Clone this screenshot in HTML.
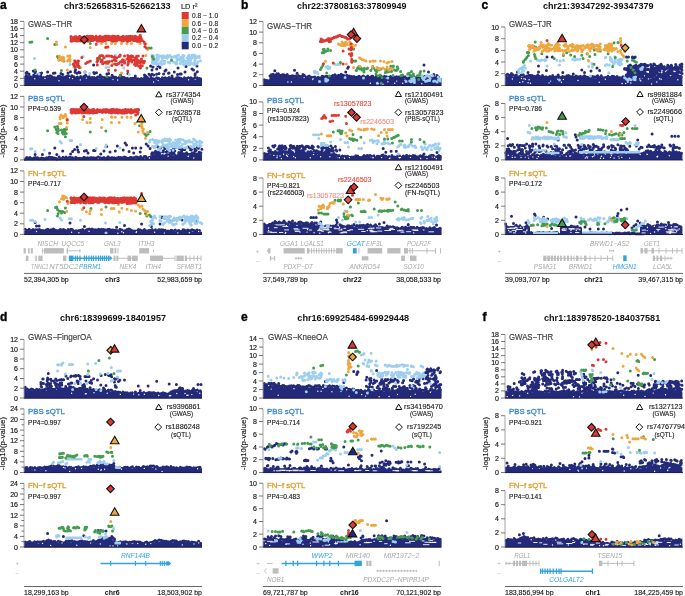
<!DOCTYPE html>
<html><head><meta charset="utf-8"><style>html,body{margin:0;padding:0;background:#fff;width:685px;height:596px;overflow:hidden}svg{display:block;will-change:transform}text{font-family:"Liberation Sans",sans-serif}</style></head><body><svg width="685" height="596" viewBox="0 0 685 596" font-family="Liberation Sans, sans-serif"><rect width="685" height="596" fill="#fff"/><path d="M24.0 85.9L24.0 76.5L25.2 76.2L26.4 77.2L27.6 76.1L28.8 77.0L30.0 76.7L31.2 76.1L32.4 77.0L33.6 76.1L34.8 76.9L36.0 76.1L37.2 76.2L38.4 76.9L39.6 77.7L40.8 76.3L42.0 76.5L43.2 77.3L44.4 78.0L45.6 77.2L46.8 76.9L48.0 78.1L49.2 76.2L50.4 77.8L51.6 76.7L52.8 76.4L54.0 76.4L55.2 76.8L56.4 77.8L57.6 76.5L58.8 77.4L60.0 77.5L61.2 77.0L62.4 77.3L63.6 76.4L64.8 76.4L66.0 76.7L67.2 77.7L68.4 77.2L69.6 77.0L70.8 77.6L72.0 77.3L73.2 77.1L74.4 78.1L75.6 77.9L76.8 77.0L78.0 77.7L79.2 77.6L80.4 78.4L81.6 78.1L82.8 77.2L84.0 78.6L85.2 76.9L86.4 77.6L87.6 78.3L88.8 77.1L90.0 77.8L91.2 76.9L92.4 78.2L93.6 78.4L94.8 78.0L96.0 78.7L97.2 77.6L98.4 78.4L99.6 78.2L100.8 78.2L102.0 77.9L103.2 78.7L104.4 79.0L105.6 78.0L106.8 78.4L108.0 77.3L109.2 78.6L110.4 78.5L111.6 79.2L112.8 78.9L114.0 77.8L115.2 78.0L116.4 78.6L117.6 77.4L118.8 78.3L120.0 77.7L121.2 77.6L122.4 77.5L123.6 78.9L124.8 77.7L126.0 78.0L127.2 78.3L128.4 79.2L129.6 77.7L130.8 78.4L132.0 78.7L133.2 79.3L134.4 79.2L135.6 79.4L136.8 78.2L138.0 78.5L139.2 78.4L140.4 79.5L141.6 79.6L142.8 78.0L144.0 78.1L145.2 78.2L146.4 78.2L147.6 78.7L148.8 78.9L150.0 78.3L151.2 77.7L152.4 78.6L153.6 78.5L154.8 78.9L156.0 79.7L157.2 79.1L158.4 78.8L159.6 79.0L160.8 79.1L162.0 77.9L163.2 79.6L164.4 79.3L165.6 79.5L166.8 79.4L168.0 78.6L169.2 78.6L170.4 78.0L171.6 79.1L172.8 77.9L174.0 77.9L175.2 78.2L176.4 78.1L177.6 78.5L178.8 77.9L180.0 77.8L181.2 78.1L182.4 78.0L183.6 78.6L184.8 77.9L186.0 79.6L187.2 79.1L188.4 78.2L189.6 78.4L190.8 78.6L192.0 78.6L193.2 78.1L194.4 79.6L195.6 79.9L196.8 78.8L198.0 78.9L199.2 78.1L200.4 78.1L201.6 78.6L202.0 78.4L202.0 85.9Z" fill="#232a79"/><path d="M24.0 160.4L24.0 158.1L25.2 157.9L26.4 158.9L27.6 158.5L28.8 157.7L30.0 158.7L31.2 157.6L32.4 159.0L33.6 158.9L34.8 159.0L36.0 158.7L37.2 158.2L38.4 158.2L39.6 158.2L40.8 159.2L42.0 157.6L43.2 159.2L44.4 157.5L45.6 157.8L46.8 157.9L48.0 159.2L49.2 158.4L50.4 158.2L51.6 159.2L52.8 157.9L54.0 158.3L55.2 158.4L56.4 158.9L57.6 158.9L58.8 158.7L60.0 158.1L61.2 158.0L62.4 157.7L63.6 159.0L64.8 158.7L66.0 158.8L67.2 157.7L68.4 158.2L69.6 158.9L70.8 158.5L72.0 157.6L73.2 158.2L74.4 159.1L75.6 157.8L76.8 157.7L78.0 157.9L79.2 158.7L80.4 159.0L81.6 157.6L82.8 157.6L84.0 157.8L85.2 157.9L86.4 158.3L87.6 157.6L88.8 157.9L90.0 157.6L91.2 159.2L92.4 158.7L93.6 157.4L94.8 159.1L96.0 157.4L97.2 158.0L98.4 159.2L99.6 158.8L100.8 158.7L102.0 158.0L103.2 157.6L104.4 158.4L105.6 157.4L106.8 157.5L108.0 157.9L109.2 157.2L110.4 157.9L111.6 158.7L112.8 158.5L114.0 158.1L115.2 158.3L116.4 158.0L117.6 157.3L118.8 158.2L120.0 157.8L121.2 158.5L122.4 158.8L123.6 157.8L124.8 158.1L126.0 158.4L127.2 157.8L128.4 157.4L129.6 158.3L130.8 158.6L132.0 158.4L133.2 158.3L134.4 158.5L135.6 158.2L136.8 158.1L138.0 157.7L139.2 157.4L140.4 158.0L141.6 157.0L142.8 157.6L144.0 158.3L145.2 158.2L146.4 158.0L147.6 157.2L148.8 157.1L150.0 156.6L151.2 156.3L152.4 155.5L153.6 156.0L154.8 156.5L156.0 155.0L157.2 156.0L158.4 156.2L159.6 155.4L160.8 155.6L162.0 156.5L163.2 154.7L164.4 155.7L165.6 154.9L166.8 156.1L168.0 156.4L169.2 155.6L170.4 154.7L171.6 155.7L172.8 155.6L174.0 155.9L175.2 155.5L176.4 155.7L177.6 156.1L178.8 155.5L180.0 155.2L181.2 156.3L182.4 154.8L183.6 155.8L184.8 155.2L186.0 155.9L187.2 154.6L188.4 156.3L189.6 155.0L190.8 154.4L192.0 154.8L193.2 155.1L194.4 154.3L195.6 155.1L196.8 155.1L198.0 155.6L199.2 154.9L200.4 154.7L201.6 154.7L202.0 155.7L202.0 160.4Z" fill="#232a79"/><path d="M24.0 234.9L24.0 231.1L25.2 231.0L26.4 229.6L27.6 229.9L28.8 229.4L30.0 230.7L31.2 230.6L32.4 230.0L33.6 230.1L34.8 230.6L36.0 230.7L37.2 229.8L38.4 231.0L39.6 230.0L40.8 230.6L42.0 229.7L43.2 229.5L44.4 231.1L45.6 230.8L46.8 230.7L48.0 229.4L49.2 229.4L50.4 229.6L51.6 229.7L52.8 229.9L54.0 230.1L55.2 229.4L56.4 229.9L57.6 230.6L58.8 229.7L60.0 231.0L61.2 230.4L62.4 230.7L63.6 229.8L64.8 230.2L66.0 230.7L67.2 230.0L68.4 229.3L69.6 231.0L70.8 230.9L72.0 229.9L73.2 229.4L74.4 231.0L75.6 230.5L76.8 229.4L78.0 229.8L79.2 229.5L80.4 230.9L81.6 229.7L82.8 231.1L84.0 230.8L85.2 229.5L86.4 230.7L87.6 230.1L88.8 230.8L90.0 231.0L91.2 229.9L92.4 229.5L93.6 231.2L94.8 230.1L96.0 231.2L97.2 230.7L98.4 230.8L99.6 231.0L100.8 230.6L102.0 230.2L103.2 229.4L104.4 230.7L105.6 230.2L106.8 230.4L108.0 231.2L109.2 229.6L110.4 230.9L111.6 229.5L112.8 230.8L114.0 231.0L115.2 229.9L116.4 230.5L117.6 231.4L118.8 230.7L120.0 230.5L121.2 230.0L122.4 229.6L123.6 230.2L124.8 230.3L126.0 229.9L127.2 230.1L128.4 229.8L129.6 231.0L130.8 230.9L132.0 230.0L133.2 230.0L134.4 230.6L135.6 230.5L136.8 231.5L138.0 230.3L139.2 230.2L140.4 231.4L141.6 229.9L142.8 230.8L144.0 230.3L145.2 231.3L146.4 230.8L147.6 231.2L148.8 230.0L150.0 231.0L151.2 230.9L152.4 230.6L153.6 231.3L154.8 231.4L156.0 230.0L157.2 230.3L158.4 230.5L159.6 230.2L160.8 229.9L162.0 230.4L163.2 230.2L164.4 231.2L165.6 230.7L166.8 230.1L168.0 230.5L169.2 230.8L170.4 230.6L171.6 230.2L172.8 230.1L174.0 230.0L175.2 231.9L176.4 231.5L177.6 230.1L178.8 231.4L180.0 231.9L181.2 231.1L182.4 230.2L183.6 231.0L184.8 230.9L186.0 230.4L187.2 231.1L188.4 230.1L189.6 231.9L190.8 231.4L192.0 231.4L193.2 232.0L194.4 231.4L195.6 230.6L196.8 230.6L198.0 230.4L199.2 230.2L200.4 231.7L201.6 231.9L202.0 230.8L202.0 234.9Z" fill="#232a79"/><path d="M263.0 85.9L263.0 80.0L264.2 81.1L265.4 80.5L266.6 79.3L267.8 79.8L269.0 80.0L270.2 75.3L271.4 75.2L272.6 74.2L273.8 75.5L275.0 74.6L276.2 74.2L277.4 75.2L278.6 74.4L279.8 75.4L281.0 75.9L282.2 75.6L283.4 75.4L284.6 74.6L285.8 75.6L287.0 74.9L288.2 76.2L289.4 75.4L290.6 76.6L291.8 76.4L293.0 76.8L294.2 77.5L295.4 76.4L296.6 76.3L297.8 77.7L299.0 76.4L300.2 77.4L301.4 77.4L302.6 76.6L303.8 75.9L305.0 75.7L306.2 77.3L307.4 75.8L308.6 76.9L309.8 77.3L311.0 76.8L312.2 77.8L313.4 77.5L314.6 78.2L315.8 78.0L317.0 77.7L318.2 77.2L319.4 77.6L320.6 77.0L321.8 76.7L323.0 76.7L324.2 77.8L325.4 76.9L326.6 77.5L327.8 75.6L329.0 77.4L330.2 76.4L331.4 76.9L332.6 76.3L333.8 76.4L335.0 75.4L336.2 76.4L337.4 75.1L338.6 75.3L339.8 74.8L341.0 75.6L342.2 76.0L343.4 75.6L344.6 76.9L345.8 75.4L347.0 76.5L348.2 75.9L349.4 76.7L350.6 77.2L351.8 77.1L353.0 75.9L354.2 76.2L355.4 77.0L356.6 77.8L357.8 75.9L359.0 77.1L360.2 77.2L361.4 77.5L362.6 76.6L363.8 77.5L365.0 76.9L366.2 77.8L367.4 76.0L368.6 77.9L369.8 76.8L371.0 76.9L372.2 76.2L373.4 76.6L374.6 77.6L375.8 77.5L377.0 76.5L378.2 76.9L379.4 76.5L380.6 76.6L381.8 76.7L383.0 76.9L384.2 78.2L385.4 78.3L386.6 77.9L387.8 77.3L389.0 77.3L390.2 77.9L391.4 78.2L392.6 77.9L393.8 77.6L395.0 76.8L396.2 77.6L397.4 78.1L398.6 78.0L399.8 76.6L401.0 77.9L402.2 77.2L403.4 76.8L404.6 78.4L405.8 77.8L407.0 78.0L408.2 76.8L409.4 78.2L410.6 78.4L411.8 78.3L413.0 78.0L414.2 78.2L415.4 78.2L416.6 77.7L417.8 77.4L419.0 78.2L420.2 78.2L421.4 78.3L422.6 77.2L423.8 78.5L425.0 77.7L426.2 78.5L427.4 76.9L428.6 78.6L429.8 78.2L431.0 77.1L432.2 78.3L433.4 77.1L434.6 77.1L435.8 77.6L437.0 77.1L438.2 77.7L439.4 78.5L440.6 78.1L441.6 78.1L441.6 85.9Z" fill="#232a79"/><path d="M263.0 160.4L263.0 155.6L264.2 154.6L265.4 153.8L266.6 154.2L267.8 155.8L269.0 153.9L270.2 154.5L271.4 153.9L272.6 154.1L273.8 152.9L275.0 152.8L276.2 152.7L277.4 154.9L278.6 153.4L279.8 154.1L281.0 153.9L282.2 153.0L283.4 152.7L284.6 152.5L285.8 154.5L287.0 152.8L288.2 154.8L289.4 153.4L290.6 154.2L291.8 152.8L293.0 154.4L294.2 153.1L295.4 153.4L296.6 153.8L297.8 152.8L299.0 153.1L300.2 154.4L301.4 153.2L302.6 153.5L303.8 154.4L305.0 153.2L306.2 153.1L307.4 153.2L308.6 153.7L309.8 153.7L311.0 154.4L312.2 154.0L313.4 155.0L314.6 153.1L315.8 154.6L317.0 155.0L318.2 153.6L319.4 153.1L320.6 154.2L321.8 153.4L323.0 154.3L324.2 154.9L325.4 153.5L326.6 153.6L327.8 154.5L329.0 153.8L330.2 153.9L331.4 154.5L332.6 153.7L333.8 153.7L335.0 155.4L336.2 156.6L337.4 157.8L338.6 156.9L339.8 155.7L341.0 156.1L342.2 157.4L343.4 156.9L344.6 157.7L345.8 157.9L347.0 157.7L348.2 155.9L349.4 157.9L350.6 157.0L351.8 156.3L353.0 156.1L354.2 157.8L355.4 156.2L356.6 155.9L357.8 156.4L359.0 157.9L360.2 156.8L361.4 157.5L362.6 155.9L363.8 156.8L365.0 156.5L366.2 156.2L367.4 157.3L368.6 156.6L369.8 156.1L371.0 158.1L372.2 156.9L373.4 156.2L374.6 155.8L375.8 157.4L377.0 157.0L378.2 155.9L379.4 156.9L380.6 157.6L381.8 157.1L383.0 156.3L384.2 157.0L385.4 157.2L386.6 157.3L387.8 156.1L389.0 157.7L390.2 158.0L391.4 157.5L392.6 157.8L393.8 156.6L395.0 157.9L396.2 156.2L397.4 156.3L398.6 157.1L399.8 157.9L401.0 155.9L402.2 156.2L403.4 155.8L404.6 156.7L405.8 156.0L407.0 156.1L408.2 157.5L409.4 157.1L410.6 157.9L411.8 156.6L413.0 157.3L414.2 155.7L415.4 157.9L416.6 156.2L417.8 156.8L419.0 156.8L420.2 157.9L421.4 156.8L422.6 158.0L423.8 157.1L425.0 156.1L426.2 157.6L427.4 156.1L428.6 158.0L429.8 156.7L431.0 156.1L432.2 157.9L433.4 156.3L434.6 156.5L435.8 156.4L437.0 157.1L438.2 155.6L439.4 156.4L440.6 155.9L441.6 157.5L441.6 160.4Z" fill="#232a79"/><path d="M263.0 234.9L263.0 224.6L264.2 225.6L265.4 224.2L266.6 225.6L267.8 224.2L269.0 223.1L270.2 224.8L271.4 223.0L272.6 224.4L273.8 222.5L275.0 225.0L276.2 223.6L277.4 224.1L278.6 222.3L279.8 223.6L281.0 222.9L282.2 222.6L283.4 224.2L284.6 222.0L285.8 223.3L287.0 222.2L288.2 224.4L289.4 224.5L290.6 222.2L291.8 223.4L293.0 223.4L294.2 224.2L295.4 224.2L296.6 223.2L297.8 224.9L299.0 222.8L300.2 222.7L301.4 224.6L302.6 222.7L303.8 222.9L305.0 223.9L306.2 223.4L307.4 223.0L308.6 225.2L309.8 224.0L311.0 224.9L312.2 223.4L313.4 225.3L314.6 223.4L315.8 225.6L317.0 225.1L318.2 226.5L319.4 226.3L320.6 226.2L321.8 226.3L323.0 227.6L324.2 226.8L325.4 226.0L326.6 228.3L327.8 227.9L329.0 227.4L330.2 227.5L331.4 226.0L332.6 226.6L333.8 227.5L335.0 227.8L336.2 227.6L337.4 225.4L338.6 226.8L339.8 226.4L341.0 225.9L342.2 225.3L343.4 225.2L344.6 226.1L345.8 226.2L347.0 225.5L348.2 225.8L349.4 226.4L350.6 226.9L351.8 226.5L353.0 225.3L354.2 227.3L355.4 225.8L356.6 227.5L357.8 227.5L359.0 225.2L360.2 226.4L361.4 227.5L362.6 225.9L363.8 226.4L365.0 225.8L366.2 225.0L367.4 225.6L368.6 225.4L369.8 225.8L371.0 226.8L372.2 226.7L373.4 227.8L374.6 227.1L375.8 226.2L377.0 227.9L378.2 227.0L379.4 226.8L380.6 227.8L381.8 227.3L383.0 226.5L384.2 227.3L385.4 226.5L386.6 228.5L387.8 226.6L389.0 228.7L390.2 226.2L391.4 226.2L392.6 227.8L393.8 226.9L395.0 227.8L396.2 226.8L397.4 228.9L398.6 228.6L399.8 228.7L401.0 229.4L402.2 229.6L403.4 228.7L404.6 228.9L405.8 226.9L407.0 227.0L408.2 228.1L409.4 229.6L410.6 227.8L411.8 228.5L413.0 227.0L414.2 228.1L415.4 229.5L416.6 228.7L417.8 229.3L419.0 227.1L420.2 227.6L421.4 227.6L422.6 229.4L423.8 227.4L425.0 229.7L426.2 227.9L427.4 229.6L428.6 228.6L429.8 228.1L431.0 229.9L432.2 228.3L433.4 229.2L434.6 227.4L435.8 229.6L437.0 230.0L438.2 227.6L439.4 229.4L440.6 228.0L441.6 227.7L441.6 234.9Z" fill="#232a79"/><path d="M505.0 85.9L505.0 75.0L506.2 75.6L507.4 76.4L508.6 75.3L509.8 75.0L511.0 75.9L512.2 75.8L513.4 77.0L514.6 77.0L515.8 75.4L517.0 76.2L518.2 75.9L519.4 75.1L520.6 76.1L521.8 77.2L523.0 75.8L524.2 76.5L525.4 76.8L526.6 75.3L527.8 77.4L529.0 75.5L530.2 76.0L531.4 77.0L532.6 75.3L533.8 76.2L535.0 75.6L536.2 76.5L537.4 75.4L538.6 75.8L539.8 76.0L541.0 75.7L542.2 75.7L543.4 76.0L544.6 76.8L545.8 75.9L547.0 77.6L548.2 76.6L549.4 76.3L550.6 76.3L551.8 77.7L553.0 75.9L554.2 77.6L555.4 76.0L556.6 78.1L557.8 76.8L559.0 77.3L560.2 78.0L561.4 76.1L562.6 76.1L563.8 77.6L565.0 77.3L566.2 77.6L567.4 76.6L568.6 77.1L569.8 76.3L571.0 76.9L572.2 76.6L573.4 77.3L574.6 76.6L575.8 76.6L577.0 77.4L578.2 76.1L579.4 77.8L580.6 77.1L581.8 76.4L583.0 76.2L584.2 77.1L585.4 77.1L586.6 77.6L587.8 76.8L589.0 76.9L590.2 78.0L591.4 76.6L592.6 78.3L593.8 78.0L595.0 78.3L596.2 78.2L597.4 76.5L598.6 77.9L599.8 77.4L601.0 76.4L602.2 78.3L603.4 77.5L604.6 77.9L605.8 77.3L607.0 76.1L608.2 78.0L609.4 76.4L610.6 76.6L611.8 77.4L613.0 76.4L614.2 77.1L615.4 77.7L616.6 76.2L617.8 77.6L619.0 76.2L620.2 77.1L621.4 77.6L622.6 77.7L623.8 76.3L625.0 76.7L626.2 78.7L627.4 77.4L628.6 77.5L629.8 77.4L631.0 78.1L632.2 78.2L633.4 78.0L634.6 77.4L635.8 77.8L637.0 77.7L638.2 76.9L639.4 78.7L640.6 78.7L641.8 78.2L643.0 78.7L644.2 77.5L645.4 78.4L646.6 76.9L647.8 78.1L649.0 78.0L650.2 78.5L651.4 78.3L652.6 78.4L653.8 76.9L655.0 78.1L656.2 77.4L657.4 77.0L658.6 77.1L659.8 78.1L661.0 78.2L662.2 78.2L663.4 77.8L664.6 76.6L665.8 76.5L667.0 77.5L668.2 76.6L669.4 76.9L670.6 76.4L671.8 76.5L673.0 77.8L674.2 76.6L675.4 78.1L676.6 76.8L677.8 78.1L679.0 76.8L680.2 76.7L681.4 77.0L682.4 76.0L682.4 85.9Z" fill="#232a79"/><path d="M505.0 159.9L505.0 153.2L506.2 153.9L507.4 155.9L508.6 154.6L509.8 153.9L511.0 155.8L512.2 156.0L513.4 153.7L514.6 154.9L515.8 155.1L517.0 153.8L518.2 154.4L519.4 155.3L520.6 155.5L521.8 155.4L523.0 155.4L524.2 154.7L525.4 153.8L526.6 153.7L527.8 156.2L529.0 156.3L530.2 156.4L531.4 154.0L532.6 156.1L533.8 154.3L535.0 154.8L536.2 154.4L537.4 156.4L538.6 156.3L539.8 156.4L541.0 155.0L542.2 156.7L543.4 154.7L544.6 155.7L545.8 156.0L547.0 154.7L548.2 155.1L549.4 154.3L550.6 156.4L551.8 154.6L553.0 154.5L554.2 154.9L555.4 156.0L556.6 156.1L557.8 155.7L559.0 156.7L560.2 156.5L561.4 154.8L562.6 155.8L563.8 154.7L565.0 154.9L566.2 154.6L567.4 154.4L568.6 155.3L569.8 156.9L571.0 156.2L572.2 154.5L573.4 154.9L574.6 156.0L575.8 155.8L577.0 154.3L578.2 154.5L579.4 155.9L580.6 156.0L581.8 154.4L583.0 156.5L584.2 154.9L585.4 156.0L586.6 155.8L587.8 155.2L589.0 157.0L590.2 155.4L591.4 155.5L592.6 155.8L593.8 156.7L595.0 157.2L596.2 156.5L597.4 155.8L598.6 156.4L599.8 156.1L601.0 157.0L602.2 157.0L603.4 156.3L604.6 154.6L605.8 155.6L607.0 155.2L608.2 154.5L609.4 156.1L610.6 154.4L611.8 155.8L613.0 155.1L614.2 154.8L615.4 155.6L616.6 155.6L617.8 156.4L619.0 156.4L620.2 155.7L621.4 154.0L622.6 155.2L623.8 154.6L625.0 155.9L626.2 154.4L627.4 154.1L628.6 153.0L629.8 154.3L631.0 154.4L632.2 153.7L633.4 153.0L634.6 154.1L635.8 152.8L637.0 153.1L638.2 153.8L639.4 153.5L640.6 153.9L641.8 153.9L643.0 153.5L644.2 152.6L645.4 152.2L646.6 153.8L647.8 155.0L649.0 152.9L650.2 153.1L651.4 153.0L652.6 154.2L653.8 153.4L655.0 154.3L656.2 151.9L657.4 152.3L658.6 152.5L659.8 152.9L661.0 153.0L662.2 152.9L663.4 154.6L664.6 153.0L665.8 153.4L667.0 154.5L668.2 153.5L669.4 153.3L670.6 154.0L671.8 152.5L673.0 151.6L674.2 154.3L675.4 153.0L676.6 153.1L677.8 151.5L679.0 153.5L680.2 152.4L681.4 153.2L682.4 152.1L682.4 159.9Z" fill="#232a79"/><path d="M505.0 234.9L505.0 228.0L506.2 227.1L507.4 225.7L508.6 227.2L509.8 226.7L511.0 226.4L512.2 226.5L513.4 225.9L514.6 226.2L515.8 227.5L517.0 227.9L518.2 226.7L519.4 227.9L520.6 225.8L521.8 227.0L523.0 227.7L524.2 227.8L525.4 226.7L526.6 226.1L527.8 228.5L529.0 227.5L530.0 227.7L530.0 234.9Z" fill="#232a79"/><path d="M530.0 234.9L530.0 233.4L531.2 233.3L532.4 233.0L533.6 233.1L534.8 233.2L536.0 233.1L537.2 233.3L538.4 232.8L539.6 233.1L540.8 233.7L542.0 233.1L543.2 233.2L544.4 233.5L545.6 233.5L546.8 233.4L548.0 233.1L549.2 233.4L550.4 232.9L551.6 233.3L552.8 232.7L554.0 232.9L555.2 232.9L556.4 233.1L557.6 233.4L558.8 232.7L560.0 233.6L560.0 234.9Z" fill="#232a79"/><path d="M560.0 234.9L560.0 226.8L561.2 228.4L562.4 227.4L563.6 228.5L564.8 228.5L566.0 228.0L567.2 227.2L568.4 226.6L569.6 227.6L570.8 226.9L572.0 228.5L573.2 226.1L574.4 227.9L575.6 227.1L576.8 227.3L578.0 227.7L579.2 229.1L580.4 229.1L581.6 227.3L582.0 229.1L582.0 234.9Z" fill="#232a79"/><path d="M582.0 234.9L582.0 233.8L583.2 233.3L584.4 233.9L585.6 233.0L586.8 233.3L588.0 233.3L589.2 233.9L590.4 233.1L591.6 233.7L592.8 233.9L594.0 234.0L595.2 233.8L596.4 233.1L597.6 233.5L598.8 233.3L600.0 233.2L601.2 233.3L602.4 233.8L603.6 233.6L604.8 233.2L606.0 233.4L607.2 233.1L608.4 234.0L609.6 233.8L610.8 233.6L612.0 234.1L613.2 234.1L614.4 233.3L615.6 233.4L616.8 233.3L618.0 233.7L619.2 233.7L620.4 233.6L621.6 233.9L622.8 233.7L624.0 233.4L625.2 233.8L626.4 234.1L627.6 233.2L628.8 233.6L630.0 233.3L631.2 233.9L632.4 233.6L633.6 234.0L634.8 233.8L636.0 234.1L637.2 233.8L638.4 233.8L639.6 234.2L640.8 234.0L642.0 233.5L643.2 233.3L644.4 234.1L645.0 233.3L645.0 234.9Z" fill="#232a79"/><path d="M640.0 234.9L640.0 225.9L641.2 226.2L642.4 227.0L643.6 224.8L644.8 226.2L646.0 226.3L647.2 226.7L648.4 225.5L649.6 226.3L650.8 226.6L652.0 225.5L653.2 226.4L654.4 227.1L655.6 225.4L656.8 225.9L658.0 225.7L659.2 226.7L660.4 225.0L661.6 225.1L662.8 225.4L664.0 226.2L665.2 224.8L666.4 227.3L667.6 225.9L668.8 226.6L670.0 225.7L671.2 224.5L672.4 225.6L673.6 226.2L674.8 224.8L676.0 227.5L677.2 226.3L678.4 226.0L679.6 224.7L680.8 225.4L682.0 225.7L682.4 226.6L682.4 234.9Z" fill="#232a79"/><path d="M24.0 398.5L24.0 386.7L25.2 387.5L26.4 390.4L27.6 389.4L28.8 390.8L30.0 390.4L31.2 389.8L32.4 390.9L33.6 390.1L34.8 391.2L36.0 390.3L37.2 391.1L38.4 391.1L39.6 390.0L40.8 390.5L42.0 390.6L43.2 390.4L44.4 389.0L45.6 390.3L46.8 390.4L48.0 389.2L49.2 388.9L50.4 388.8L51.6 389.5L52.8 388.5L54.0 389.8L55.2 388.8L56.4 389.7L57.6 389.0L58.8 388.2L60.0 387.6L61.2 388.1L62.4 388.5L63.6 389.1L64.8 389.2L66.0 388.1L67.2 387.6L68.4 388.9L69.6 389.1L70.8 389.0L72.0 389.4L73.2 389.5L74.4 389.2L75.6 389.6L76.8 388.3L78.0 390.0L79.2 389.5L80.4 388.4L81.6 388.6L82.8 389.7L84.0 389.1L85.2 390.4L86.4 389.2L87.6 389.6L88.8 389.8L90.0 390.7L91.2 389.5L92.4 390.8L93.6 390.5L94.8 390.3L96.0 391.1L97.2 391.0L98.4 390.8L99.6 390.5L100.8 389.6L102.0 390.0L103.2 391.0L104.4 390.0L105.6 391.1L106.8 390.6L108.0 390.7L109.2 391.7L110.4 391.8L111.6 391.7L112.8 391.3L114.0 391.8L115.2 393.0L116.4 393.2L117.6 392.8L118.8 392.1L120.0 394.0L121.2 392.3L122.4 392.5L123.6 393.6L124.8 392.6L126.0 393.8L127.2 393.6L128.4 392.6L129.6 394.1L130.8 394.3L132.0 393.6L133.2 394.3L134.4 393.9L135.6 393.3L136.8 394.0L138.0 394.3L139.2 393.8L140.4 392.6L141.6 393.2L142.8 393.8L144.0 393.2L145.2 392.8L146.4 393.4L147.6 392.8L148.8 393.4L150.0 392.7L151.2 394.0L152.4 393.0L153.6 394.4L154.8 392.8L156.0 393.8L157.2 393.9L158.4 393.0L159.6 393.9L160.8 393.7L162.0 393.9L163.2 393.0L164.4 393.6L165.6 394.3L166.8 393.9L168.0 393.2L169.2 393.4L170.4 394.3L171.6 392.0L172.8 392.3L174.0 391.7L175.2 391.1L176.4 390.2L177.6 390.4L178.8 391.9L180.0 391.1L181.2 390.8L182.4 391.1L183.6 390.3L184.8 390.4L186.0 391.9L187.2 391.7L188.4 390.6L189.6 390.8L190.8 390.4L192.0 390.8L193.2 391.2L194.4 391.7L195.6 391.2L196.8 391.9L198.0 392.2L199.2 391.3L200.4 390.3L201.6 390.5L202.0 391.5L202.0 398.5Z" fill="#232a79"/><path d="M24.0 473.1L24.0 469.4L25.2 468.5L26.4 468.3L27.6 468.5L28.8 469.1L30.0 468.5L31.2 469.0L32.4 469.5L33.6 469.0L34.8 468.5L36.0 468.9L37.2 468.4L38.4 468.5L39.6 468.2L40.8 469.2L42.0 469.2L43.2 468.4L44.4 468.3L45.6 467.2L46.8 467.7L48.0 468.1L49.2 466.3L50.4 467.0L51.6 465.5L52.8 466.4L54.0 465.5L55.2 466.2L56.4 466.6L57.6 465.2L58.8 466.8L60.0 466.2L61.2 466.0L62.4 466.4L63.6 467.2L64.8 467.9L66.0 467.1L67.2 467.1L68.4 467.8L69.6 468.9L70.8 468.4L72.0 469.1L73.2 468.9L74.4 468.1L75.6 468.4L76.8 467.4L78.0 468.3L79.2 468.3L80.4 467.3L81.6 468.1L82.8 467.0L84.0 468.5L85.2 467.6L86.4 468.2L87.6 467.6L88.8 466.6L90.0 467.6L91.2 467.2L92.4 466.7L93.6 467.2L94.8 467.2L96.0 466.8L97.2 465.5L98.4 466.6L99.6 466.1L100.8 465.1L102.0 466.1L103.2 466.2L104.4 464.9L105.6 464.6L106.8 464.7L108.0 465.2L109.2 464.5L110.4 464.7L111.6 465.7L112.8 464.8L114.0 466.9L115.2 467.4L116.4 468.6L117.6 467.7L118.8 468.1L120.0 467.6L121.2 467.1L122.4 468.8L123.6 467.8L124.8 467.6L126.0 468.9L127.2 467.7L128.4 468.1L129.6 467.2L130.8 467.8L132.0 468.7L133.2 468.6L134.4 468.5L135.6 468.7L136.8 467.3L138.0 466.9L139.2 467.1L140.4 468.1L141.6 467.8L142.8 467.5L144.0 468.1L145.2 467.1L146.4 467.8L147.6 467.4L148.8 466.8L150.0 468.0L151.2 466.8L152.4 467.9L153.6 467.8L154.8 467.1L156.0 467.2L157.2 466.7L158.4 466.6L159.6 467.8L160.8 467.2L162.0 467.7L163.2 467.3L164.4 467.2L165.6 467.0L166.8 468.2L168.0 467.6L169.2 467.1L170.4 468.5L171.6 467.1L172.8 467.3L174.0 467.1L175.2 468.0L176.4 468.4L177.6 466.9L178.8 468.7L180.0 468.3L181.2 468.6L182.4 467.8L183.6 467.8L184.8 467.2L186.0 467.5L187.2 468.7L188.4 467.6L189.6 468.8L190.8 468.7L192.0 468.9L193.2 467.4L194.4 467.9L195.6 468.8L196.8 467.8L198.0 467.6L199.2 467.2L200.4 468.2L201.6 468.3L202.0 467.6L202.0 473.1Z" fill="#232a79"/><path d="M24.0 547.5L24.0 543.5L25.2 542.5L26.4 543.5L27.6 543.2L28.8 542.2L30.0 542.3L31.2 542.9L32.4 541.8L33.6 542.0L34.8 541.8L36.0 541.6L37.2 543.2L38.4 543.4L39.6 543.0L40.8 542.3L42.0 542.8L43.2 542.6L44.4 542.1L45.6 541.8L46.8 540.3L48.0 539.7L49.2 540.5L50.4 541.1L51.6 542.3L52.8 541.7L54.0 541.7L55.2 542.9L56.4 542.7L57.6 543.0L58.8 542.7L60.0 541.5L61.2 542.1L62.4 542.7L63.6 542.7L64.8 541.5L66.0 542.0L67.2 542.2L68.4 541.0L69.6 541.5L70.8 542.5L72.0 542.3L73.2 541.8L74.4 542.1L75.6 542.0L76.8 541.6L78.0 541.1L79.2 542.4L80.4 542.4L81.6 541.7L82.8 542.4L84.0 542.5L85.2 542.2L86.4 542.4L87.6 542.7L88.8 540.9L90.0 542.6L91.2 541.6L92.4 542.3L93.6 542.2L94.8 540.9L96.0 541.4L97.2 539.8L98.4 540.5L99.6 539.1L100.8 539.0L102.0 538.7L103.2 539.8L104.4 539.5L105.6 538.8L106.8 539.7L108.0 538.6L109.2 539.8L110.4 539.4L111.6 539.7L112.8 540.2L114.0 542.2L115.2 542.8L116.4 543.1L117.6 543.4L118.8 543.3L120.0 542.7L121.2 542.7L122.4 543.7L123.6 543.7L124.8 544.0L126.0 543.4L127.2 543.0L128.4 542.8L129.6 543.4L130.8 543.3L132.0 543.9L133.2 543.4L134.4 542.7L135.6 542.5L136.8 542.0L138.0 543.4L139.2 542.7L140.4 542.6L141.6 541.9L142.8 542.8L144.0 543.6L145.2 542.3L146.4 543.2L147.6 543.3L148.8 543.0L150.0 542.9L151.2 542.0L152.4 542.7L153.6 542.3L154.8 542.9L156.0 541.8L157.2 541.3L158.4 542.3L159.6 541.5L160.8 540.9L162.0 541.6L163.2 540.7L164.4 540.8L165.6 542.2L166.8 541.5L168.0 542.2L169.2 541.1L170.4 541.7L171.6 541.2L172.8 542.4L174.0 542.0L175.2 541.6L176.4 541.7L177.6 541.4L178.8 541.4L180.0 542.4L181.2 541.7L182.4 541.3L183.6 541.9L184.8 542.1L186.0 543.2L187.2 542.0L188.4 542.1L189.6 543.3L190.8 542.8L192.0 542.3L193.2 542.2L194.4 541.9L195.6 541.8L196.8 542.5L198.0 542.9L199.2 541.8L200.4 542.6L201.6 542.0L202.0 542.9L202.0 547.5Z" fill="#232a79"/><path d="M263.0 398.5L263.0 384.7L264.2 383.6L265.4 385.3L266.6 385.0L267.8 385.4L269.0 384.8L270.2 384.9L271.4 385.4L272.6 385.2L273.8 384.9L275.0 383.8L276.2 384.8L277.4 386.9L278.6 387.2L279.8 386.3L281.0 386.0L282.2 386.4L283.4 387.2L284.6 387.1L285.8 385.8L287.0 386.0L288.2 386.0L289.4 387.1L290.6 386.1L291.8 387.4L293.0 386.4L294.2 386.0L295.4 386.5L296.6 385.9L297.8 387.4L299.0 385.7L300.2 386.5L301.4 386.4L302.6 385.8L303.8 386.1L305.0 387.7L306.2 387.4L307.4 386.6L308.6 387.5L309.8 387.6L311.0 387.5L312.2 387.2L313.4 386.9L314.6 386.8L315.8 387.2L317.0 387.0L318.2 387.8L319.4 386.2L320.6 387.6L321.8 387.3L323.0 386.7L324.2 387.6L325.4 386.4L326.6 386.7L327.8 387.0L329.0 387.8L330.2 386.4L331.4 387.7L332.6 387.4L333.8 387.9L335.0 386.8L336.2 387.6L337.4 388.1L338.6 388.1L339.8 387.8L341.0 388.2L342.2 387.8L343.4 387.7L344.6 387.1L345.8 388.1L347.0 389.5L348.2 389.9L349.4 388.5L350.6 389.4L351.8 389.4L353.0 390.7L354.2 389.5L355.4 390.8L356.6 389.8L357.8 390.2L359.0 391.5L360.2 390.0L361.4 391.0L362.6 390.5L363.8 391.6L365.0 390.3L366.2 391.6L367.4 390.7L368.6 392.1L369.8 390.9L371.0 391.5L372.2 390.3L373.4 392.1L374.6 391.5L375.8 392.0L377.0 391.7L378.2 390.3L379.4 391.7L380.6 391.0L381.8 390.6L383.0 392.0L384.2 391.5L385.4 390.9L386.6 390.3L387.8 391.5L389.0 390.3L390.2 390.7L391.4 390.3L392.6 390.5L393.8 391.7L395.0 390.7L396.2 392.2L397.4 390.8L398.6 391.8L399.8 391.7L401.0 391.5L402.2 391.4L403.4 390.5L404.6 391.9L405.8 392.0L407.0 391.3L408.2 390.6L409.4 390.4L410.6 390.7L411.8 392.1L413.0 390.8L414.2 390.8L415.4 391.3L416.6 390.3L417.8 391.8L419.0 391.8L420.2 390.8L421.4 390.2L422.6 391.9L423.8 391.6L425.0 391.5L426.2 390.3L427.4 391.8L428.6 391.1L429.8 389.8L431.0 391.7L432.2 391.0L433.4 389.9L434.6 391.3L435.8 390.7L437.0 390.7L438.2 389.4L439.4 389.7L440.6 390.8L441.6 389.2L441.6 398.5Z" fill="#232a79"/><path d="M263.0 472.9L263.0 469.2L264.2 469.2L265.4 469.0L266.6 468.9L267.8 469.5L269.0 470.0L270.2 468.7L271.4 469.6L272.6 469.3L273.8 469.5L275.0 469.6L276.2 469.0L277.4 468.2L278.6 468.9L279.8 469.3L281.0 469.5L282.2 470.0L283.4 469.5L284.6 469.5L285.8 468.9L287.0 469.8L288.2 468.4L289.4 469.9L290.6 469.1L291.8 469.1L293.0 469.5L294.2 469.2L295.4 470.1L296.6 468.4L297.8 468.2L299.0 469.3L300.2 468.6L301.4 468.6L302.6 470.1L303.8 469.2L305.0 468.7L306.2 468.9L307.4 468.6L308.6 468.7L309.8 468.4L311.0 470.1L312.2 469.7L313.4 468.9L314.6 468.4L315.8 470.2L317.0 470.0L318.2 468.4L319.4 470.0L320.6 469.4L321.8 470.2L323.0 469.2L324.2 469.2L325.4 468.3L326.6 469.5L327.8 468.8L329.0 470.1L330.2 468.8L331.4 470.1L332.6 469.0L333.8 470.0L335.0 469.8L336.2 470.3L337.4 469.5L338.6 469.1L339.8 468.9L341.0 468.9L342.2 468.6L343.4 469.0L344.6 469.1L345.8 470.1L347.0 468.5L348.2 469.5L349.4 469.5L350.6 468.8L351.8 469.9L353.0 468.9L354.2 470.0L355.4 468.9L356.6 470.3L357.8 469.1L359.0 468.7L360.2 468.8L361.4 468.9L362.6 468.8L363.8 469.2L365.0 470.5L366.2 469.3L367.4 469.3L368.6 470.0L369.8 468.7L371.0 468.7L372.2 470.3L373.4 469.2L374.6 468.9L375.8 468.9L377.0 470.0L378.2 470.5L379.4 469.4L380.6 470.0L381.8 469.5L383.0 469.0L384.2 469.2L385.4 469.3L386.6 469.1L387.8 470.2L389.0 468.8L390.2 469.4L391.4 470.1L392.6 468.7L393.8 470.5L395.0 469.8L396.2 469.9L397.4 469.0L398.6 469.0L399.8 470.3L401.0 470.6L402.2 468.6L403.4 470.3L404.6 469.0L405.8 468.8L407.0 469.8L408.2 468.8L409.4 470.3L410.6 470.3L411.8 469.2L413.0 468.9L414.2 469.7L415.4 470.1L416.6 468.7L417.8 470.1L419.0 468.9L420.2 469.4L421.4 469.0L422.6 468.8L423.8 469.7L425.0 469.3L426.2 470.5L427.4 470.5L428.6 470.1L429.8 469.7L431.0 470.0L432.2 469.3L433.4 469.6L434.6 469.8L435.8 469.5L437.0 469.6L438.2 470.4L439.4 470.7L440.6 470.2L441.6 470.4L441.6 472.9Z" fill="#232a79"/><path d="M263.0 547.5L263.0 541.0L264.2 541.4L265.4 540.7L266.6 540.7L267.8 539.8L269.0 539.7L270.2 540.0L271.4 541.0L272.6 540.5L273.8 539.7L275.0 541.2L276.2 540.3L277.4 541.4L278.6 540.6L279.8 540.8L281.0 539.8L282.2 541.4L283.4 540.1L284.6 540.6L285.8 539.9L287.0 540.2L288.2 539.4L289.4 539.8L290.6 539.9L291.8 540.7L293.0 539.3L294.2 539.4L295.4 540.5L296.6 540.1L297.8 541.0L299.0 539.0L300.2 540.0L301.4 540.9L302.6 540.8L303.8 539.8L305.0 540.2L306.2 539.9L307.4 539.0L308.6 539.2L309.8 539.6L311.0 541.2L312.2 539.5L313.4 539.8L314.6 540.5L315.8 540.8L317.0 540.7L318.2 539.9L319.4 540.0L320.6 539.2L321.8 541.1L323.0 540.2L324.2 540.0L325.4 539.8L326.6 540.5L327.8 539.7L329.0 540.1L330.2 539.6L331.4 539.8L332.6 540.7L333.8 540.2L335.0 539.7L336.2 541.5L337.4 539.6L338.6 540.5L339.8 540.2L341.0 539.8L342.2 540.6L343.4 541.2L344.6 542.1L345.8 541.1L347.0 541.5L348.2 542.8L349.4 542.2L350.6 541.8L351.8 541.2L353.0 542.7L354.2 543.0L355.4 541.4L356.6 542.9L357.8 541.8L359.0 542.1L360.2 541.0L361.4 541.3L362.6 541.0L363.8 540.7L365.0 541.9L366.2 541.9L367.4 540.1L368.6 541.0L369.8 539.6L371.0 540.0L372.2 538.8L373.4 540.2L374.6 539.0L375.8 539.1L377.0 539.6L378.2 538.9L379.4 538.9L380.6 539.4L381.8 538.8L383.0 539.1L384.2 538.4L385.4 538.0L386.6 538.2L387.8 540.0L389.0 539.1L390.2 537.7L391.4 538.1L392.6 539.0L393.8 538.9L395.0 540.0L396.2 539.8L397.4 537.8L398.6 539.5L399.8 540.0L401.0 539.4L402.2 539.9L403.4 538.5L404.6 539.1L405.8 539.2L407.0 539.5L408.2 539.3L409.4 539.5L410.6 538.4L411.8 539.5L413.0 539.0L414.2 539.9L415.4 538.3L416.6 539.0L417.8 539.6L419.0 539.3L420.2 539.2L421.4 537.9L422.6 537.9L423.8 538.3L425.0 539.1L426.2 537.6L427.4 539.2L428.6 538.0L429.8 538.2L431.0 538.5L432.2 539.2L433.4 539.6L434.6 540.2L435.8 538.6L437.0 538.3L438.2 540.2L439.4 539.6L440.6 540.5L441.6 540.0L441.6 547.5Z" fill="#232a79"/><path d="M505.0 398.5L505.0 393.0L506.2 392.0L507.4 392.5L508.6 391.7L509.8 391.6L511.0 391.4L512.2 391.9L513.4 392.7L514.6 392.2L515.8 391.8L517.0 392.2L518.2 392.3L519.4 391.7L520.6 392.1L521.8 392.9L523.0 392.1L524.2 393.0L525.4 392.6L526.6 391.6L527.8 392.9L529.0 392.5L530.2 392.1L531.4 391.7L532.6 392.5L533.8 391.7L535.0 392.1L536.2 391.6L537.4 392.1L538.6 392.9L539.8 392.4L541.0 392.2L542.2 392.4L543.4 392.4L544.6 392.4L545.8 391.9L547.0 391.7L548.2 392.4L549.4 392.9L550.6 392.8L551.8 392.2L553.0 391.9L554.2 392.3L555.4 391.5L556.6 392.2L557.8 392.7L559.0 392.9L560.2 391.5L561.4 391.7L562.6 392.2L563.8 392.4L565.0 392.9L566.2 391.6L567.4 391.6L568.6 392.2L569.8 392.7L571.0 391.4L572.2 392.0L573.4 392.5L574.6 392.1L575.8 391.7L577.0 391.5L578.2 392.6L579.4 392.2L580.6 392.3L581.8 392.5L583.0 392.6L584.2 392.0L585.4 392.0L586.6 392.9L587.8 391.5L589.0 392.6L590.2 392.1L591.4 392.3L592.6 391.8L593.8 392.9L595.0 391.9L596.2 391.9L597.4 391.5L598.6 392.8L599.8 392.7L601.0 391.5L602.2 391.6L603.4 391.8L604.6 391.4L605.8 392.1L607.0 392.7L608.2 392.4L609.4 392.1L610.6 392.8L611.8 391.7L613.0 391.7L614.2 391.6L615.4 392.2L616.6 391.9L617.8 391.4L619.0 392.0L620.2 392.7L621.4 392.5L622.6 392.1L623.8 392.5L625.0 391.9L626.2 391.9L627.4 392.2L628.6 391.4L629.8 392.0L631.0 391.8L632.2 391.5L633.4 391.8L634.6 391.3L635.8 392.0L637.0 391.1L638.2 391.6L639.4 391.0L640.6 391.8L641.8 391.0L643.0 392.2L644.2 390.9L645.4 392.1L646.6 391.3L647.8 392.3L649.0 391.3L650.2 391.0L651.4 391.8L652.6 391.1L653.8 392.0L655.0 391.5L656.2 391.1L657.4 391.6L658.6 391.0L659.8 391.1L661.0 390.8L662.2 391.0L663.4 391.0L664.6 390.9L665.8 391.3L667.0 391.3L668.2 391.5L669.4 391.4L670.6 391.6L671.8 391.5L673.0 391.3L674.2 391.9L675.4 390.7L676.6 390.9L677.8 390.5L679.0 391.9L680.2 391.8L681.4 391.1L682.4 391.7L682.4 398.5Z" fill="#232a79"/><path d="M505.0 472.9L505.0 468.0L506.2 467.9L507.4 466.9L508.6 467.1L509.8 467.4L511.0 466.6L512.2 467.5L513.4 466.7L514.6 468.2L515.8 467.3L517.0 467.3L518.2 467.0L519.4 467.1L520.6 467.1L521.8 468.8L523.0 467.7L524.2 468.0L525.4 467.4L526.6 469.0L527.8 468.1L529.0 467.0L530.2 468.4L531.4 466.6L532.6 469.2L533.8 468.6L535.0 467.2L536.2 467.8L537.4 469.0L538.6 468.7L539.8 468.7L541.0 468.2L542.2 467.2L543.4 468.4L544.6 468.2L545.8 467.1L547.0 466.8L548.2 468.0L549.4 469.0L550.6 467.5L551.8 468.3L553.0 466.9L554.2 468.9L555.4 468.9L556.6 467.4L557.8 468.4L559.0 468.5L560.2 467.7L561.4 468.8L562.6 466.7L563.8 467.3L565.0 466.8L566.2 468.7L567.4 468.4L568.6 467.1L569.8 468.2L571.0 467.8L572.2 468.0L573.4 467.5L574.6 467.9L575.8 467.9L577.0 467.3L578.2 467.4L579.4 466.8L580.6 468.1L581.8 468.5L583.0 467.0L584.2 467.9L585.4 467.4L586.6 466.9L587.8 466.6L589.0 466.5L590.2 468.4L591.4 466.8L592.6 467.2L593.8 467.8L595.0 467.0L596.2 468.0L597.4 467.8L598.6 467.1L599.8 468.3L601.0 468.2L602.2 469.0L603.4 467.5L604.6 468.6L605.8 468.2L607.0 468.1L608.2 466.7L609.4 467.4L610.6 467.8L611.8 466.8L613.0 466.9L614.2 468.8L615.4 467.0L616.6 468.2L617.8 467.3L619.0 468.1L620.2 467.7L621.4 467.4L622.6 467.9L623.8 467.5L625.0 469.2L626.2 468.0L627.4 467.1L628.6 468.7L629.8 467.2L631.0 468.8L632.2 468.8L633.4 469.2L634.6 468.2L635.8 468.8L637.0 468.9L638.2 469.0L639.4 468.5L640.6 469.0L641.8 468.3L643.0 467.0L644.2 466.6L645.4 467.6L646.6 467.8L647.8 466.3L649.0 467.7L650.2 467.4L651.4 467.1L652.6 466.2L653.8 466.0L655.0 466.0L656.2 467.0L657.4 466.4L658.6 465.8L659.8 465.6L661.0 467.3L662.2 465.7L663.4 465.6L664.6 466.5L665.8 465.3L667.0 466.2L668.2 465.6L669.4 467.3L670.6 466.5L671.8 466.3L673.0 466.2L674.2 465.1L675.4 467.2L676.6 467.4L677.8 465.0L679.0 466.4L680.2 467.0L681.4 467.1L682.4 467.4L682.4 472.9Z" fill="#232a79"/><path d="M505.0 547.5L505.0 539.2L506.2 539.0L507.4 539.5L508.6 539.8L509.8 541.2L511.0 541.0L512.2 540.1L513.4 540.3L514.6 540.1L515.8 540.6L517.0 539.4L518.2 539.9L519.4 537.9L520.6 537.4L521.8 537.4L523.0 537.6L524.2 537.2L525.4 538.3L526.6 537.2L527.8 538.2L529.0 539.2L530.2 540.0L531.4 540.0L532.6 539.1L533.8 539.6L535.0 538.1L536.2 540.4L537.4 539.8L538.6 540.1L539.8 538.4L541.0 539.2L542.2 538.9L543.4 540.3L544.6 540.2L545.8 538.6L547.0 540.7L548.2 538.8L549.4 538.6L550.6 539.7L551.8 539.5L553.0 540.8L554.2 538.5L555.4 540.7L556.6 540.3L557.8 539.2L559.0 538.8L560.2 540.3L561.4 538.6L562.6 539.3L563.8 538.8L565.0 539.5L566.2 541.2L567.4 540.8L568.6 540.1L569.8 540.3L571.0 540.3L572.2 540.7L573.4 540.9L574.6 541.2L575.8 541.2L577.0 539.7L578.2 541.3L579.4 539.5L580.6 539.1L581.8 540.6L583.0 539.0L584.2 541.3L585.4 541.7L586.6 541.4L587.8 540.2L589.0 541.0L590.2 539.9L591.4 541.1L592.6 542.2L593.8 540.8L595.0 540.8L596.2 541.7L597.4 542.0L598.6 542.3L599.8 542.7L601.0 542.1L602.2 543.6L603.4 543.2L604.6 543.5L605.8 542.7L607.0 544.2L608.2 543.9L609.4 543.3L610.6 542.9L611.8 544.1L613.0 543.0L614.2 543.0L615.4 543.4L616.6 542.0L617.8 543.2L619.0 542.1L620.2 544.3L621.4 544.0L622.6 542.2L623.8 542.4L625.0 543.6L626.2 543.3L627.4 543.0L628.6 543.0L629.8 542.5L631.0 543.0L632.2 542.0L633.4 542.1L634.6 542.5L635.8 542.0L637.0 542.5L638.2 542.4L639.4 542.8L640.6 543.1L641.8 543.4L643.0 541.9L644.2 541.5L645.4 540.3L646.6 540.9L647.8 540.5L649.0 538.9L650.2 539.8L651.4 539.2L652.6 540.6L653.8 539.7L655.0 539.9L656.2 539.2L657.4 541.3L658.6 539.4L659.8 539.1L661.0 539.7L662.2 539.5L663.4 539.1L664.6 540.4L665.8 539.7L667.0 538.6L668.2 541.1L669.4 538.9L670.6 540.8L671.8 541.1L673.0 539.9L674.2 540.5L675.4 538.5L676.6 539.0L677.8 540.5L679.0 540.3L680.2 538.7L681.4 539.1L682.4 538.6L682.4 547.5Z" fill="#232a79"/><path fill="none" stroke="#232a79" stroke-width="3.0" stroke-linecap="round" d="M25.2 77.2h0M26.4 75.6h0M28.5 76.6h0M29.7 76.7h0M30.7 76.7h0M32.9 77.4h0M34.7 76.2h0M36.2 76.0h0M38.1 76.7h0M40.1 76.3h0M41.3 77.3h0M43.6 77.4h0M45.5 77.4h0M47.4 76.2h0M49.1 76.5h0M50.1 75.8h0M51.4 76.3h0M53.2 77.7h0M54.8 77.7h0M57.0 77.7h0M58.4 76.3h0M59.7 76.2h0M60.9 77.1h0M63.0 77.6h0M64.6 77.2h0M66.6 76.2h0M68.4 77.8h0M70.3 77.6h0M71.9 76.4h0M73.9 76.8h0M75.9 78.1h0M77.3 77.0h0M79.5 77.7h0M80.7 76.5h0M81.8 78.1h0M83.8 76.6h0M85.8 78.3h0M87.6 77.1h0M89.3 76.7h0M90.3 78.4h0M92.1 77.5h0M94.2 77.4h0M96.3 78.2h0M97.5 77.1h0M98.9 77.1h0M100.6 77.2h0M102.1 76.9h0M104.2 77.4h0M105.7 77.9h0M107.9 77.6h0M110.0 77.8h0M111.6 77.9h0M112.6 77.8h0M113.8 76.9h0M115.8 77.3h0M117.4 78.4h0M119.0 77.6h0M120.7 78.1h0M122.6 77.3h0M124.3 77.6h0M125.6 78.6h0M127.2 78.2h0M129.2 79.0h0M130.7 78.4h0M132.3 78.2h0M134.1 78.2h0M135.8 78.2h0M137.9 78.7h0M140.0 79.2h0M141.3 78.5h0M143.5 79.0h0M144.6 77.6h0M146.1 77.5h0M147.4 77.5h0M149.2 78.9h0M151.3 77.7h0M153.2 78.7h0M154.4 79.2h0M156.6 77.8h0M158.7 78.2h0M160.3 79.4h0M162.3 77.7h0M163.9 78.5h0M165.3 77.8h0M166.6 78.9h0M167.6 78.5h0M169.1 77.5h0M170.5 78.7h0M172.1 77.6h0M174.3 79.0h0M176.6 77.7h0M177.9 77.6h0M179.8 78.0h0M180.9 78.3h0M183.1 79.1h0M184.4 77.8h0M186.5 78.6h0M188.3 77.7h0M189.4 78.9h0M190.9 77.7h0M193.0 78.8h0M195.0 77.7h0M197.1 77.7h0M199.2 78.4h0M200.5 78.7h0M168.5 73.2h0M112.1 75.2h0M94.4 73.5h0M145.7 75.9h0M85.6 75.2h0M149.0 74.2h0M96.4 72.7h0M35.5 71.6h0M38.3 74.7h0M70.5 71.8h0M40.7 75.2h0M177.5 74.4h0M75.1 72.2h0M77.0 73.3h0M53.4 73.2h0M71.8 75.8h0M195.2 73.7h0M68.5 75.8h0M79.9 72.8h0M26.2 72.9h0M108.6 73.5h0M61.0 73.5h0M26.9 72.3h0M41.6 73.0h0M33.3 71.1h0M78.9 72.2h0M127.9 73.6h0M156.6 74.3h0M150.6 75.4h0M93.8 72.6h0M197.3 71.7h0M152.0 74.2h0M33.6 75.2h0M181.2 74.1h0M153.7 75.1h0M35.1 72.8h0M47.6 72.0h0M62.7 74.5h0M75.2 70.8h0M85.0 72.0h0M93.6 65.0h0M100.2 75.0h0M75.5 70.0h0M55.0 73.0h0M40.0 73.5h0M29.0 74.0h0M68.0 73.0h0M106.9 74.0h0M120.7 75.0h0M135.3 76.0h0M144.5 75.0h0M150.6 66.0h0M152.0 70.0h0M156.7 69.0h0M159.0 73.5h0M163.6 74.0h0M169.0 73.0h0M174.3 72.0h0M172.0 76.0h0M189.0 64.0h0M192.0 69.0h0M193.5 70.0h0M195.0 75.0h0M180.0 74.0h0M185.0 72.0h0M165.0 71.0h0M160.0 67.5h0M153.0 67.0h0M158.0 66.0h0M166.0 70.0h0M178.0 68.0h0M186.0 66.5h0M197.0 66.0h0M25.2 159.0h0M26.8 157.6h0M28.8 157.9h0M30.1 157.4h0M32.0 158.7h0M33.8 158.0h0M35.5 157.6h0M37.7 157.8h0M39.4 158.7h0M41.4 158.0h0M42.8 158.2h0M43.9 158.7h0M45.3 158.8h0M46.6 157.8h0M47.9 157.9h0M49.1 157.1h0M51.0 157.6h0M52.2 157.6h0M53.8 157.9h0M55.6 158.3h0M57.0 158.9h0M59.1 157.1h0M61.1 158.8h0M63.1 157.3h0M65.1 158.3h0M66.1 157.0h0M68.2 158.3h0M69.5 157.2h0M70.7 157.4h0M72.6 157.7h0M73.8 158.8h0M75.7 157.3h0M77.8 158.2h0M79.8 158.3h0M81.9 158.5h0M83.9 157.3h0M85.8 158.0h0M87.7 157.8h0M89.8 158.0h0M91.1 157.4h0M92.2 157.9h0M93.3 157.8h0M94.4 157.9h0M96.0 157.9h0M98.1 156.9h0M100.1 157.8h0M101.8 158.2h0M103.8 157.6h0M105.3 158.7h0M106.4 158.1h0M108.1 156.8h0M109.9 158.1h0M112.0 157.4h0M114.3 157.7h0M115.8 158.5h0M116.8 158.1h0M118.6 157.3h0M120.7 157.4h0M122.2 157.7h0M124.2 157.0h0M125.7 157.4h0M127.4 158.2h0M128.7 158.2h0M130.2 157.5h0M131.5 157.5h0M133.7 157.8h0M135.7 157.1h0M137.0 157.1h0M138.7 157.7h0M140.7 156.5h0M142.6 158.2h0M144.2 156.5h0M145.6 156.4h0M146.8 158.2h0M148.5 157.4h0M150.5 156.9h0M152.2 155.6h0M154.0 155.7h0M155.7 155.7h0M157.0 155.6h0M158.5 155.8h0M159.6 154.6h0M160.6 155.8h0M162.7 155.6h0M164.2 155.9h0M166.1 155.3h0M167.4 154.8h0M168.9 154.8h0M170.4 155.4h0M172.6 154.3h0M174.3 154.2h0M175.4 155.7h0M177.1 155.9h0M178.6 154.1h0M180.1 155.3h0M182.2 156.0h0M183.8 154.9h0M184.9 155.3h0M186.1 154.3h0M187.1 154.0h0M188.9 154.2h0M191.1 154.1h0M193.2 154.2h0M194.2 155.4h0M195.5 155.4h0M196.7 154.0h0M198.6 155.3h0M200.7 155.3h0M166.2 152.0h0M158.6 153.0h0M175.3 146.9h0M169.1 150.8h0M172.8 151.6h0M157.5 152.5h0M168.9 151.3h0M182.7 149.6h0M170.1 152.4h0M199.1 152.4h0M179.5 148.7h0M153.2 153.8h0M186.6 152.7h0M167.3 151.0h0M200.8 152.7h0M181.3 148.8h0M172.3 153.2h0M169.6 151.6h0M181.3 153.2h0M192.0 148.6h0M150.1 148.5h0M172.0 150.9h0M192.4 153.2h0M152.2 152.7h0M192.2 153.0h0M179.7 148.6h0M194.3 152.6h0M185.6 153.4h0M168.0 147.1h0M178.8 152.5h0M160.4 152.1h0M198.4 148.3h0M181.6 151.6h0M174.2 148.0h0M163.2 152.1h0M191.2 149.9h0M154.6 152.5h0M190.2 148.2h0M180.1 153.2h0M196.0 150.4h0M174.8 150.9h0M159.8 147.9h0M159.4 151.8h0M168.9 150.7h0M170.9 150.4h0M157.7 146.8h0M201.9 149.3h0M155.5 151.2h0M190.9 147.7h0M181.1 149.1h0M177.0 146.7h0M151.7 153.9h0M195.0 150.1h0M179.5 148.5h0M190.5 149.7h0M199.2 152.3h0M192.6 153.7h0M163.2 146.8h0M160.5 147.9h0M154.4 146.9h0M179.0 153.0h0M173.8 153.6h0M197.3 147.0h0M181.1 149.5h0M156.2 153.7h0M163.4 150.7h0M183.3 153.7h0M184.8 149.4h0M173.3 147.7h0M200.2 153.9h0M35.1 154.4h0M42.4 154.4h0M49.6 153.2h0M54.8 148.0h0M56.8 154.4h0M62.7 151.0h0M70.6 154.0h0M72.6 151.5h0M74.6 149.5h0M77.2 147.0h0M77.8 150.0h0M78.5 152.0h0M84.4 151.0h0M86.4 150.5h0M93.6 150.5h0M95.0 150.5h0M100.8 154.0h0M104.0 151.0h0M106.7 146.5h0M117.3 146.0h0M125.1 143.0h0M126.5 145.0h0M123.2 150.0h0M115.3 151.0h0M129.1 151.5h0M132.4 148.0h0M135.7 148.0h0M140.9 148.0h0M146.2 144.0h0M148.1 146.0h0M140.2 152.0h0M133.7 153.0h0M110.0 152.0h0M88.0 153.0h0M158.0 147.0h0M165.0 148.5h0M172.0 146.5h0M180.0 148.0h0M188.0 147.0h0M195.0 149.0h0M200.0 146.0h0M25.2 229.3h0M27.0 230.6h0M29.1 229.3h0M31.1 230.6h0M33.0 229.6h0M34.2 230.6h0M35.6 229.7h0M37.2 229.7h0M39.3 229.4h0M40.3 230.1h0M42.0 230.6h0M43.9 230.8h0M46.1 229.9h0M47.7 229.3h0M49.0 230.1h0M50.1 230.3h0M51.2 229.8h0M53.4 229.1h0M54.5 229.8h0M55.7 230.4h0M56.6 230.6h0M58.7 230.5h0M60.2 229.5h0M62.0 230.0h0M63.5 229.6h0M65.0 230.3h0M67.0 230.8h0M68.2 229.5h0M69.7 230.1h0M71.1 229.3h0M72.2 229.6h0M73.7 230.9h0M75.9 230.7h0M78.1 230.9h0M79.8 230.6h0M80.9 230.3h0M82.6 229.5h0M84.3 230.9h0M85.9 230.2h0M87.2 229.6h0M89.3 229.0h0M90.5 230.3h0M92.0 229.1h0M93.8 229.7h0M95.5 229.8h0M97.2 230.1h0M98.7 229.2h0M99.8 230.7h0M101.5 229.2h0M103.6 229.5h0M104.7 230.0h0M105.9 230.0h0M107.6 229.5h0M109.3 229.3h0M110.9 230.2h0M112.0 229.9h0M113.0 229.9h0M115.1 230.2h0M117.0 230.6h0M118.1 231.1h0M120.0 229.3h0M122.0 229.9h0M123.2 231.1h0M124.8 230.7h0M126.0 230.7h0M127.0 229.6h0M128.4 229.2h0M130.2 229.6h0M131.5 230.6h0M133.0 231.0h0M134.8 231.0h0M136.5 231.1h0M138.5 229.6h0M140.4 230.0h0M142.4 230.7h0M144.4 229.6h0M145.8 230.8h0M148.0 230.8h0M149.0 230.5h0M150.1 230.4h0M152.1 229.6h0M154.2 230.7h0M155.5 229.8h0M157.1 231.1h0M158.8 229.7h0M159.8 229.7h0M161.7 229.8h0M163.4 230.1h0M165.2 230.3h0M166.4 231.3h0M168.0 230.9h0M170.0 231.4h0M171.0 230.2h0M172.2 230.6h0M174.2 231.2h0M175.2 230.0h0M177.3 231.0h0M178.7 230.6h0M179.9 231.3h0M181.3 231.4h0M183.1 229.8h0M184.5 230.1h0M186.6 230.9h0M187.6 230.1h0M189.0 230.7h0M190.7 230.5h0M192.1 229.8h0M193.8 230.4h0M194.8 230.7h0M197.0 229.9h0M198.2 231.2h0M199.5 230.4h0M35.1 222.5h0M36.5 226.0h0M39.1 226.0h0M70.0 223.0h0M84.4 226.5h0M124.5 225.5h0M141.6 224.0h0M116.6 227.3h0M129.1 229.0h0M151.4 226.5h0M162.0 217.0h0M162.0 217.5h0M170.0 221.0h0M182.0 220.0h0M190.0 219.5h0M197.0 221.5h0M160.0 224.0h0M264.2 79.7h0M266.2 80.4h0M268.0 80.7h0M270.0 75.9h0M271.1 74.7h0M273.1 74.2h0M274.8 75.3h0M276.8 73.7h0M278.4 73.8h0M279.5 75.5h0M281.0 75.2h0M282.5 74.7h0M283.8 74.8h0M285.8 75.5h0M287.2 74.5h0M288.5 76.0h0M290.0 76.3h0M292.0 75.7h0M293.8 75.9h0M295.8 76.0h0M297.1 77.5h0M298.6 75.8h0M300.7 76.5h0M302.8 76.0h0M304.4 77.1h0M306.0 77.2h0M307.2 76.9h0M308.3 76.5h0M309.3 76.1h0M311.5 77.2h0M313.5 77.3h0M314.9 77.0h0M316.5 78.3h0M318.2 77.2h0M320.3 78.1h0M322.1 76.2h0M323.9 76.7h0M326.1 76.2h0M327.9 76.5h0M329.3 76.2h0M331.1 76.8h0M332.7 75.5h0M334.9 74.7h0M337.0 75.9h0M338.6 75.3h0M340.6 76.2h0M342.5 76.1h0M343.5 75.3h0M344.6 76.7h0M346.7 75.3h0M348.4 76.3h0M349.4 76.0h0M351.4 76.6h0M352.7 76.9h0M354.0 76.5h0M355.5 77.4h0M357.3 77.1h0M359.1 76.3h0M361.3 76.9h0M363.2 76.1h0M364.3 76.7h0M366.3 77.2h0M367.7 75.9h0M369.4 77.4h0M370.5 77.2h0M371.7 76.3h0M372.7 76.3h0M374.2 77.7h0M376.4 76.2h0M377.7 77.7h0M378.9 76.5h0M380.5 76.1h0M381.8 76.7h0M383.2 77.8h0M384.5 76.3h0M386.6 76.8h0M388.7 77.2h0M390.6 76.6h0M391.8 77.5h0M393.3 77.1h0M395.2 77.5h0M396.5 76.8h0M398.6 77.1h0M399.9 77.3h0M401.2 77.6h0M402.2 77.8h0M403.9 76.8h0M406.1 76.7h0M407.4 76.3h0M409.0 77.7h0M410.9 77.0h0M412.9 76.4h0M414.2 77.5h0M416.4 77.5h0M418.2 77.8h0M419.7 78.1h0M421.6 76.9h0M423.1 77.9h0M424.5 76.6h0M426.6 77.3h0M428.2 77.6h0M430.3 76.6h0M431.7 76.4h0M433.2 77.3h0M435.2 77.7h0M436.9 77.1h0M438.6 76.9h0M274.8 70.8h0M294.5 70.3h0M297.1 73.2h0M303.0 74.5h0M304.4 75.5h0M341.2 74.2h0M347.7 68.3h0M345.7 72.0h0M348.4 67.0h0M428.5 72.0h0M433.8 74.5h0M437.0 75.5h0M424.0 65.0h0M264.2 153.6h0M265.9 154.0h0M267.5 154.6h0M269.3 153.3h0M270.6 152.6h0M272.8 152.5h0M273.9 153.4h0M275.6 154.3h0M276.7 152.7h0M277.9 153.6h0M279.4 153.1h0M281.5 153.7h0M283.6 154.4h0M284.9 154.4h0M286.3 152.3h0M288.5 152.4h0M289.5 152.8h0M290.8 154.5h0M292.9 153.2h0M294.5 154.2h0M296.5 153.7h0M298.1 152.4h0M299.4 153.7h0M301.1 154.1h0M303.2 154.6h0M304.4 152.5h0M306.5 153.7h0M307.7 154.0h0M309.0 153.0h0M310.4 153.7h0M312.2 152.7h0M314.2 154.1h0M315.7 154.2h0M317.7 152.7h0M319.3 154.3h0M321.1 154.3h0M322.3 155.1h0M324.3 153.4h0M325.8 155.2h0M327.0 153.9h0M329.2 155.2h0M330.5 154.8h0M331.9 154.7h0M333.8 153.5h0M335.1 154.8h0M336.4 155.2h0M337.5 156.1h0M339.0 155.4h0M340.7 157.5h0M342.4 156.1h0M344.3 156.3h0M345.5 156.4h0M346.5 156.9h0M347.6 156.2h0M349.8 157.2h0M351.8 156.9h0M353.6 157.1h0M355.8 155.8h0M357.7 156.1h0M359.0 157.3h0M360.8 157.4h0M362.8 156.8h0M364.1 155.4h0M365.7 157.1h0M367.0 155.6h0M368.0 155.8h0M369.8 155.4h0M371.1 156.1h0M373.0 157.8h0M373.9 155.7h0M376.1 157.8h0M377.2 156.2h0M378.9 156.2h0M380.4 156.6h0M381.7 155.6h0M382.7 155.8h0M383.8 156.9h0M385.7 156.1h0M387.6 157.2h0M389.0 156.6h0M390.2 157.6h0M391.9 155.5h0M393.1 157.0h0M394.5 157.1h0M395.8 157.3h0M397.8 155.6h0M399.5 155.8h0M401.3 157.3h0M403.3 155.9h0M404.4 156.9h0M406.1 155.7h0M407.3 156.7h0M408.4 156.8h0M409.6 155.9h0M411.1 156.6h0M413.0 155.4h0M414.9 155.8h0M416.2 156.8h0M418.1 156.7h0M420.2 155.7h0M421.6 156.8h0M422.9 155.6h0M424.1 157.1h0M426.1 156.9h0M428.3 157.1h0M429.7 156.0h0M431.6 155.3h0M433.3 155.4h0M434.3 156.4h0M435.5 157.4h0M437.6 156.3h0M438.8 155.5h0M440.4 156.4h0M300.1 152.7h0M309.1 147.7h0M299.6 150.9h0M317.9 146.5h0M281.2 152.7h0M275.3 151.6h0M291.0 147.4h0M285.4 149.0h0M335.4 146.6h0M326.1 147.9h0M279.8 151.1h0M291.2 146.9h0M296.5 151.7h0M326.7 149.8h0M268.7 151.2h0M309.2 152.2h0M332.7 148.0h0M325.7 151.6h0M286.1 148.2h0M293.5 148.1h0M293.7 146.3h0M283.4 152.3h0M295.9 150.3h0M328.3 151.2h0M284.6 152.4h0M322.7 152.9h0M317.5 151.2h0M323.3 147.4h0M312.6 148.4h0M325.1 146.5h0M304.7 148.0h0M323.8 148.1h0M325.4 151.9h0M327.8 146.5h0M331.8 151.1h0M314.0 150.4h0M271.3 152.0h0M305.2 148.9h0M291.1 151.4h0M321.2 152.0h0M282.6 148.1h0M285.0 146.3h0M290.2 145.7h0M322.2 147.2h0M272.8 146.0h0M318.4 147.0h0M299.4 148.5h0M322.6 152.7h0M289.1 150.2h0M328.8 149.0h0M329.2 151.0h0M289.2 152.1h0M307.0 146.3h0M307.9 151.7h0M303.3 149.1h0M296.3 152.1h0M313.3 147.1h0M292.6 148.2h0M333.2 150.7h0M276.5 152.4h0M270.4 149.9h0M297.4 150.9h0M297.2 146.2h0M303.6 151.7h0M321.6 148.2h0M283.1 151.1h0M322.5 147.1h0M328.1 152.9h0M297.5 148.4h0M316.3 152.5h0M281.7 147.8h0M290.4 151.0h0M280.7 149.6h0M302.0 150.5h0M277.7 152.7h0M336.0 149.7h0M322.1 146.9h0M329.9 149.6h0M319.6 152.0h0M292.6 152.4h0M282.1 145.7h0M302.2 152.2h0M329.2 152.7h0M302.7 152.5h0M306.1 146.6h0M310.9 151.5h0M296.8 150.0h0M285.6 147.6h0M296.6 149.3h0M299.8 146.2h0M268.4 148.1h0M316.7 151.1h0M284.1 147.4h0M303.1 146.8h0M309.0 152.3h0M281.7 149.9h0M317.0 151.1h0M316.4 150.8h0M286.5 151.8h0M330.9 145.9h0M332.2 148.8h0M273.9 146.0h0M322.2 150.6h0M277.7 148.9h0M311.4 153.0h0M290.9 151.2h0M284.7 147.0h0M279.0 148.6h0M310.0 147.8h0M279.0 147.1h0M273.8 146.9h0M289.5 149.3h0M280.5 149.1h0M297.9 152.8h0M301.1 152.6h0M300.1 147.0h0M308.3 146.6h0M279.5 146.0h0M315.7 152.8h0M295.4 148.2h0M312.2 146.0h0M339.8 150.0h0M336.6 151.0h0M383.2 148.4h0M385.8 152.2h0M391.1 151.2h0M396.3 151.2h0M406.8 155.6h0M424.0 154.0h0M437.0 152.5h0M383.2 155.0h0M275.0 145.5h0M280.0 146.0h0M291.0 145.5h0M302.0 145.8h0M264.2 223.9h0M266.0 225.4h0M268.2 225.3h0M270.0 224.2h0M271.2 224.3h0M272.8 223.1h0M274.9 222.6h0M276.1 222.2h0M277.2 223.3h0M279.2 222.0h0M280.8 223.1h0M282.5 222.7h0M284.2 221.6h0M285.2 222.8h0M286.5 223.7h0M287.7 224.0h0M289.0 221.9h0M290.6 222.8h0M292.0 223.9h0M293.2 223.7h0M295.2 223.1h0M296.8 224.5h0M298.6 222.4h0M299.6 222.2h0M301.0 222.2h0M302.8 223.2h0M304.1 223.5h0M306.3 222.8h0M307.5 223.1h0M308.8 224.8h0M310.7 223.5h0M311.9 222.5h0M313.0 224.8h0M314.8 222.9h0M316.5 223.1h0M318.1 224.3h0M319.2 225.8h0M321.1 225.7h0M322.3 226.5h0M323.8 226.9h0M324.9 227.9h0M325.8 226.0h0M327.3 225.9h0M328.4 227.1h0M330.6 226.0h0M331.9 226.9h0M333.2 226.0h0M335.0 226.0h0M336.2 224.9h0M337.8 227.4h0M340.0 224.7h0M341.6 225.8h0M342.8 226.3h0M344.4 226.7h0M345.7 227.1h0M347.7 225.8h0M348.8 225.8h0M350.0 226.4h0M351.8 226.1h0M354.0 224.6h0M355.9 226.7h0M357.0 225.4h0M358.0 226.1h0M359.9 225.4h0M361.8 225.5h0M363.6 225.3h0M365.9 225.8h0M366.8 224.9h0M368.7 227.1h0M370.5 225.1h0M372.6 226.8h0M373.7 225.9h0M375.5 224.8h0M376.5 225.9h0M378.6 227.7h0M379.9 227.5h0M381.9 227.5h0M383.6 227.9h0M385.4 228.0h0M387.1 226.0h0M388.7 227.0h0M390.1 226.8h0M391.7 227.5h0M393.0 226.7h0M394.6 227.5h0M396.1 228.0h0M397.3 227.7h0M398.6 228.5h0M400.4 228.6h0M402.1 227.2h0M404.2 227.9h0M405.6 227.3h0M407.1 228.5h0M409.1 227.9h0M411.0 227.2h0M412.6 227.6h0M413.9 227.6h0M415.8 228.7h0M417.1 227.3h0M419.0 228.5h0M420.9 228.5h0M422.7 227.5h0M423.7 227.7h0M424.7 229.4h0M426.4 228.6h0M428.6 229.0h0M429.8 227.8h0M430.9 229.0h0M432.8 228.2h0M434.3 227.6h0M435.8 228.9h0M438.0 229.3h0M440.0 228.2h0M311.0 217.6h0M313.5 217.6h0M316.2 217.6h0M320.8 222.0h0M284.0 221.0h0M292.5 221.0h0M336.5 220.0h0M337.2 222.5h0M384.0 222.5h0M367.6 224.5h0M408.3 224.5h0M379.4 224.0h0M402.5 227.5h0M408.2 225.0h0M420.8 228.0h0M436.5 225.0h0M275.0 221.5h0M300.0 222.0h0M506.2 75.2h0M507.6 74.3h0M509.7 75.2h0M510.7 76.6h0M511.9 75.0h0M512.9 74.7h0M514.8 75.9h0M516.4 75.1h0M517.7 76.9h0M519.2 77.0h0M521.2 75.0h0M523.3 74.8h0M525.2 76.7h0M527.0 76.1h0M529.0 75.2h0M530.7 75.5h0M532.1 75.4h0M534.0 76.3h0M536.0 76.5h0M537.7 77.3h0M539.7 76.5h0M541.1 77.4h0M542.5 75.4h0M543.9 76.9h0M546.0 76.8h0M547.8 77.5h0M549.8 76.4h0M551.4 77.2h0M552.7 75.6h0M554.5 77.4h0M555.7 77.1h0M557.9 75.8h0M559.0 76.7h0M560.4 77.8h0M562.6 76.6h0M564.6 77.1h0M565.8 77.9h0M566.9 75.7h0M568.5 75.6h0M570.1 76.5h0M572.2 76.5h0M574.3 77.4h0M576.0 76.1h0M577.4 76.7h0M578.8 77.1h0M580.4 76.3h0M582.2 77.9h0M583.4 76.4h0M584.4 75.8h0M585.4 76.6h0M587.4 77.2h0M589.6 77.6h0M591.3 76.9h0M592.3 76.5h0M593.6 77.0h0M594.6 76.9h0M596.1 76.7h0M597.6 75.8h0M599.5 77.5h0M601.2 75.8h0M602.9 77.7h0M605.1 77.4h0M606.1 77.7h0M608.0 76.2h0M610.1 77.6h0M612.2 76.2h0M613.9 76.5h0M615.2 77.4h0M617.0 76.4h0M618.6 77.9h0M620.3 77.8h0M622.0 78.0h0M623.0 76.8h0M624.7 77.6h0M626.9 77.6h0M628.5 77.7h0M630.1 77.8h0M632.3 76.1h0M633.6 78.2h0M634.7 78.0h0M635.7 77.6h0M637.7 76.6h0M639.1 76.6h0M641.0 77.3h0M642.7 76.8h0M644.4 78.3h0M646.4 78.3h0M647.6 77.2h0M649.1 76.8h0M651.1 76.4h0M652.8 77.8h0M654.9 75.9h0M656.2 77.1h0M658.4 76.3h0M660.4 76.8h0M662.1 78.1h0M663.1 76.6h0M664.3 76.1h0M665.6 77.5h0M667.3 76.1h0M669.3 77.0h0M670.5 77.7h0M672.5 76.3h0M674.6 77.7h0M675.9 75.7h0M678.0 77.7h0M679.0 77.5h0M681.0 77.2h0M654.1 68.9h0M678.1 76.2h0M652.5 71.4h0M674.9 67.3h0M642.1 65.3h0M655.3 74.0h0M636.5 69.6h0M681.9 70.3h0M648.8 74.9h0M676.5 68.9h0M634.7 72.3h0M668.3 76.0h0M663.9 68.0h0M656.0 67.7h0M652.3 70.1h0M677.6 75.8h0M678.4 70.2h0M680.5 65.8h0M678.1 72.3h0M675.5 69.4h0M681.9 64.3h0M674.1 74.7h0M648.4 74.8h0M639.6 73.8h0M653.5 69.3h0M638.7 74.4h0M667.8 65.2h0M681.2 66.9h0M648.4 69.4h0M659.4 75.6h0M679.4 72.2h0M647.9 65.4h0M631.7 70.7h0M659.7 69.8h0M681.4 69.4h0M647.1 69.4h0M637.3 76.2h0M660.1 71.1h0M651.2 67.3h0M645.2 70.4h0M652.3 76.7h0M658.6 66.7h0M630.9 66.1h0M646.8 74.2h0M676.4 67.1h0M670.4 69.7h0M657.2 70.9h0M630.3 64.9h0M664.3 73.0h0M648.7 75.9h0M672.6 67.9h0M631.6 71.2h0M663.6 66.9h0M630.4 70.3h0M629.9 73.6h0M662.0 67.6h0M652.2 67.0h0M638.1 66.4h0M672.4 69.9h0M666.9 68.5h0M671.9 71.7h0M663.6 69.1h0M658.6 66.5h0M681.0 72.7h0M657.0 72.3h0M633.4 68.3h0M640.5 75.0h0M628.7 69.8h0M675.3 74.2h0M667.1 67.9h0M640.6 73.2h0M644.2 73.4h0M647.0 73.9h0M659.2 74.6h0M681.6 68.9h0M681.7 64.1h0M675.7 64.4h0M657.7 69.0h0M669.9 68.1h0M639.3 74.2h0M657.9 73.8h0M654.6 64.5h0M670.0 66.8h0M653.7 64.0h0M642.1 72.7h0M669.6 72.3h0M652.1 73.5h0M664.4 66.7h0M657.1 71.8h0M667.6 66.6h0M644.9 68.5h0M633.2 68.5h0M667.7 71.5h0M637.4 73.5h0M634.4 73.8h0M636.0 65.3h0M641.7 70.7h0M642.7 75.5h0M679.0 67.7h0M668.8 73.0h0M658.5 67.3h0M679.7 76.4h0M628.7 68.3h0M645.5 66.6h0M651.4 75.7h0M629.3 74.9h0M644.8 64.2h0M676.9 67.5h0M639.5 65.5h0M648.0 65.6h0M637.8 67.3h0M659.5 69.8h0M644.6 70.8h0M670.1 73.4h0M646.7 75.9h0M671.0 71.3h0M653.9 68.3h0M635.3 75.5h0M661.1 65.3h0M678.3 75.5h0M629.8 73.1h0M641.0 71.0h0M673.4 68.6h0M655.1 72.6h0M638.5 72.1h0M651.1 76.8h0M638.2 73.2h0M630.2 67.6h0M634.4 65.9h0M656.7 66.3h0M671.2 65.3h0M661.9 75.2h0M634.9 66.8h0M669.6 70.1h0M678.7 68.4h0M649.7 76.4h0M646.7 76.6h0M676.5 66.6h0M657.7 76.2h0M634.4 75.0h0M670.1 73.7h0M660.7 65.3h0M680.1 65.3h0M670.6 73.4h0M645.3 72.9h0M650.3 73.8h0M630.4 76.1h0M648.9 74.4h0M653.7 74.6h0M644.4 71.1h0M629.4 70.4h0M632.3 75.2h0M664.8 69.5h0M681.0 76.3h0M680.0 65.1h0M666.3 73.5h0M661.0 64.2h0M678.3 69.7h0M660.4 74.6h0M643.0 64.4h0M678.2 67.5h0M630.2 65.8h0M682.1 73.6h0M639.4 65.9h0M676.8 72.6h0M659.7 65.7h0M650.5 76.3h0M628.2 69.4h0M631.1 77.0h0M633.7 76.4h0M673.8 73.5h0M630.3 73.0h0M654.8 70.4h0M635.9 70.7h0M671.6 65.7h0M675.7 69.5h0M642.5 67.1h0M653.0 72.4h0M659.0 75.6h0M655.8 70.7h0M681.8 66.8h0M628.9 68.3h0M645.0 65.6h0M650.7 64.5h0M678.1 70.3h0M675.8 73.1h0M667.7 73.9h0M644.4 73.5h0M639.2 71.2h0M660.4 74.1h0M637.1 68.5h0M672.8 74.5h0M681.2 65.5h0M639.4 65.4h0M667.4 73.7h0M663.3 74.1h0M656.1 71.3h0M678.1 72.4h0M663.7 71.7h0M654.9 73.8h0M659.1 65.7h0M651.2 69.5h0M651.5 71.3h0M647.7 69.1h0M651.2 68.8h0M680.9 65.2h0M628.9 73.4h0M649.5 69.8h0M660.2 68.8h0M641.0 64.2h0M675.5 76.2h0M643.6 70.0h0M645.6 64.8h0M676.6 74.9h0M641.1 67.3h0M666.0 74.4h0M653.5 69.0h0M640.7 74.4h0M675.0 75.2h0M634.2 71.7h0M681.6 73.3h0M653.0 65.9h0M631.3 73.5h0M631.7 74.5h0M664.2 70.2h0M676.5 76.1h0M661.5 65.3h0M660.0 69.5h0M641.6 76.1h0M667.7 65.6h0M640.5 68.5h0M659.2 68.2h0M651.9 74.6h0M637.9 73.4h0M646.0 76.3h0M679.8 68.3h0M661.0 65.4h0M650.3 72.1h0M662.7 68.5h0M629.8 65.6h0M633.0 68.5h0M628.9 72.6h0M638.4 71.6h0M628.1 72.3h0M628.4 74.0h0M626.5 69.4h0M631.0 75.2h0M626.6 68.7h0M626.1 68.9h0M629.3 70.6h0M636.2 70.6h0M631.6 70.6h0M636.4 75.1h0M630.8 75.3h0M628.0 75.8h0M632.4 73.1h0M630.1 69.4h0M626.2 75.0h0M629.8 73.3h0M631.4 71.7h0M627.3 68.6h0M629.4 73.1h0M632.7 67.0h0M635.4 70.9h0M625.1 69.3h0M627.4 74.4h0M632.8 69.9h0M628.0 69.6h0M628.5 70.1h0M636.7 74.1h0M635.2 75.0h0M634.5 68.0h0M624.7 68.5h0M628.1 71.8h0M637.2 72.3h0M630.9 69.2h0M639.7 73.8h0M629.5 67.4h0M639.7 69.3h0M637.6 68.1h0M511.5 73.5h0M517.5 72.0h0M528.0 72.5h0M538.5 66.0h0M538.5 72.0h0M537.8 75.0h0M546.4 70.5h0M547.0 57.0h0M552.3 57.0h0M558.2 75.0h0M562.8 72.6h0M573.3 74.0h0M581.8 70.0h0M584.5 72.5h0M591.0 71.0h0M597.0 68.0h0M599.6 70.5h0M624.5 69.0h0M627.2 69.0h0M628.5 66.0h0M632.4 67.6h0M632.5 57.1h0M635.2 57.1h0M626.3 56.9h0M634.2 57.9h0M632.4 57.5h0M628.4 57.0h0M506.2 155.6h0M507.6 153.7h0M509.7 153.6h0M511.0 154.4h0M513.3 153.4h0M514.5 155.4h0M515.5 154.3h0M517.5 155.2h0M519.5 153.5h0M521.6 154.3h0M523.6 154.6h0M525.7 154.7h0M527.0 153.7h0M528.6 153.5h0M529.7 156.0h0M531.4 156.0h0M532.6 154.8h0M534.1 153.7h0M535.4 156.2h0M537.3 155.0h0M539.1 156.1h0M541.3 155.3h0M542.3 156.2h0M543.4 154.3h0M544.6 155.1h0M546.3 155.0h0M547.8 154.1h0M549.7 155.3h0M551.1 156.2h0M553.2 156.5h0M555.5 154.0h0M556.9 155.1h0M558.2 156.1h0M560.3 154.3h0M561.9 156.8h0M564.0 155.2h0M565.1 155.2h0M566.8 156.2h0M568.0 154.7h0M570.2 153.9h0M571.9 154.1h0M573.8 155.1h0M576.0 154.5h0M578.1 154.5h0M579.1 154.1h0M580.1 155.0h0M582.3 154.9h0M584.2 154.0h0M585.8 155.5h0M586.9 155.6h0M588.5 154.8h0M590.5 155.9h0M591.6 154.2h0M592.6 154.6h0M594.4 156.8h0M596.6 156.4h0M597.7 156.2h0M599.7 155.3h0M601.9 155.6h0M603.0 154.4h0M604.1 155.5h0M605.9 156.2h0M606.9 153.6h0M609.1 154.2h0M610.4 156.0h0M611.5 155.7h0M613.6 154.9h0M615.3 153.2h0M617.0 154.9h0M619.0 154.6h0M620.1 153.6h0M621.9 153.1h0M623.0 153.6h0M625.0 154.4h0M626.4 155.6h0M628.1 153.3h0M629.8 155.1h0M631.2 153.8h0M632.9 155.3h0M634.7 152.9h0M636.4 153.2h0M638.0 154.3h0M638.9 153.6h0M640.3 153.9h0M642.3 153.4h0M644.1 152.8h0M645.4 153.4h0M647.0 152.5h0M648.9 153.2h0M650.4 152.5h0M652.4 154.4h0M654.6 152.3h0M655.6 153.5h0M656.6 154.1h0M658.4 152.5h0M659.9 153.5h0M661.1 152.5h0M663.1 153.4h0M664.8 151.6h0M666.0 152.1h0M667.0 153.2h0M668.7 154.0h0M670.4 153.9h0M672.0 152.7h0M673.3 152.5h0M675.4 152.5h0M676.4 152.1h0M677.6 152.8h0M679.2 152.4h0M681.4 153.2h0M580.6 151.6h0M547.0 146.1h0M591.7 151.1h0M518.7 147.2h0M677.0 147.2h0M642.1 147.6h0M522.0 149.4h0M659.2 152.3h0M515.4 151.5h0M615.7 149.3h0M623.3 149.7h0M539.0 151.5h0M529.6 147.6h0M656.0 150.2h0M596.4 151.6h0M593.2 148.3h0M603.6 144.7h0M568.5 144.9h0M681.3 153.6h0M621.4 146.1h0M656.7 147.3h0M647.8 151.0h0M612.9 151.9h0M553.8 152.8h0M601.9 152.1h0M654.0 147.0h0M578.9 148.1h0M520.5 153.3h0M627.0 149.4h0M602.4 153.3h0M519.2 148.1h0M627.1 149.8h0M594.0 147.1h0M546.0 151.2h0M566.7 153.9h0M664.8 154.2h0M555.4 149.6h0M525.3 148.1h0M520.0 149.5h0M674.5 152.1h0M570.7 147.3h0M670.0 145.0h0M654.9 153.1h0M519.0 154.0h0M620.1 148.4h0M581.4 150.6h0M599.2 153.2h0M663.7 147.8h0M508.5 152.3h0M620.3 151.1h0M520.0 145.3h0M664.3 148.1h0M589.7 154.2h0M541.1 150.9h0M517.8 150.1h0M636.3 146.1h0M640.0 154.2h0M651.6 152.4h0M672.8 151.7h0M602.8 152.7h0M648.1 150.8h0M624.1 146.3h0M566.2 147.8h0M657.3 152.3h0M557.9 154.4h0M517.3 145.1h0M564.4 145.3h0M673.2 148.1h0M574.9 153.0h0M600.3 150.8h0M584.0 149.1h0M674.5 147.3h0M598.9 149.3h0M531.7 146.0h0M595.7 152.5h0M582.6 145.1h0M670.6 145.9h0M661.8 145.0h0M620.7 146.0h0M552.6 148.7h0M639.2 148.9h0M580.2 148.5h0M598.1 147.3h0M673.8 146.4h0M530.2 150.0h0M568.5 151.7h0M513.9 151.3h0M570.8 153.8h0M559.5 148.8h0M562.6 149.8h0M556.2 151.2h0M579.0 151.6h0M558.0 149.1h0M604.5 151.7h0M621.2 148.8h0M522.0 145.6h0M532.7 146.3h0M539.1 151.1h0M566.6 153.6h0M547.9 147.0h0M539.0 145.9h0M626.4 150.3h0M551.0 152.6h0M625.2 148.8h0M613.4 151.1h0M584.2 145.4h0M570.8 154.0h0M572.4 150.9h0M522.5 152.2h0M658.2 148.2h0M572.1 149.6h0M551.2 146.6h0M529.5 151.4h0M596.1 154.1h0M675.4 153.2h0M672.3 152.9h0M511.3 145.8h0M677.8 153.2h0M614.8 150.7h0M583.4 148.7h0M532.5 150.0h0M555.1 145.7h0M659.3 150.2h0M660.3 147.4h0M607.9 147.3h0M652.4 146.6h0M620.3 150.0h0M564.0 145.3h0M592.2 149.7h0M650.2 146.5h0M539.4 147.6h0M647.4 146.8h0M617.9 144.8h0M521.4 151.6h0M594.0 145.6h0M589.8 153.9h0M575.5 150.1h0M580.6 149.6h0M514.6 153.3h0M608.4 148.0h0M556.8 146.4h0M670.4 152.9h0M573.2 150.5h0M603.7 146.5h0M512.8 151.9h0M535.5 150.1h0M510.0 144.7h0M535.7 151.0h0M614.2 154.4h0M622.5 149.7h0M509.3 154.1h0M592.5 153.1h0M514.3 152.9h0M590.3 146.7h0M578.1 145.3h0M608.7 146.7h0M629.8 146.2h0M627.7 150.7h0M631.6 154.0h0M558.7 151.3h0M576.5 153.4h0M651.4 152.1h0M612.0 147.1h0M665.9 154.2h0M673.2 147.9h0M650.8 151.3h0M654.0 152.5h0M586.5 148.5h0M646.2 151.0h0M601.4 153.2h0M512.6 144.6h0M588.3 145.5h0M654.4 145.4h0M661.4 146.8h0M530.5 152.0h0M625.6 148.6h0M611.3 150.0h0M673.0 149.6h0M601.4 149.1h0M579.1 151.4h0M526.5 151.4h0M669.5 152.1h0M602.0 148.0h0M524.1 145.4h0M601.4 153.3h0M658.6 146.3h0M638.1 152.6h0M591.0 153.1h0M539.7 147.9h0M597.0 151.8h0M585.5 147.5h0M658.7 148.4h0M580.4 146.7h0M591.5 151.6h0M570.3 151.1h0M593.3 144.6h0M675.4 147.4h0M602.5 154.1h0M543.2 145.1h0M542.9 146.0h0M656.0 149.7h0M514.3 147.2h0M596.4 146.2h0M560.6 153.5h0M584.8 146.8h0M611.6 145.6h0M598.0 151.0h0M522.5 150.0h0M561.2 151.9h0M614.8 153.6h0M613.3 146.3h0M539.5 151.5h0M648.8 145.1h0M580.0 147.3h0M588.8 153.2h0M604.9 151.9h0M640.9 147.3h0M615.3 148.3h0M590.0 149.8h0M623.7 146.2h0M653.7 146.1h0M561.8 153.0h0M679.4 148.2h0M673.6 144.9h0M674.2 146.5h0M513.1 152.1h0M535.2 152.0h0M508.2 145.7h0M569.6 145.3h0M589.4 148.0h0M510.2 151.0h0M511.8 153.1h0M506.2 153.5h0M511.3 151.4h0M508.7 149.0h0M507.2 149.3h0M506.4 151.7h0M507.3 152.6h0M509.0 153.0h0M505.6 153.1h0M508.6 151.8h0M506.7 152.2h0M507.6 138.4h0M575.3 134.7h0M576.0 137.0h0M577.2 140.0h0M526.6 143.9h0M529.3 145.8h0M532.6 143.9h0M535.8 143.9h0M558.2 140.0h0M652.1 134.0h0M671.8 136.2h0M675.0 136.2h0M678.4 136.2h0M637.7 140.0h0M506.2 226.3h0M507.3 226.9h0M508.8 227.8h0M510.6 227.3h0M512.3 227.2h0M513.4 227.9h0M515.1 226.6h0M516.3 225.2h0M518.2 227.1h0M520.0 225.8h0M521.6 227.4h0M523.4 227.9h0M524.4 227.5h0M525.4 227.1h0M527.1 225.5h0M528.5 227.3h0M531.2 232.4h0M533.4 233.3h0M535.1 233.2h0M537.3 232.8h0M539.3 232.4h0M541.3 233.0h0M543.3 232.5h0M544.3 232.9h0M546.1 233.0h0M547.2 232.9h0M549.4 232.6h0M551.5 233.3h0M553.3 232.8h0M554.8 232.8h0M555.9 232.4h0M557.2 232.5h0M561.2 228.2h0M562.8 227.1h0M564.0 227.8h0M565.6 227.8h0M567.8 227.4h0M569.6 227.2h0M570.7 227.0h0M571.8 226.2h0M574.0 226.8h0M575.1 227.0h0M576.2 227.5h0M577.4 226.4h0M579.2 228.6h0M580.2 228.0h0M583.2 233.6h0M585.4 233.3h0M587.5 233.3h0M589.4 233.3h0M590.7 232.8h0M592.6 233.1h0M593.7 233.2h0M595.0 233.0h0M597.1 233.3h0M599.0 233.5h0M600.5 233.2h0M602.0 233.1h0M604.0 233.6h0M605.3 233.4h0M606.6 232.7h0M608.4 233.5h0M609.8 233.7h0M611.7 233.1h0M613.6 233.6h0M614.8 233.7h0M616.3 233.0h0M617.7 233.3h0M619.3 233.1h0M620.4 233.4h0M622.3 233.5h0M623.7 233.6h0M624.7 232.9h0M625.7 233.3h0M627.3 233.0h0M629.0 232.8h0M630.0 233.8h0M632.1 232.9h0M633.9 233.3h0M635.5 233.7h0M637.3 233.8h0M639.1 233.7h0M640.2 233.7h0M641.6 233.8h0M643.6 233.8h0M641.2 224.8h0M642.8 225.1h0M644.5 226.3h0M646.1 226.4h0M647.8 224.4h0M649.6 225.6h0M651.6 226.9h0M653.0 226.6h0M654.2 225.9h0M655.2 226.4h0M656.7 225.3h0M658.3 225.0h0M659.6 225.9h0M661.4 224.0h0M662.7 226.7h0M664.0 224.8h0M665.7 225.1h0M667.9 227.0h0M669.0 224.7h0M670.2 225.4h0M671.5 226.1h0M673.6 224.4h0M674.6 224.5h0M675.9 224.6h0M677.4 225.3h0M679.3 227.2h0M511.5 216.3h0M534.5 214.0h0M535.2 215.5h0M543.7 217.3h0M547.7 219.0h0M576.0 217.0h0M513.5 223.5h0M505.6 224.0h0M526.0 222.8h0M551.6 228.6h0M571.3 226.0h0M621.2 210.0h0M626.9 209.0h0M618.0 213.5h0M617.3 216.0h0M637.7 221.0h0M640.3 223.0h0M657.4 222.0h0M668.5 222.5h0M598.3 229.0h0M603.5 229.0h0M585.0 227.0h0M590.0 229.0h0M632.0 228.0h0M634.0 226.0h0M636.0 224.5h0M25.2 387.3h0M27.3 389.0h0M28.3 390.8h0M29.8 390.0h0M31.5 389.1h0M32.9 389.6h0M34.8 390.4h0M36.7 389.2h0M38.2 390.7h0M39.4 389.5h0M41.2 390.8h0M42.2 390.1h0M43.7 389.7h0M45.7 388.8h0M47.5 389.1h0M49.4 389.8h0M50.9 388.5h0M52.8 389.3h0M54.5 389.2h0M56.7 387.8h0M58.5 388.7h0M59.8 388.7h0M61.2 388.8h0M62.9 388.9h0M65.0 388.7h0M66.4 388.1h0M68.1 388.9h0M69.6 389.1h0M70.9 388.4h0M72.0 387.8h0M73.3 387.6h0M75.0 388.8h0M76.5 389.3h0M78.2 389.1h0M79.2 388.5h0M80.2 388.2h0M82.3 388.3h0M84.0 388.9h0M85.8 390.0h0M87.8 390.3h0M90.0 389.3h0M92.3 390.1h0M93.6 389.4h0M95.2 390.5h0M96.3 390.7h0M98.1 390.2h0M99.6 389.8h0M101.1 390.6h0M102.6 390.7h0M104.7 389.6h0M105.7 391.3h0M106.9 391.2h0M108.3 390.1h0M109.3 390.5h0M111.0 389.9h0M112.0 390.4h0M114.1 391.9h0M115.4 391.5h0M116.9 392.5h0M118.2 392.1h0M119.8 392.3h0M121.3 393.4h0M122.9 392.0h0M124.3 393.0h0M125.6 392.7h0M127.3 392.7h0M128.5 393.7h0M129.5 393.8h0M130.6 393.1h0M132.2 392.8h0M134.0 393.8h0M135.4 392.1h0M136.6 393.8h0M138.3 393.5h0M139.8 392.7h0M141.6 393.2h0M143.8 392.4h0M145.2 393.5h0M147.3 393.1h0M149.2 392.4h0M151.0 392.8h0M152.9 392.8h0M154.1 392.7h0M156.0 393.6h0M158.1 393.1h0M159.1 393.9h0M160.4 393.7h0M162.0 393.2h0M163.0 392.7h0M164.9 393.2h0M167.0 393.9h0M168.6 394.3h0M169.6 393.1h0M171.3 391.8h0M173.3 391.0h0M175.0 390.4h0M176.5 390.8h0M177.8 390.2h0M179.6 391.1h0M180.7 391.8h0M181.8 390.3h0M183.1 390.6h0M184.7 391.7h0M185.8 391.0h0M187.5 390.4h0M189.0 390.7h0M191.0 391.4h0M192.6 390.0h0M194.0 391.5h0M195.6 390.6h0M197.3 389.9h0M199.1 391.2h0M200.2 390.7h0M48.0 387.9h0M58.6 385.1h0M60.2 385.3h0M49.5 387.6h0M61.8 385.0h0M50.7 383.5h0M41.5 387.0h0M60.0 384.4h0M51.4 386.2h0M40.9 382.6h0M46.3 384.5h0M48.8 384.5h0M61.6 382.7h0M43.1 379.1h0M60.1 383.2h0M50.8 379.3h0M42.8 379.0h0M61.5 379.4h0M48.0 383.3h0M53.9 381.0h0M55.6 384.8h0M63.6 379.8h0M47.4 379.9h0M47.2 380.9h0M41.1 386.3h0M46.9 385.7h0M59.6 386.2h0M41.0 384.3h0M60.5 384.7h0M54.7 382.8h0M59.8 383.8h0M48.7 383.5h0M51.5 380.7h0M56.3 386.5h0M55.8 379.1h0M50.0 385.9h0M43.5 383.5h0M56.5 383.8h0M48.2 379.2h0M57.0 380.5h0M73.9 376.0h0M75.9 375.4h0M80.1 376.4h0M78.4 375.5h0M75.9 375.8h0M75.6 376.3h0M70.7 376.7h0M71.2 375.9h0M75.8 375.4h0M78.8 375.7h0M78.6 375.4h0M66.0 376.1h0M70.7 383.3h0M69.6 386.7h0M84.6 386.2h0M67.8 378.6h0M80.3 379.0h0M84.1 384.6h0M90.1 387.8h0M82.3 387.9h0M78.2 381.5h0M65.7 386.4h0M82.6 385.6h0M78.3 383.5h0M89.7 382.5h0M67.9 389.4h0M85.3 388.8h0M91.6 383.2h0M68.4 383.9h0M77.7 382.6h0M86.0 381.0h0M91.2 380.5h0M71.9 388.0h0M70.6 386.7h0M71.7 382.9h0M77.1 381.0h0M87.1 389.3h0M48.3 373.4h0M47.6 378.0h0M41.7 383.0h0M59.5 380.0h0M85.0 376.5h0M87.0 376.5h0M89.0 376.5h0M93.6 378.7h0M97.5 380.0h0M100.8 385.0h0M106.0 385.5h0M103.5 388.0h0M124.5 380.0h0M138.3 386.0h0M148.1 386.0h0M156.7 381.3h0M169.2 384.0h0M176.4 384.5h0M140.2 390.5h0M193.5 388.5h0M198.0 384.5h0M201.0 384.5h0M111.2 374.7h0M101.1 375.4h0M109.1 375.6h0M111.6 376.7h0M108.4 374.9h0M105.3 374.5h0M115.2 385.5h0M114.5 378.8h0M116.3 387.2h0M117.2 377.9h0M115.5 379.3h0M118.5 381.5h0M115.5 387.0h0M114.4 381.9h0M119.8 380.2h0M182.1 388.5h0M179.4 388.5h0M180.6 388.8h0M182.3 388.7h0M182.6 388.6h0M180.1 387.7h0M179.8 388.0h0M25.2 467.8h0M27.0 467.6h0M28.9 469.0h0M30.4 467.5h0M32.1 467.7h0M33.2 468.5h0M34.9 467.6h0M36.2 468.5h0M38.3 467.7h0M40.0 467.4h0M41.6 468.1h0M42.9 468.1h0M44.6 466.9h0M45.7 467.5h0M46.8 467.3h0M48.6 466.9h0M50.6 466.2h0M52.6 464.8h0M54.7 466.5h0M56.4 466.4h0M58.1 465.6h0M59.2 465.8h0M61.1 466.7h0M63.2 466.7h0M65.4 466.9h0M66.3 467.3h0M68.0 468.4h0M69.3 467.2h0M71.1 467.6h0M73.2 468.2h0M74.3 468.0h0M76.3 467.3h0M78.5 466.8h0M79.6 467.8h0M81.4 467.6h0M83.6 466.7h0M84.6 467.3h0M86.0 466.9h0M87.5 467.7h0M88.8 467.2h0M90.5 466.3h0M92.6 466.1h0M94.0 465.8h0M95.8 466.5h0M97.2 464.9h0M99.0 464.8h0M100.6 465.2h0M101.6 463.9h0M103.6 465.6h0M104.7 464.3h0M106.2 465.5h0M107.5 465.8h0M108.6 465.7h0M109.6 465.1h0M111.8 465.3h0M114.0 466.0h0M116.2 468.7h0M117.5 468.4h0M119.6 467.2h0M121.1 468.3h0M122.8 468.6h0M124.3 467.6h0M125.4 467.2h0M127.5 467.2h0M129.6 468.2h0M131.3 467.2h0M132.3 466.8h0M134.3 468.5h0M136.5 467.1h0M138.7 467.3h0M140.1 468.3h0M142.1 467.8h0M143.4 466.6h0M144.6 466.9h0M145.8 467.5h0M147.2 466.7h0M149.3 466.9h0M150.2 466.1h0M151.9 466.1h0M153.6 466.0h0M155.1 467.1h0M156.8 466.4h0M158.8 468.0h0M160.8 468.0h0M163.0 467.0h0M164.7 467.2h0M166.6 466.7h0M167.9 467.3h0M169.6 468.4h0M170.9 466.4h0M172.4 468.2h0M173.5 467.5h0M175.2 468.2h0M176.6 467.7h0M178.8 468.5h0M180.4 467.2h0M182.2 468.0h0M184.1 468.0h0M185.5 468.1h0M186.9 467.1h0M188.0 467.8h0M189.2 467.2h0M190.5 467.4h0M192.0 468.7h0M193.7 467.8h0M195.1 467.9h0M197.1 467.8h0M198.8 467.5h0M200.0 467.2h0M113.8 463.4h0M25.2 542.0h0M27.0 542.8h0M28.5 542.0h0M29.6 541.6h0M31.3 542.8h0M32.4 543.1h0M34.6 541.8h0M36.2 542.4h0M37.6 541.8h0M39.5 542.0h0M41.0 542.1h0M42.1 541.9h0M43.5 541.2h0M45.1 542.2h0M46.7 540.7h0M48.5 540.0h0M50.8 540.7h0M51.7 541.8h0M53.6 541.6h0M55.0 541.5h0M56.3 542.4h0M58.4 541.3h0M60.1 541.7h0M61.2 542.2h0M62.8 542.7h0M65.0 542.5h0M66.3 540.9h0M68.2 540.9h0M70.1 541.0h0M72.0 540.7h0M73.0 542.3h0M74.6 541.5h0M76.8 542.1h0M78.1 542.0h0M79.5 541.5h0M80.9 541.0h0M82.3 541.0h0M83.5 542.2h0M84.9 541.6h0M86.9 541.8h0M88.1 542.3h0M90.2 542.1h0M91.6 542.1h0M93.4 540.4h0M94.8 541.7h0M96.5 541.5h0M98.5 540.3h0M100.7 538.5h0M102.8 537.9h0M104.8 538.0h0M106.4 538.7h0M107.4 539.1h0M109.4 538.3h0M110.7 539.4h0M112.3 538.2h0M113.7 541.4h0M115.0 541.4h0M116.5 543.6h0M118.5 542.6h0M120.3 541.8h0M121.4 542.5h0M123.1 542.0h0M124.1 543.4h0M125.3 541.8h0M126.4 541.9h0M127.7 542.8h0M129.5 542.2h0M131.2 542.3h0M132.9 541.8h0M134.6 541.6h0M136.8 542.0h0M138.4 541.9h0M140.0 542.0h0M141.7 543.0h0M143.8 543.4h0M145.3 542.5h0M146.7 542.0h0M148.3 543.3h0M149.4 542.9h0M150.7 542.4h0M152.0 542.5h0M153.6 541.4h0M155.2 540.6h0M156.3 542.2h0M157.3 541.0h0M159.1 540.1h0M161.3 540.3h0M163.5 540.9h0M165.2 541.3h0M166.3 541.2h0M168.2 541.8h0M170.1 541.7h0M171.2 541.2h0M172.8 540.5h0M174.8 540.7h0M176.4 541.1h0M177.6 542.5h0M179.4 542.1h0M181.1 541.8h0M183.2 540.9h0M184.6 541.2h0M186.4 541.6h0M188.5 541.4h0M189.8 542.8h0M191.7 541.9h0M193.1 542.5h0M194.3 542.6h0M195.5 542.8h0M196.6 543.0h0M198.6 541.3h0M199.8 543.1h0M47.6 533.4h0M63.4 536.5h0M83.8 535.8h0M98.2 530.6h0M100.8 530.6h0M103.0 531.0h0M106.0 531.0h0M111.8 536.5h0M113.0 537.8h0M114.5 539.0h0M264.2 383.6h0M265.2 384.4h0M266.4 384.8h0M267.9 384.8h0M270.1 385.2h0M271.3 384.0h0M273.2 384.0h0M275.4 384.4h0M277.2 385.7h0M279.0 385.7h0M280.5 386.6h0M282.6 385.5h0M283.7 385.6h0M285.7 386.6h0M287.6 386.8h0M288.8 386.2h0M289.8 386.0h0M291.5 385.8h0M293.5 385.7h0M295.0 386.7h0M296.3 386.6h0M297.7 385.4h0M298.8 386.6h0M300.8 386.7h0M302.9 386.7h0M304.9 387.0h0M306.6 386.4h0M307.8 385.9h0M308.8 385.6h0M310.3 386.0h0M312.0 387.1h0M313.3 387.2h0M315.3 385.8h0M317.0 385.8h0M318.1 385.9h0M319.3 385.5h0M320.3 387.1h0M322.3 387.2h0M323.4 385.5h0M325.5 386.3h0M326.9 386.9h0M328.5 386.2h0M329.6 385.8h0M331.5 387.4h0M332.5 386.1h0M334.2 386.3h0M335.7 386.9h0M337.0 386.2h0M338.5 387.6h0M339.7 387.1h0M341.7 387.3h0M343.1 388.1h0M345.0 388.4h0M346.4 387.9h0M347.9 389.2h0M349.7 389.3h0M351.3 390.3h0M352.7 388.9h0M353.9 389.2h0M355.0 390.8h0M356.6 390.6h0M358.2 390.2h0M359.4 391.1h0M360.9 390.3h0M362.8 391.4h0M365.1 390.8h0M366.6 391.5h0M368.1 390.3h0M369.7 390.5h0M370.9 391.4h0M372.3 391.1h0M373.7 390.1h0M375.7 391.4h0M377.5 391.1h0M378.7 390.9h0M380.7 391.4h0M382.4 391.1h0M383.6 390.0h0M385.7 389.9h0M386.9 390.6h0M388.8 391.2h0M390.9 391.7h0M392.2 390.3h0M393.3 390.5h0M394.4 391.8h0M396.1 390.8h0M397.1 391.7h0M398.4 391.4h0M399.6 390.4h0M400.8 390.9h0M402.1 391.0h0M404.0 390.3h0M405.1 390.9h0M406.6 390.7h0M408.0 390.2h0M409.1 391.3h0M410.9 391.2h0M412.6 390.9h0M413.9 391.7h0M415.5 390.8h0M416.8 390.6h0M419.0 390.7h0M421.0 390.1h0M422.7 390.3h0M424.0 390.3h0M425.5 390.9h0M426.9 391.3h0M428.1 391.2h0M429.6 391.0h0M431.1 389.9h0M433.2 390.5h0M435.1 390.2h0M436.9 391.0h0M438.8 390.9h0M440.3 389.5h0M269.0 383.2h0M271.5 383.2h0M274.0 383.2h0M278.7 383.5h0M299.1 385.5h0M325.4 381.5h0M343.8 382.5h0M366.8 377.3h0M376.6 370.5h0M428.5 371.5h0M356.8 374.5h0M357.7 371.7h0M358.0 372.0h0M353.7 371.6h0M357.1 373.2h0M366.1 380.1h0M433.6 384.8h0M439.5 384.7h0M437.6 386.5h0M395.0 379.1h0M377.1 387.6h0M415.7 381.9h0M378.2 385.9h0M435.7 381.4h0M440.8 384.6h0M381.6 380.6h0M419.4 389.2h0M381.2 381.2h0M376.7 380.9h0M382.9 383.3h0M383.8 386.1h0M384.0 381.6h0M397.4 380.4h0M369.8 379.5h0M366.4 386.3h0M369.7 384.0h0M432.7 385.6h0M389.0 383.1h0M398.0 382.2h0M370.0 380.3h0M376.7 380.9h0M390.8 379.7h0M412.2 380.8h0M404.3 386.5h0M403.3 387.0h0M424.5 383.6h0M381.9 379.0h0M418.0 382.7h0M387.8 379.5h0M379.5 388.8h0M401.4 388.2h0M429.3 381.4h0M383.0 388.7h0M383.8 385.4h0M436.2 383.9h0M397.9 389.5h0M430.7 389.2h0M419.0 381.1h0M369.6 378.7h0M435.2 384.7h0M432.2 389.5h0M383.8 389.7h0M386.5 380.6h0M386.4 389.9h0M436.5 382.6h0M402.1 388.0h0M426.3 388.8h0M393.2 381.2h0M404.5 389.2h0M412.0 388.5h0M380.7 384.3h0M434.8 385.1h0M425.5 387.8h0M399.2 386.4h0M417.9 383.6h0M405.0 387.8h0M432.1 389.8h0M393.6 386.3h0M407.3 388.3h0M384.0 383.9h0M385.2 387.7h0M419.3 378.6h0M374.1 380.1h0M410.3 387.4h0M391.8 379.4h0M409.9 385.6h0M398.3 381.6h0M392.0 381.2h0M427.0 382.9h0M419.5 384.8h0M383.2 381.7h0M416.3 388.4h0M434.8 380.3h0M385.4 379.6h0M380.2 382.9h0M419.9 389.0h0M410.3 380.2h0M394.2 380.2h0M387.0 385.1h0M403.6 380.5h0M386.7 388.8h0M413.3 385.4h0M390.2 381.9h0M423.1 378.7h0M415.0 389.5h0M413.6 379.1h0M368.5 387.5h0M379.9 383.4h0M414.9 386.3h0M387.6 386.3h0M434.5 383.9h0M395.7 386.4h0M431.5 386.4h0M435.6 387.5h0M437.7 381.4h0M416.5 380.9h0M374.8 382.4h0M436.9 381.9h0M389.2 389.2h0M439.6 387.2h0M392.4 388.0h0M370.9 378.6h0M370.7 382.3h0M384.1 388.4h0M399.5 388.3h0M402.6 382.8h0M391.5 379.0h0M400.1 389.4h0M438.9 389.2h0M373.3 383.6h0M428.5 380.3h0M370.9 380.9h0M372.3 387.0h0M419.4 389.9h0M369.8 386.6h0M437.7 370.0h0M426.3 378.8h0M437.6 368.8h0M428.0 375.2h0M427.7 372.8h0M427.4 369.0h0M432.8 374.0h0M438.6 368.0h0M430.7 368.8h0M433.8 369.8h0M430.3 378.7h0M435.4 375.4h0M434.7 370.2h0M436.0 378.7h0M426.4 377.2h0M430.5 370.2h0M435.5 377.4h0M427.7 370.2h0M433.0 370.3h0M433.1 378.9h0M425.4 372.7h0M428.2 369.8h0M434.4 378.4h0M432.5 374.1h0M436.2 377.4h0M440.5 371.7h0M427.8 378.1h0M434.7 377.7h0M427.3 376.7h0M426.9 369.5h0M426.9 372.0h0M431.6 375.2h0M440.0 372.7h0M434.3 372.5h0M431.1 370.9h0M264.2 468.6h0M265.3 468.4h0M266.9 469.5h0M268.8 469.7h0M270.7 468.5h0M271.7 468.9h0M273.1 469.6h0M275.2 469.0h0M277.2 469.3h0M278.8 468.7h0M281.0 469.4h0M282.7 469.8h0M283.8 469.4h0M285.5 468.5h0M286.6 469.0h0M288.7 468.2h0M290.8 469.8h0M292.0 468.9h0M293.6 468.5h0M294.7 468.3h0M296.9 469.4h0M299.1 468.8h0M300.7 467.9h0M302.2 468.9h0M304.4 467.9h0M306.2 467.9h0M308.4 468.2h0M310.2 469.1h0M311.5 468.8h0M313.0 468.2h0M314.4 468.0h0M316.3 469.8h0M318.0 468.7h0M319.6 468.2h0M321.5 469.3h0M322.6 468.7h0M323.7 469.3h0M324.7 469.7h0M325.7 469.6h0M326.9 469.0h0M328.8 469.9h0M330.9 468.3h0M332.7 468.9h0M333.9 468.9h0M336.1 468.1h0M337.9 469.1h0M340.0 469.0h0M341.3 469.8h0M342.4 469.5h0M343.7 468.2h0M344.9 469.8h0M346.1 470.0h0M347.2 470.0h0M348.2 469.5h0M349.9 469.3h0M352.0 468.6h0M354.3 469.3h0M356.3 468.7h0M358.5 469.6h0M360.1 468.6h0M362.1 469.3h0M364.4 469.9h0M366.3 469.6h0M367.5 469.8h0M369.3 468.4h0M370.4 468.4h0M371.6 469.7h0M373.6 469.6h0M375.0 470.1h0M376.2 468.7h0M377.7 468.7h0M379.6 469.9h0M381.5 468.9h0M383.2 468.9h0M384.9 469.3h0M386.0 469.9h0M388.0 469.8h0M389.1 468.7h0M391.0 469.9h0M392.8 470.1h0M394.3 468.7h0M395.8 468.9h0M397.3 469.8h0M398.7 469.7h0M400.4 468.3h0M402.0 470.0h0M403.8 470.0h0M405.6 470.3h0M406.6 469.1h0M407.8 469.8h0M409.1 469.6h0M410.9 468.3h0M412.7 468.9h0M413.9 469.6h0M415.7 468.7h0M417.6 468.4h0M418.6 470.1h0M420.8 470.2h0M423.0 469.8h0M424.7 469.4h0M426.3 470.2h0M428.5 469.2h0M429.7 469.4h0M431.2 469.9h0M433.4 469.6h0M434.5 469.4h0M435.6 469.4h0M437.6 469.7h0M439.1 468.7h0M375.0 466.0h0M371.7 466.1h0M278.0 467.1h0M284.6 465.9h0M383.7 467.9h0M277.0 467.4h0M290.0 465.6h0M267.9 465.6h0M392.9 467.8h0M267.3 465.9h0M273.3 466.5h0M321.4 466.0h0M407.7 465.8h0M375.7 465.9h0M379.4 465.8h0M299.5 468.0h0M311.6 466.6h0M380.6 468.0h0M361.1 465.8h0M382.0 467.2h0M367.2 466.5h0M408.5 465.7h0M360.6 466.9h0M425.6 467.4h0M306.9 466.5h0M264.5 448.8h0M265.1 449.2h0M267.3 447.3h0M268.3 446.5h0M271.1 446.1h0M272.0 446.9h0M273.9 445.7h0M274.7 445.3h0M286.0 443.9h0M278.1 444.3h0M283.1 445.0h0M283.0 444.0h0M284.9 443.8h0M276.5 443.6h0M282.8 444.5h0M281.3 444.5h0M277.6 443.9h0M283.0 444.2h0M278.4 459.6h0M277.5 459.3h0M266.0 458.8h0M265.8 458.2h0M269.6 458.6h0M268.8 459.7h0M272.8 458.4h0M266.3 458.5h0M286.4 458.9h0M289.5 459.0h0M282.5 458.7h0M287.9 458.7h0M268.2 458.2h0M286.8 457.9h0M269.4 459.1h0M283.5 458.7h0M282.7 458.6h0M280.9 457.9h0M275.9 459.7h0M280.5 458.5h0M306.7 460.7h0M305.8 460.1h0M307.9 460.6h0M304.4 460.4h0M290.9 451.9h0M295.9 451.9h0M297.0 452.3h0M296.5 451.3h0M292.0 451.1h0M296.4 453.3h0M313.4 448.5h0M318.5 448.4h0M311.5 448.0h0M317.9 449.1h0M313.8 449.0h0M317.1 448.9h0M309.4 448.8h0M317.5 448.6h0M325.4 449.0h0M326.7 449.0h0M343.8 447.0h0M348.4 465.0h0M381.2 451.0h0M372.0 455.3h0M419.3 462.0h0M424.6 464.0h0M332.0 460.7h0M330.9 458.2h0M333.1 462.8h0M330.5 460.8h0M360.2 455.8h0M358.4 457.2h0M361.2 456.3h0M359.5 458.8h0M361.5 460.8h0M388.3 461.8h0M384.6 464.0h0M384.5 463.9h0M382.3 462.0h0M386.0 465.3h0M386.2 464.2h0M389.8 462.1h0M384.8 465.1h0M385.8 460.8h0M384.0 465.0h0M380.0 462.8h0M390.2 463.2h0M384.4 463.9h0M388.4 463.2h0M389.1 464.5h0M400.4 462.6h0M398.5 461.7h0M401.9 461.7h0M398.5 462.9h0M410.9 461.9h0M396.1 462.2h0M401.3 461.8h0M407.8 461.9h0M264.2 539.1h0M265.6 539.3h0M267.2 539.4h0M269.2 540.9h0M270.4 541.1h0M272.6 539.6h0M274.7 541.0h0M276.6 539.5h0M278.4 540.5h0M279.8 539.8h0M280.8 539.0h0M282.8 539.4h0M284.7 539.7h0M286.5 539.3h0M287.6 540.2h0M288.9 539.1h0M290.5 539.8h0M292.6 540.3h0M294.1 539.6h0M295.8 538.9h0M297.1 540.0h0M299.3 540.0h0M300.5 540.9h0M302.5 539.1h0M303.9 538.7h0M305.9 539.2h0M307.9 540.4h0M309.8 540.1h0M311.1 538.8h0M312.8 538.8h0M314.5 540.6h0M315.6 539.8h0M317.3 539.2h0M318.5 540.3h0M319.7 539.2h0M320.9 541.1h0M323.0 539.2h0M324.7 539.9h0M325.7 539.5h0M327.5 539.0h0M329.7 539.7h0M331.1 541.3h0M332.2 539.3h0M333.8 539.8h0M335.2 540.5h0M337.3 540.1h0M338.3 540.0h0M340.4 540.3h0M341.4 540.0h0M342.7 540.5h0M344.1 541.6h0M345.9 540.3h0M347.1 542.2h0M349.2 542.2h0M350.3 542.0h0M351.4 542.0h0M352.6 542.4h0M354.7 541.6h0M356.6 542.8h0M358.7 542.2h0M360.4 541.4h0M362.3 540.5h0M363.8 540.0h0M364.9 541.2h0M366.4 539.7h0M368.6 539.5h0M370.2 539.6h0M371.4 540.5h0M373.3 539.9h0M374.7 539.6h0M376.8 539.6h0M378.0 537.7h0M379.1 537.5h0M380.9 537.4h0M382.5 538.2h0M384.4 537.4h0M386.3 539.6h0M387.6 538.3h0M389.5 538.0h0M391.5 539.7h0M392.8 538.4h0M393.9 538.6h0M395.4 539.6h0M397.3 539.6h0M399.3 539.2h0M400.7 538.8h0M401.8 538.1h0M404.0 539.6h0M405.2 538.4h0M406.6 538.7h0M408.4 537.8h0M410.4 538.3h0M412.4 538.9h0M414.6 538.4h0M416.3 539.0h0M417.6 537.3h0M419.6 538.8h0M421.5 539.1h0M422.7 539.3h0M424.5 539.4h0M426.2 539.3h0M427.2 537.7h0M428.9 538.9h0M430.3 537.6h0M432.4 537.7h0M434.5 538.2h0M436.4 539.1h0M437.6 538.5h0M438.9 539.1h0M440.2 539.2h0M290.2 536.9h0M271.1 538.4h0M322.3 536.0h0M303.5 536.1h0M305.9 536.5h0M337.1 537.0h0M304.3 536.8h0M332.8 536.0h0M287.7 536.7h0M321.0 537.1h0M329.6 537.0h0M274.4 537.4h0M271.5 536.5h0M304.2 537.7h0M281.0 536.5h0M304.1 537.3h0M301.1 538.0h0M275.6 536.0h0M269.9 538.4h0M317.7 536.5h0M289.8 536.9h0M334.2 537.2h0M318.6 536.3h0M268.1 536.7h0M313.1 537.3h0M278.7 535.8h0M386.6 520.7h0M361.1 538.1h0M362.9 536.4h0M362.8 536.0h0M423.9 535.9h0M421.7 535.5h0M408.5 536.9h0M415.0 536.3h0M382.0 535.8h0M421.2 536.8h0M385.2 536.0h0M404.7 535.9h0M384.8 536.8h0M379.7 536.4h0M394.4 536.2h0M417.6 536.6h0M412.8 535.4h0M414.5 536.7h0M374.2 535.8h0M410.6 536.8h0M401.1 536.8h0M378.6 535.8h0M415.0 536.7h0M385.3 536.3h0M396.0 536.6h0M394.0 535.9h0M506.2 391.9h0M508.4 392.5h0M509.7 391.5h0M511.2 392.6h0M512.8 391.6h0M513.8 391.7h0M515.9 391.7h0M517.9 392.5h0M520.1 392.2h0M521.7 391.5h0M523.8 392.3h0M525.7 391.1h0M527.5 392.2h0M528.7 391.6h0M530.2 391.5h0M531.3 391.3h0M532.8 391.1h0M534.8 391.7h0M536.1 391.5h0M537.5 392.0h0M539.4 391.7h0M541.2 392.0h0M543.2 392.2h0M545.2 391.1h0M546.6 391.2h0M548.6 391.3h0M550.8 391.6h0M551.9 392.2h0M553.1 391.6h0M554.6 392.1h0M556.3 392.1h0M558.2 392.6h0M560.0 391.7h0M561.6 391.6h0M563.6 391.9h0M565.5 392.4h0M567.3 392.5h0M568.8 392.2h0M570.9 391.8h0M573.0 391.5h0M574.1 392.4h0M575.8 392.6h0M577.5 391.5h0M578.6 392.5h0M579.9 391.3h0M581.5 392.2h0M583.2 391.1h0M585.2 392.1h0M586.6 392.5h0M588.2 392.3h0M589.2 391.5h0M591.2 392.1h0M593.0 392.2h0M594.0 392.4h0M595.0 391.4h0M596.4 391.8h0M597.5 391.7h0M598.6 391.6h0M600.0 391.2h0M602.0 391.1h0M603.2 392.4h0M604.7 392.5h0M606.0 391.8h0M607.7 391.6h0M609.9 391.6h0M611.9 391.7h0M613.3 392.2h0M615.4 390.9h0M617.2 392.0h0M618.8 391.5h0M620.7 391.0h0M622.2 391.1h0M624.3 392.0h0M625.8 392.0h0M627.4 391.8h0M628.7 391.9h0M630.5 392.3h0M631.8 391.3h0M633.7 391.0h0M635.7 392.0h0M636.8 391.8h0M638.2 391.0h0M639.6 391.8h0M641.4 391.1h0M643.2 391.8h0M644.4 391.9h0M646.0 391.5h0M648.1 390.8h0M649.6 391.6h0M650.6 391.1h0M652.3 391.1h0M653.9 391.7h0M655.0 391.5h0M656.3 390.5h0M657.9 390.5h0M659.4 390.6h0M660.9 390.5h0M663.2 390.6h0M664.7 391.2h0M666.5 390.4h0M668.6 390.8h0M669.6 390.9h0M671.4 390.8h0M673.3 390.7h0M675.3 391.6h0M677.3 390.2h0M678.8 390.9h0M680.2 390.4h0M679.3 384.5h0M670.1 385.0h0M675.6 384.2h0M668.9 383.1h0M664.1 382.0h0M662.1 383.5h0M673.6 382.3h0M659.2 389.8h0M672.3 381.8h0M678.4 387.8h0M671.5 389.7h0M669.4 382.3h0M655.3 381.8h0M667.5 386.0h0M677.5 381.6h0M656.9 381.9h0M664.8 389.4h0M676.1 381.4h0M671.0 382.6h0M661.1 383.9h0M661.7 383.7h0M661.0 384.1h0M671.0 386.1h0M674.7 383.5h0M655.7 386.1h0M663.4 382.9h0M666.0 389.5h0M671.2 387.5h0M656.2 385.9h0M673.9 388.8h0M675.5 381.5h0M681.7 381.1h0M675.8 385.2h0M680.1 389.5h0M675.2 381.7h0M672.5 382.1h0M666.5 382.2h0M663.1 381.5h0M669.6 381.8h0M661.6 388.0h0M662.9 386.2h0M678.4 386.7h0M677.1 389.4h0M661.6 382.7h0M681.8 389.3h0M663.7 389.3h0M657.3 383.0h0M678.3 381.9h0M678.3 383.0h0M675.8 382.1h0M668.5 386.2h0M670.1 388.8h0M655.9 387.4h0M678.0 385.7h0M661.4 388.2h0M666.6 383.4h0M675.9 387.9h0M677.3 385.4h0M655.4 381.2h0M669.9 381.3h0M671.8 382.2h0M676.0 381.2h0M673.6 383.0h0M682.0 385.3h0M669.0 388.6h0M662.7 389.7h0M663.0 381.3h0M662.6 384.3h0M671.1 381.6h0M679.4 388.0h0M508.3 386.5h0M510.0 387.0h0M513.5 389.0h0M514.2 383.5h0M519.4 382.0h0M584.0 377.0h0M586.0 377.0h0M617.8 372.7h0M638.2 375.3h0M650.7 375.5h0M535.1 388.3h0M522.4 384.7h0M537.2 378.7h0M529.0 379.0h0M538.4 382.2h0M536.7 379.6h0M532.5 385.4h0M527.7 379.8h0M523.0 384.0h0M528.9 379.0h0M527.3 380.4h0M523.7 383.6h0M524.2 379.2h0M528.0 388.3h0M534.5 379.1h0M536.9 387.7h0M527.5 386.0h0M533.0 383.1h0M538.0 384.5h0M533.3 387.7h0M529.8 377.8h0M521.5 385.1h0M530.0 386.9h0M539.3 379.6h0M525.1 383.4h0M521.8 377.8h0M522.8 380.1h0M529.5 378.9h0M534.1 385.6h0M536.7 383.0h0M535.3 386.0h0M534.8 380.3h0M532.0 386.3h0M525.9 380.8h0M521.6 383.7h0M523.5 381.9h0M524.8 378.0h0M537.7 380.5h0M539.0 385.3h0M532.2 382.3h0M544.1 373.2h0M541.1 372.2h0M541.6 370.7h0M541.2 373.2h0M546.0 371.7h0M541.0 370.7h0M547.2 378.4h0M556.4 380.2h0M550.2 381.4h0M545.2 378.4h0M549.4 374.8h0M547.2 380.7h0M551.9 377.1h0M543.5 380.7h0M544.8 374.0h0M557.6 382.6h0M557.2 377.8h0M554.6 384.1h0M552.3 374.4h0M546.7 378.4h0M549.3 380.8h0M545.3 376.6h0M542.7 378.7h0M544.3 376.8h0M542.7 383.9h0M546.0 380.0h0M551.5 374.5h0M551.0 383.5h0M546.2 381.4h0M553.8 380.6h0M548.0 380.0h0M561.7 372.3h0M562.4 374.0h0M562.5 372.3h0M556.9 370.9h0M558.3 373.0h0M556.1 371.6h0M557.0 372.8h0M557.4 374.4h0M568.0 372.5h0M574.3 374.1h0M571.0 374.4h0M575.5 373.2h0M570.4 372.0h0M573.7 371.6h0M564.5 381.3h0M565.7 380.8h0M578.7 385.6h0M561.9 383.4h0M574.3 381.5h0M579.2 385.9h0M564.5 382.6h0M576.3 384.1h0M564.2 381.9h0M577.9 384.8h0M578.1 385.6h0M571.1 380.4h0M579.2 387.4h0M574.5 381.2h0M572.6 380.5h0M578.3 385.5h0M579.6 388.3h0M566.6 381.2h0M569.5 380.5h0M561.1 384.5h0M567.2 381.1h0M574.7 382.4h0M578.3 384.8h0M572.0 381.5h0M577.6 385.2h0M579.3 388.8h0M577.3 385.1h0M565.7 381.5h0M568.4 380.7h0M563.9 383.2h0M521.4 384.2h0M550.4 383.2h0M585.6 383.1h0M563.4 387.6h0M589.5 385.2h0M562.2 378.4h0M550.1 379.7h0M581.8 386.4h0M530.9 385.1h0M589.9 388.9h0M550.1 382.1h0M562.5 382.9h0M598.0 388.9h0M591.5 391.0h0M528.4 390.2h0M548.9 380.7h0M568.1 382.6h0M536.7 390.6h0M534.6 378.2h0M551.4 388.5h0M584.4 383.4h0M552.3 379.0h0M583.8 387.6h0M537.4 386.4h0M591.4 382.0h0M538.5 387.4h0M569.8 382.5h0M520.4 381.5h0M576.4 379.6h0M558.5 387.8h0M547.8 378.8h0M574.1 386.6h0M568.7 389.7h0M549.7 384.1h0M556.2 389.0h0M546.4 380.4h0M549.5 388.5h0M579.4 379.6h0M585.4 390.8h0M547.0 388.1h0M575.5 385.6h0M538.6 377.0h0M589.5 381.6h0M585.9 389.0h0M588.5 387.3h0M578.1 388.5h0M595.4 389.9h0M590.4 381.5h0M593.7 378.3h0M534.7 389.1h0M563.8 390.4h0M546.5 377.9h0M532.0 389.4h0M584.7 383.0h0M572.3 377.5h0M594.9 381.0h0M535.9 383.8h0M558.3 383.8h0M577.5 379.6h0M583.6 381.6h0M551.9 389.6h0M579.1 387.2h0M583.5 382.9h0M547.7 384.3h0M587.8 379.4h0M576.1 383.6h0M595.5 386.9h0M593.8 382.8h0M556.9 380.5h0M536.6 381.4h0M537.1 385.8h0M565.5 387.3h0M580.1 390.6h0M562.2 385.6h0M562.3 383.7h0M547.3 381.3h0M546.6 384.1h0M555.6 384.7h0M573.5 390.8h0M566.7 390.9h0M545.3 385.5h0M566.6 383.3h0M556.8 380.3h0M598.5 378.0h0M584.5 383.7h0M547.7 381.3h0M595.7 381.7h0M566.3 382.8h0M572.9 384.8h0M562.5 378.5h0M523.9 374.6h0M522.2 373.6h0M542.4 375.2h0M545.7 370.3h0M533.6 372.3h0M569.1 374.9h0M582.7 376.7h0M562.6 370.3h0M570.6 372.5h0M566.2 371.2h0M551.0 371.7h0M571.5 376.6h0M548.8 373.5h0M568.4 375.3h0M548.1 371.9h0M569.8 372.2h0M558.3 374.4h0M562.6 376.8h0M547.4 371.5h0M551.7 376.3h0M584.5 370.4h0M534.7 371.7h0M516.9 388.8h0M508.3 389.5h0M518.1 389.7h0M510.9 389.7h0M509.6 390.5h0M508.0 386.8h0M510.3 389.7h0M516.7 387.7h0M583.4 375.2h0M583.8 374.2h0M584.9 377.8h0M582.8 375.9h0M583.8 375.5h0M606.5 377.7h0M601.3 378.2h0M604.3 377.8h0M596.9 378.2h0M597.0 378.4h0M595.7 378.5h0M605.1 378.0h0M606.0 378.3h0M611.0 379.8h0M607.2 379.1h0M607.2 381.7h0M611.2 382.9h0M612.5 386.0h0M649.3 389.4h0M658.4 383.3h0M656.5 386.4h0M644.5 384.8h0M624.7 389.1h0M638.4 388.6h0M589.8 390.3h0M587.2 389.6h0M626.5 388.0h0M600.1 389.4h0M641.5 385.1h0M654.6 386.4h0M649.2 385.0h0M611.8 384.9h0M585.6 384.3h0M594.8 387.2h0M620.1 384.0h0M653.6 388.2h0M622.9 385.3h0M615.2 390.3h0M615.6 387.1h0M654.0 386.3h0M648.7 383.7h0M637.6 384.1h0M604.0 383.9h0M650.8 390.2h0M644.1 387.1h0M591.6 387.3h0M652.2 388.8h0M583.1 390.9h0M656.0 387.8h0M584.7 388.8h0M631.1 383.2h0M617.2 383.3h0M587.8 388.5h0M641.9 385.7h0M595.0 385.3h0M600.6 387.5h0M604.0 390.3h0M584.2 385.0h0M631.1 386.7h0M589.4 386.2h0M604.6 389.4h0M601.5 388.2h0M635.0 386.5h0M586.5 387.4h0M591.3 385.1h0M654.2 384.6h0M656.7 384.4h0M585.4 383.4h0M647.6 390.2h0M604.0 385.9h0M609.3 388.1h0M606.4 386.9h0M633.2 385.3h0M593.3 388.3h0M633.2 383.2h0M616.3 389.8h0M628.7 388.5h0M506.2 468.0h0M508.3 466.3h0M510.5 468.6h0M512.3 468.4h0M513.6 467.2h0M514.7 467.3h0M516.9 468.0h0M518.5 467.0h0M519.7 467.3h0M521.0 467.4h0M522.7 467.2h0M524.5 467.3h0M526.1 467.5h0M528.1 468.6h0M529.8 468.2h0M531.1 466.7h0M532.5 466.6h0M534.4 468.7h0M536.2 466.9h0M537.4 468.3h0M539.1 466.7h0M541.3 468.3h0M543.5 468.9h0M545.4 468.7h0M547.6 466.7h0M549.0 467.7h0M550.8 466.7h0M552.1 468.3h0M554.3 467.5h0M556.4 468.5h0M558.6 466.7h0M560.0 467.9h0M562.0 468.4h0M563.1 467.9h0M564.1 467.0h0M565.1 467.5h0M566.3 467.9h0M567.7 468.3h0M569.1 468.7h0M570.2 466.4h0M571.8 467.4h0M573.9 466.2h0M575.1 466.7h0M576.6 468.2h0M578.4 466.7h0M579.8 468.1h0M581.5 466.3h0M582.9 466.1h0M584.5 466.7h0M585.8 467.0h0M587.9 466.3h0M589.0 466.4h0M590.5 467.2h0M592.6 468.0h0M593.9 466.5h0M595.6 468.3h0M596.8 468.2h0M598.3 468.7h0M600.5 466.7h0M602.4 467.8h0M603.9 467.6h0M606.0 467.5h0M607.7 467.6h0M608.7 468.2h0M609.8 468.6h0M610.8 467.8h0M612.0 468.1h0M613.8 468.3h0M615.8 468.9h0M616.9 466.9h0M618.5 468.8h0M620.0 466.9h0M621.6 467.2h0M622.7 468.5h0M624.2 468.6h0M625.3 467.3h0M626.4 468.6h0M627.9 468.0h0M629.0 467.6h0M630.4 468.3h0M631.7 469.0h0M633.1 467.8h0M634.6 467.4h0M635.7 466.6h0M637.8 469.1h0M639.5 466.9h0M640.7 467.2h0M641.7 466.9h0M643.1 466.5h0M645.1 466.5h0M647.3 465.8h0M648.4 467.0h0M650.3 467.1h0M651.7 467.1h0M652.8 466.8h0M654.7 466.4h0M656.4 466.1h0M657.9 466.1h0M659.6 467.1h0M661.0 466.3h0M662.5 465.3h0M664.4 464.8h0M666.4 464.9h0M667.6 466.7h0M669.1 465.5h0M670.7 467.1h0M672.5 465.6h0M674.7 465.3h0M675.8 466.5h0M677.7 466.7h0M679.2 466.4h0M680.4 465.3h0M551.4 465.0h0M540.8 466.5h0M612.5 465.8h0M593.2 464.5h0M543.9 466.2h0M519.3 467.0h0M526.2 464.2h0M608.2 466.7h0M527.8 466.8h0M574.8 463.9h0M579.6 464.3h0M593.1 465.7h0M618.1 466.7h0M621.7 465.9h0M604.0 466.5h0M618.4 465.2h0M632.1 466.9h0M533.2 464.2h0M588.7 465.4h0M563.2 465.2h0M534.7 465.0h0M585.9 466.1h0M600.9 463.9h0M534.9 465.2h0M609.8 464.5h0M605.2 464.3h0M547.3 466.5h0M533.1 466.4h0M580.2 463.6h0M569.5 465.4h0M523.6 464.8h0M571.6 465.2h0M629.5 464.9h0M626.2 464.5h0M606.1 464.0h0M664.5 464.4h0M674.7 459.8h0M671.3 460.5h0M680.6 461.5h0M675.9 460.6h0M681.4 463.0h0M649.3 465.4h0M673.2 464.2h0M658.0 461.0h0M666.7 465.0h0M671.0 464.1h0M642.6 462.5h0M652.2 463.0h0M668.1 463.4h0M640.1 461.5h0M652.0 462.2h0M652.0 460.7h0M649.4 462.7h0M677.1 460.9h0M680.4 463.8h0M677.6 465.3h0M671.6 465.5h0M648.1 463.6h0M655.1 460.6h0M651.5 463.7h0M645.6 460.2h0M675.5 464.8h0M641.3 460.8h0M640.1 463.0h0M681.3 460.5h0M664.2 462.4h0M670.6 463.3h0M670.8 460.2h0M681.1 464.6h0M644.6 459.6h0M674.1 464.5h0M656.0 465.5h0M666.6 462.8h0M641.7 462.7h0M655.9 462.3h0M654.5 465.0h0M655.5 460.1h0M650.6 464.9h0M661.7 461.8h0M676.8 465.9h0M507.0 463.0h0M515.0 464.6h0M531.0 465.0h0M560.0 463.6h0M582.0 461.8h0M585.0 458.6h0M589.0 455.2h0M599.4 451.3h0M604.0 451.3h0M606.0 451.3h0M608.0 451.3h0M588.9 458.0h0M617.8 462.5h0M666.4 459.6h0M656.6 459.5h0M661.8 459.5h0M612.9 449.2h0M612.5 449.0h0M614.7 453.0h0M612.5 452.6h0M623.8 457.5h0M621.1 456.8h0M623.0 456.8h0M506.2 540.6h0M508.0 539.3h0M509.7 539.7h0M511.0 539.7h0M511.9 540.2h0M514.1 538.6h0M515.6 539.7h0M517.5 540.1h0M518.9 539.4h0M520.3 538.5h0M521.9 537.8h0M524.0 536.5h0M525.6 537.3h0M526.6 538.7h0M527.8 537.4h0M529.0 539.3h0M530.8 538.4h0M532.4 538.5h0M534.0 537.7h0M535.3 540.1h0M536.7 539.5h0M538.5 538.9h0M540.2 539.6h0M541.9 539.8h0M543.3 538.4h0M544.8 539.9h0M546.4 537.9h0M548.0 540.2h0M549.1 539.4h0M550.4 539.3h0M552.4 538.8h0M553.6 539.2h0M555.8 538.1h0M557.1 538.6h0M558.7 540.1h0M560.4 539.7h0M561.6 539.5h0M563.5 539.0h0M564.5 540.7h0M566.1 540.7h0M567.9 539.2h0M569.1 540.7h0M571.0 539.8h0M572.0 539.1h0M573.5 538.6h0M575.0 539.6h0M576.3 539.8h0M578.4 540.7h0M580.5 539.3h0M581.7 539.8h0M583.9 539.2h0M584.9 541.0h0M585.9 540.2h0M588.1 540.7h0M589.1 540.1h0M591.0 541.3h0M592.1 540.9h0M593.7 540.3h0M594.8 540.8h0M596.3 542.9h0M597.6 543.2h0M598.6 542.4h0M599.8 541.6h0M601.1 543.4h0M602.8 542.3h0M604.7 543.4h0M606.8 543.3h0M607.9 543.6h0M610.1 543.8h0M611.9 541.9h0M613.9 542.8h0M615.8 544.0h0M617.1 541.6h0M619.2 543.9h0M620.3 542.7h0M622.3 543.1h0M624.0 544.1h0M625.0 542.5h0M626.1 544.1h0M627.8 542.2h0M629.9 543.9h0M631.5 544.0h0M632.7 543.3h0M634.9 542.1h0M636.8 543.7h0M638.9 542.2h0M640.3 541.6h0M641.9 542.6h0M643.3 541.9h0M644.6 540.0h0M646.4 540.6h0M648.5 539.4h0M650.0 540.5h0M652.0 540.5h0M653.3 540.7h0M655.2 540.0h0M656.6 540.3h0M657.7 540.3h0M659.2 540.3h0M660.9 539.3h0M662.2 539.6h0M663.4 539.0h0M665.1 538.8h0M667.3 539.6h0M668.7 538.7h0M670.0 539.2h0M671.1 539.0h0M673.3 540.6h0M675.4 540.6h0M677.3 540.6h0M679.1 539.2h0M680.2 539.8h0M519.4 534.8h0M523.4 533.5h0M659.2 535.8h0"/><path fill="none" stroke="#fff" stroke-width="1.4" stroke-linecap="round" d="M72.6 78.6h0M117.7 80.0h0M45.0 78.5h0M34.8 78.7h0M80.3 79.9h0M158.2 80.6h0M113.0 79.6h0M86.4 78.1h0M69.6 77.8h0M153.6 82.0h0M59.0 80.8h0M188.6 79.7h0M149.4 158.0h0M188.2 156.5h0M193.8 158.0h0M168.2 156.1h0M71.6 232.2h0M117.9 233.3h0M198.6 231.5h0M123.5 232.8h0M177.8 232.9h0M136.2 232.5h0M89.1 231.4h0M164.4 233.1h0M189.3 232.8h0M78.9 232.7h0M154.7 232.2h0M136.5 231.8h0M121.8 231.8h0M36.5 231.5h0M402.7 83.3h0M291.4 82.0h0M396.7 81.1h0M421.8 83.7h0M394.7 83.2h0M378.3 83.6h0M287.9 82.0h0M387.9 81.8h0M313.0 78.8h0M370.3 83.2h0M312.7 79.6h0M304.1 77.6h0M383.0 84.2h0M405.0 80.2h0M387.1 78.1h0M411.4 80.0h0M390.1 158.1h0M400.4 157.4h0M277.2 155.9h0M349.4 157.6h0M381.7 157.6h0M320.6 156.7h0M389.4 158.5h0M329.9 156.7h0M427.0 158.8h0M373.0 157.4h0M344.6 158.3h0M313.6 154.6h0M436.3 158.7h0M287.5 156.3h0M373.1 157.8h0M277.0 157.7h0M399.6 157.9h0M280.0 155.9h0M281.4 158.7h0M273.9 155.4h0M399.1 157.4h0M283.6 154.3h0M293.6 156.6h0M410.5 157.4h0M295.3 157.7h0M339.3 157.7h0M286.5 155.2h0M434.7 157.3h0M310.3 157.7h0M420.7 158.7h0M319.8 233.2h0M297.0 225.4h0M314.1 232.7h0M413.9 230.2h0M413.7 232.9h0M339.6 227.8h0M399.9 230.3h0M285.8 232.5h0M341.7 229.2h0M368.9 228.4h0M268.5 228.0h0M331.2 227.2h0M329.9 231.9h0M323.1 231.3h0M374.0 228.1h0M268.6 230.5h0M371.7 228.7h0M300.0 232.0h0M423.8 229.9h0M367.3 230.5h0M321.2 226.6h0M321.8 231.0h0M370.1 230.1h0M286.4 225.7h0M319.4 229.0h0M328.4 232.8h0M285.3 233.3h0M307.0 232.1h0M307.5 229.6h0M330.9 227.3h0M677.8 79.8h0M651.6 83.9h0M561.4 82.2h0M625.7 83.4h0M605.3 79.3h0M550.6 81.1h0M530.5 83.3h0M661.2 79.3h0M627.9 82.3h0M528.1 82.7h0M639.9 79.9h0M524.0 78.8h0M640.8 80.9h0M648.4 78.9h0M525.5 79.3h0M659.6 78.8h0M519.7 82.4h0M522.8 81.8h0M521.5 78.5h0M622.1 83.5h0M578.0 80.5h0M512.4 79.0h0M549.0 82.9h0M630.8 83.0h0M599.2 82.3h0M529.1 79.7h0M557.8 79.3h0M635.2 79.3h0M563.4 79.4h0M656.8 82.0h0M512.3 157.4h0M610.5 157.4h0M593.8 156.1h0M585.3 158.0h0M611.4 155.6h0M528.6 158.1h0M601.5 156.3h0M629.5 158.1h0M657.0 156.7h0M647.0 154.3h0M587.4 157.9h0M566.2 156.3h0M657.1 157.0h0M508.3 155.3h0M603.6 158.3h0M614.1 158.0h0M525.2 157.1h0M538.5 156.6h0M532.9 156.9h0M515.0 157.3h0M619.1 158.1h0M640.2 154.5h0M657.7 156.2h0M669.3 155.8h0M521.1 157.5h0M537.0 158.4h0M600.5 158.2h0M592.4 156.8h0M621.8 157.4h0M586.8 156.7h0M508.6 230.4h0M523.7 228.0h0M525.7 233.0h0M514.2 228.4h0M510.1 228.6h0M515.8 231.5h0M526.7 230.7h0M527.0 230.0h0M520.8 227.2h0M515.8 227.2h0M570.8 230.1h0M562.2 229.6h0M571.4 229.7h0M579.9 229.8h0M577.2 232.4h0M576.3 230.6h0M571.0 232.5h0M564.1 228.9h0M658.1 230.8h0M647.1 230.6h0M675.9 232.6h0M647.4 227.5h0M676.6 231.3h0M671.3 226.7h0M665.8 226.3h0M670.3 231.9h0M654.4 226.2h0M670.1 233.4h0M665.8 228.8h0M654.6 232.0h0M679.2 229.0h0M650.5 233.4h0M71.6 393.3h0M86.2 393.8h0M94.0 392.7h0M186.9 395.3h0M199.8 393.3h0M107.2 393.3h0M176.8 393.5h0M144.3 394.3h0M120.4 394.4h0M185.0 393.5h0M191.8 394.6h0M85.4 393.8h0M188.0 395.3h0M169.4 395.7h0M133.6 394.1h0M170.7 395.8h0M138.8 394.7h0M158.8 395.5h0M75.5 468.7h0M98.3 469.2h0M45.9 470.8h0M104.6 469.3h0M100.9 470.3h0M144.3 468.4h0M121.5 469.3h0M155.9 469.0h0M65.0 467.9h0M197.6 468.8h0M69.7 471.4h0M34.9 469.9h0M101.3 469.6h0M162.1 471.5h0M81.5 468.4h0M63.5 467.4h0M76.8 545.2h0M126.9 544.0h0M145.7 544.3h0M50.7 545.4h0M150.8 543.6h0M100.3 543.9h0M90.6 543.1h0M117.6 545.9h0M42.5 543.4h0M110.1 545.9h0M198.7 542.9h0M137.7 543.6h0M62.0 542.9h0M113.0 546.0h0M194.0 543.9h0M182.3 544.9h0M410.6 396.4h0M341.0 391.6h0M430.4 392.2h0M294.0 388.7h0M317.8 391.2h0M331.9 391.8h0M271.2 389.1h0M353.7 390.7h0M349.1 396.3h0M379.1 396.7h0M415.2 394.2h0M268.7 385.6h0M365.6 396.1h0M322.9 388.4h0M397.5 394.5h0M346.7 389.7h0M361.7 394.5h0M389.1 396.5h0M278.2 395.3h0M321.1 391.2h0M417.1 470.7h0M274.1 470.8h0M335.0 470.4h0M331.1 470.1h0M289.5 470.7h0M355.5 470.5h0M286.0 544.3h0M310.7 545.7h0M335.7 542.3h0M390.4 545.3h0M329.6 544.6h0M322.9 546.0h0M317.4 540.9h0M265.7 543.5h0M374.1 541.3h0M337.3 543.0h0M328.4 541.8h0M360.1 544.8h0M269.7 545.4h0M310.3 543.1h0M303.0 544.2h0M335.9 543.9h0M527.7 393.3h0M579.5 397.0h0M573.5 396.8h0M623.7 395.3h0M665.5 394.8h0M635.1 394.4h0M645.0 396.4h0M507.2 396.7h0M512.6 395.4h0M519.6 395.9h0M582.0 393.1h0M653.2 393.1h0M654.6 471.2h0M602.7 470.5h0M569.8 469.4h0M667.8 470.2h0M669.9 467.4h0M578.6 471.1h0M667.7 470.5h0M660.6 468.0h0M630.8 468.7h0M586.5 468.1h0M582.1 468.7h0M578.0 470.3h0M624.2 471.0h0M668.9 468.1h0M669.7 545.8h0M583.7 544.3h0M680.4 544.3h0M655.3 545.3h0M603.4 545.7h0M568.3 545.0h0M582.3 541.7h0M650.4 544.8h0M617.3 544.7h0M552.5 545.0h0M622.4 545.2h0M649.3 540.6h0M644.8 545.2h0M531.2 539.8h0M657.0 541.8h0M599.6 545.8h0"/><path fill="none" stroke="#fff" stroke-width="0.9" stroke-linecap="round" d="M400.9 232.2h3.1M397.4 230.8h5.9M274.3 227.7h2.9M371.6 231.7h5.4M358.5 229.3h5.2M282.8 226.4h5.0M340.1 232.9h2.4M343.8 228.3h2.0M281.0 224.8h3.5M338.8 230.0h3.2M384.8 230.5h5.9M293.9 228.7h4.0M328.4 232.2h2.8M414.7 230.5h3.3M369.9 230.4h3.1M279.4 232.5h3.5M284.5 229.9h4.1M320.9 228.8h5.4M322.8 229.7h5.8M326.6 229.9h2.6M378.0 231.1h3.8M334.2 228.7h5.2M343.0 231.9h3.5M390.1 228.4h2.9M428.9 231.8h4.7M349.8 229.8h2.8M294.5 229.9h4.8M309.1 230.0h2.5M369.6 228.2h4.0M318.6 229.8h2.5M347.5 230.6h2.5M317.7 230.6h4.2M370.2 231.7h4.3M302.9 228.3h5.3M361.7 231.5h3.5M341.5 232.7h5.3M376.4 228.0h4.4M270.7 232.4h5.9M389.2 229.5h5.4M295.2 231.4h4.1M267.7 232.0h3.8M406.6 231.7h4.1M412.1 229.9h5.6M322.8 227.5h3.3M276.3 224.9h4.5M509.2 231.9h2.5M512.1 230.4h4.1M507.5 228.4h4.7M513.9 228.0h3.9M513.3 232.9h2.2M510.1 228.1h4.2M523.3 231.8h2.4M516.2 229.5h5.9M562.2 230.4h3.8M575.4 232.6h3.6M568.9 228.7h5.0M569.3 229.0h5.5M562.6 229.0h3.9M576.0 229.0h3.1M656.7 229.4h3.2M666.9 232.8h3.9M671.4 229.2h3.7M669.6 232.7h5.0M666.2 231.8h5.7M674.8 230.1h3.6M642.2 230.1h3.4M642.0 232.9h3.2M674.1 226.9h3.4M669.0 230.9h4.7M658.8 227.1h5.3M668.2 229.7h4.2M393.0 470.6h2.6M310.7 470.5h4.7M373.1 470.8h3.4M395.8 470.7h3.0M286.4 470.6h5.4M427.2 470.8h5.3M365.6 470.5h3.2M412.0 470.6h3.9M358.7 470.3h2.4M299.1 470.7h5.1M279.9 470.2h5.9M293.3 470.7h4.3M413.8 470.8h2.4M396.3 470.8h2.2M425.7 470.6h3.9M354.5 470.6h4.3M276.2 470.8h4.1M281.8 470.5h2.8M338.7 470.7h5.0M292.6 470.2h5.9M334.6 543.5h2.3M432.5 542.3h3.3M409.4 541.3h5.2M337.4 541.9h4.3M312.8 542.0h6.0M424.9 542.3h5.2M379.3 541.4h2.5M364.2 542.7h5.0M366.5 542.4h5.1M430.1 542.5h5.9M341.7 541.9h3.8M325.1 545.2h4.1M428.9 540.6h3.5M267.4 541.3h4.8M270.6 542.0h3.7M422.1 540.9h2.0M384.6 543.7h2.6M423.3 544.7h5.7M405.5 542.8h4.8M286.1 543.9h3.4M539.7 542.8h2.2M654.8 544.9h3.7M641.4 543.5h5.2M644.0 544.5h2.1M557.5 543.8h5.3M590.4 544.4h3.8M605.7 544.4h2.8M654.5 543.4h3.3M557.0 542.2h4.1M533.7 542.5h3.4M572.5 542.5h2.2M656.9 542.3h5.0M667.1 542.5h3.4M621.6 545.4h4.1M616.5 544.2h3.2M584.0 544.0h3.5M632.0 545.3h3.0M596.2 543.1h3.3M604.9 545.2h2.8M642.6 544.5h5.3M518.2 543.0h2.6M638.2 545.0h2.9M674.7 545.0h3.6M543.7 544.3h3.4M652.9 542.2h5.4M566.8 543.5h3.3M612.1 544.1h3.5M566.9 543.5h5.2M590.6 545.3h2.6M631.2 544.6h2.8"/><path d="M532.0 137.0H558.5V139.0H532.0Z" fill="#9dcdef"/><path d="M580.2 136.5H607.0V138.5H580.2Z" fill="#9dcdef"/><path d="M611.0 139.4H618.3V139.8H611.0Z" fill="#9dcdef"/><path d="M533.2 149.1H546.4V151.5H533.2Z" fill="#9dcdef"/><path d="M546.4 151.8H559.5V154.2H546.4Z" fill="#9dcdef"/><path d="M579.0 151.1H640.0V153.5H579.0Z" fill="#9dcdef"/><path d="M533.0 231.8H558.0V234.0H533.0Z" fill="#9dcdef"/><path d="M582.0 231.5H612.0V233.7H582.0Z" fill="#9dcdef"/><path d="M65.4 457.9H82.4V460.5H65.4Z" fill="#9dcdef"/><path d="M65.4 536.5H82.4V539.1H65.4Z" fill="#9dcdef"/><path fill="none" stroke="#9dcdef" stroke-width="3.0" stroke-linecap="round" d="M34.5 58.6h0M39.0 74.0h0M70.0 64.5h0M83.0 56.5h0M85.0 72.0h0M89.7 73.5h0M106.0 67.5h0M108.7 67.0h0M115.4 55.3h0M123.8 68.0h0M129.2 74.2h0M131.5 55.5h0M175.2 56.5h0M158.3 59.4h0M156.5 59.5h0M177.0 55.9h0M183.2 56.2h0M187.9 62.5h0M177.1 56.0h0M176.7 58.9h0M198.6 56.7h0M194.0 64.5h0M187.9 62.8h0M161.5 64.3h0M176.1 64.1h0M196.9 57.0h0M190.6 63.9h0M155.2 58.7h0M189.1 56.9h0M195.9 58.0h0M192.0 56.8h0M176.6 63.8h0M162.2 57.9h0M176.8 58.4h0M153.8 57.1h0M159.9 63.9h0M185.3 63.6h0M160.3 62.6h0M157.6 60.3h0M183.2 58.7h0M194.8 60.5h0M180.4 63.4h0M157.1 64.4h0M182.9 59.0h0M191.1 57.9h0M200.5 60.7h0M169.7 62.4h0M173.7 57.1h0M188.4 55.9h0M192.2 57.8h0M183.3 64.4h0M180.7 61.5h0M167.3 55.5h0M153.7 56.8h0M182.2 59.4h0M177.1 63.6h0M158.5 57.5h0M184.0 55.7h0M152.1 58.7h0M157.2 58.7h0M163.0 60.8h0M180.9 57.3h0M182.6 59.8h0M158.6 63.9h0M163.9 56.8h0M156.7 61.2h0M194.7 62.5h0M171.7 57.9h0M152.6 61.3h0M179.6 58.7h0M183.6 59.5h0M197.9 62.1h0M164.2 63.6h0M154.2 60.3h0M171.9 57.6h0M154.9 62.5h0M152.6 60.5h0M198.1 56.8h0M161.8 61.0h0M176.8 61.3h0M191.9 57.1h0M167.2 58.2h0M154.4 63.5h0M190.4 61.9h0M152.3 63.1h0M188.5 59.7h0M188.3 59.6h0M163.1 56.4h0M163.4 55.8h0M168.4 62.2h0M186.1 63.1h0M186.9 57.9h0M179.1 59.4h0M190.6 60.2h0M165.0 61.3h0M199.3 57.5h0M195.1 55.6h0M164.8 57.6h0M188.5 64.0h0M188.6 58.4h0M195.1 58.5h0M163.7 63.7h0M182.9 61.7h0M184.6 64.3h0M175.0 63.1h0M186.2 63.2h0M173.4 62.0h0M179.9 58.3h0M162.4 61.1h0M155.8 63.7h0M159.1 55.7h0M157.2 63.9h0M168.9 56.8h0M153.4 55.9h0M185.9 61.2h0M186.2 62.1h0M155.2 60.8h0M169.8 62.9h0M192.2 63.5h0M155.2 63.3h0M196.8 64.0h0M157.2 57.4h0M157.5 54.9h0M193.5 56.7h0M183.1 56.8h0M182.9 55.5h0M156.9 55.0h0M189.1 55.3h0M167.6 55.8h0M153.0 55.4h0M165.8 56.5h0M170.0 55.6h0M199.2 56.0h0M193.7 56.3h0M153.5 55.8h0M173.4 56.7h0M169.0 56.5h0M178.4 55.3h0M194.2 55.0h0M192.2 55.2h0M152.1 55.3h0M189.3 57.1h0M152.2 56.0h0M176.1 56.7h0M161.0 56.0h0M169.0 56.8h0M164.8 57.1h0M30.5 148.7h0M31.9 148.7h0M35.1 151.5h0M44.3 150.0h0M60.1 141.5h0M61.4 143.0h0M70.0 140.5h0M71.7 140.5h0M80.5 144.5h0M96.2 148.5h0M105.4 147.0h0M106.0 145.0h0M119.9 148.0h0M170.0 143.9h0M169.6 142.1h0M190.8 146.3h0M175.7 143.1h0M159.1 141.9h0M157.0 144.1h0M180.0 140.2h0M197.8 142.1h0M193.8 146.2h0M199.8 141.1h0M171.8 146.8h0M150.0 139.9h0M179.1 143.5h0M197.8 145.7h0M177.7 147.5h0M176.6 143.6h0M185.4 142.6h0M168.2 144.3h0M167.9 147.1h0M185.0 143.7h0M154.6 142.5h0M170.5 144.0h0M179.6 146.5h0M200.1 143.4h0M172.6 144.5h0M201.8 142.2h0M177.3 146.0h0M158.4 142.0h0M200.9 146.1h0M176.4 140.4h0M196.5 145.0h0M192.6 147.4h0M196.1 142.9h0M157.6 141.8h0M176.3 143.5h0M159.3 141.0h0M182.5 144.3h0M168.0 147.4h0M182.9 139.8h0M171.0 145.8h0M165.5 145.0h0M149.6 141.9h0M193.7 144.2h0M184.5 141.1h0M175.6 143.9h0M163.4 144.7h0M177.4 147.5h0M179.6 142.8h0M155.8 140.8h0M189.3 140.4h0M154.7 140.9h0M176.9 146.1h0M181.6 146.0h0M152.7 139.6h0M189.9 142.1h0M187.0 142.3h0M158.3 141.6h0M154.6 146.7h0M180.0 142.3h0M173.1 142.6h0M152.3 146.6h0M180.0 147.2h0M172.5 144.5h0M162.5 139.9h0M198.4 146.3h0M166.0 146.7h0M192.3 141.9h0M181.1 147.2h0M175.5 147.1h0M162.2 142.6h0M187.2 141.3h0M165.7 146.5h0M174.9 145.8h0M162.2 140.9h0M168.3 141.0h0M200.5 141.8h0M178.9 140.4h0M177.5 142.6h0M170.6 140.0h0M155.9 146.1h0M168.3 147.2h0M159.9 147.4h0M162.3 146.2h0M184.5 147.7h0M158.1 149.5h0M154.8 147.3h0M193.4 146.6h0M173.1 150.2h0M191.9 146.8h0M168.4 149.6h0M169.6 150.8h0M160.8 150.8h0M176.3 147.1h0M173.5 146.7h0M186.7 147.3h0M195.0 140.2h0M168.4 139.3h0M180.4 139.3h0M193.6 139.0h0M175.7 140.1h0M163.5 140.7h0M169.2 140.4h0M178.4 139.5h0M169.5 138.9h0M158.9 140.9h0M166.1 140.4h0M155.4 140.2h0M168.1 140.0h0M164.8 138.9h0M165.6 139.3h0M156.3 140.6h0M164.1 139.7h0M195.4 140.7h0M30.5 220.2h0M32.5 220.2h0M35.1 221.5h0M45.0 219.5h0M60.1 218.0h0M61.4 220.0h0M69.3 218.8h0M71.3 218.8h0M80.5 220.2h0M105.4 223.0h0M106.0 233.0h0M119.9 222.5h0M189.3 217.4h0M185.2 219.5h0M176.8 218.3h0M168.9 219.2h0M169.4 216.2h0M160.0 221.4h0M152.4 217.7h0M187.2 218.6h0M166.4 218.3h0M193.3 216.9h0M182.9 224.2h0M160.0 220.0h0M191.1 221.9h0M168.9 216.4h0M172.7 219.5h0M186.9 218.8h0M170.9 222.2h0M192.0 219.3h0M169.7 221.5h0M198.0 217.8h0M200.5 222.8h0M169.0 222.3h0M166.7 216.7h0M189.2 219.6h0M177.1 220.7h0M196.8 223.2h0M150.7 221.6h0M173.7 220.4h0M193.6 219.9h0M174.3 224.5h0M172.5 220.7h0M176.3 223.8h0M184.7 223.0h0M170.5 216.4h0M185.2 221.3h0M189.9 223.3h0M155.6 218.1h0M153.5 223.8h0M154.7 216.8h0M189.0 221.4h0M152.3 222.5h0M186.8 220.6h0M152.3 222.6h0M171.4 221.5h0M201.9 223.8h0M195.3 217.4h0M167.0 220.9h0M149.7 225.4h0M163.8 218.5h0M165.9 218.4h0M194.6 221.3h0M176.3 220.0h0M152.1 218.9h0M195.0 223.6h0M194.5 218.4h0M160.0 216.5h0M177.6 219.6h0M173.8 220.6h0M180.1 219.5h0M191.6 217.9h0M197.8 221.3h0M152.1 219.0h0M177.4 219.9h0M179.1 219.1h0M163.8 223.6h0M164.7 222.8h0M191.6 221.6h0M173.3 224.9h0M172.8 224.3h0M152.4 220.1h0M183.0 216.5h0M194.8 216.7h0M180.8 217.7h0M197.9 221.3h0M191.5 220.7h0M184.8 222.4h0M164.9 218.0h0M193.5 217.4h0M197.7 218.0h0M154.7 216.9h0M190.7 225.0h0M171.2 222.3h0M162.9 224.6h0M185.5 217.5h0M152.4 222.6h0M151.6 223.9h0M164.8 218.2h0M180.0 219.0h0M178.9 217.5h0M197.4 219.1h0M193.7 217.4h0M191.4 225.3h0M170.0 216.3h0M169.4 222.1h0M161.1 221.2h0M154.7 216.9h0M186.4 216.8h0M183.9 216.0h0M191.4 216.0h0M196.2 218.3h0M197.0 217.1h0M164.5 216.6h0M187.5 217.0h0M196.5 215.9h0M174.2 217.9h0M179.9 217.1h0M154.4 216.1h0M163.6 218.0h0M192.3 216.3h0M196.2 215.8h0M179.9 218.2h0M335.0 64.5h0M337.5 64.5h0M339.8 64.5h0M319.5 81.4h0M345.1 77.5h0M377.3 83.3h0M363.5 78.0h0M387.8 78.0h0M317.4 72.5h0M317.8 73.6h0M314.3 71.5h0M314.7 73.0h0M315.6 71.5h0M329.7 68.3h0M327.8 66.3h0M330.0 67.6h0M325.8 67.1h0M328.6 68.6h0M327.9 67.9h0M325.9 79.3h0M327.8 80.0h0M325.7 81.1h0M325.7 79.1h0M326.6 81.1h0M428.3 80.3h0M421.4 75.5h0M431.4 75.4h0M422.5 78.0h0M429.6 80.4h0M414.4 79.9h0M430.2 78.5h0M411.0 81.8h0M427.0 75.5h0M414.4 82.4h0M414.0 77.9h0M433.6 81.2h0M428.2 80.6h0M407.3 75.7h0M440.2 81.0h0M407.3 75.4h0M414.4 82.0h0M413.7 80.0h0M438.6 79.8h0M438.2 77.0h0M411.4 75.1h0M432.5 75.8h0M440.1 80.3h0M412.5 81.1h0M411.7 78.8h0M409.7 80.9h0M437.1 81.9h0M406.1 81.4h0M425.5 81.2h0M423.6 79.6h0M426.8 81.0h0M408.7 75.4h0M425.1 77.2h0M419.9 75.1h0M432.1 75.2h0M435.0 81.1h0M422.0 75.9h0M428.8 76.6h0M421.0 75.8h0M440.2 79.1h0M313.6 134.7h0M316.0 134.7h0M318.8 134.7h0M318.8 138.5h0M330.6 142.0h0M340.5 139.6h0M345.0 142.6h0M347.7 142.6h0M348.4 147.0h0M364.1 142.8h0M358.9 148.5h0M361.5 148.5h0M398.3 154.0h0M321.2 145.2h0M321.9 143.3h0M321.2 143.4h0M326.1 144.9h0M327.4 145.6h0M324.8 145.6h0M321.4 145.6h0M323.9 143.2h0M385.1 143.3h0M377.5 140.4h0M387.7 142.9h0M381.9 143.8h0M370.2 140.2h0M372.0 140.1h0M384.3 142.5h0M371.8 140.6h0M373.2 142.4h0M383.5 143.8h0M377.0 143.8h0M378.5 141.5h0M374.7 140.9h0M389.9 143.9h0M384.2 140.7h0M401.0 144.5h0M404.3 146.8h0M398.7 146.0h0M410.6 144.0h0M406.0 147.0h0M408.6 145.7h0M414.4 146.2h0M404.0 145.4h0M415.6 147.3h0M415.1 146.1h0M400.3 144.6h0M404.9 146.6h0M397.7 147.0h0M412.6 145.9h0M397.7 147.0h0M405.5 146.5h0M408.5 146.7h0M405.4 147.6h0M415.9 147.5h0M409.4 145.1h0M404.8 144.9h0M414.9 147.0h0M435.9 149.1h0M440.1 148.2h0M426.0 148.7h0M424.8 147.6h0M422.6 149.4h0M429.6 145.2h0M438.7 143.8h0M438.8 148.7h0M422.4 148.7h0M431.3 149.7h0M431.6 146.3h0M438.9 143.8h0M435.6 143.9h0M425.1 144.0h0M437.6 146.4h0M434.6 145.0h0M434.6 147.9h0M421.3 146.8h0M434.5 144.7h0M433.0 145.2h0M427.1 149.8h0M439.1 150.4h0M428.3 147.3h0M436.3 148.7h0M318.9 223.5h0M321.0 224.1h0M328.4 227.0h0M327.8 227.4h0M322.7 226.5h0M320.8 227.1h0M327.1 226.2h0M320.2 223.2h0M328.4 225.3h0M338.5 217.6h0M342.5 220.0h0M345.0 211.0h0M369.0 217.6h0M371.5 217.6h0M378.1 215.0h0M355.8 222.0h0M359.7 222.0h0M406.2 219.7h0M397.2 219.3h0M403.4 219.5h0M403.2 218.0h0M412.8 218.2h0M408.7 219.7h0M399.2 219.3h0M402.1 218.1h0M398.6 220.0h0M401.5 218.8h0M404.1 217.6h0M408.9 219.4h0M411.2 218.4h0M398.5 218.4h0M434.7 221.5h0M427.0 220.5h0M421.1 223.4h0M428.6 220.4h0M436.0 218.1h0M434.5 219.2h0M436.6 217.3h0M424.0 221.3h0M428.8 219.4h0M431.1 218.2h0M427.8 216.6h0M436.3 218.5h0M437.0 220.7h0M431.6 221.2h0M420.4 222.4h0M424.4 223.0h0M436.0 221.6h0M436.7 219.8h0M433.3 223.7h0M421.9 217.3h0M427.2 220.4h0M421.0 218.2h0M518.8 72.7h0M518.5 70.8h0M521.1 68.6h0M521.8 72.4h0M520.2 68.5h0M523.5 71.0h0M522.4 68.5h0M525.5 68.2h0M519.6 68.9h0M522.5 70.1h0M523.8 66.5h0M524.5 65.5h0M522.8 66.9h0M530.6 61.0h0M547.0 66.0h0M556.9 60.3h0M560.2 61.0h0M563.4 60.3h0M559.5 65.0h0M559.5 80.0h0M590.4 76.0h0M608.8 72.8h0M537.4 60.1h0M538.8 60.4h0M545.9 59.9h0M540.5 60.7h0M544.8 59.8h0M544.8 60.7h0M541.7 59.9h0M544.5 60.1h0M572.7 59.3h0M575.5 59.3h0M575.3 59.8h0M577.1 59.6h0M579.7 59.2h0M574.8 60.2h0M592.4 66.9h0M591.9 63.6h0M592.0 63.9h0M588.9 61.2h0M588.8 66.5h0M610.3 60.0h0M614.8 56.8h0M618.3 64.1h0M620.2 65.0h0M610.2 57.2h0M619.5 63.0h0M611.3 59.3h0M606.7 64.4h0M613.2 64.2h0M610.6 59.1h0M614.3 63.5h0M622.0 59.4h0M618.1 59.9h0M621.6 63.7h0M615.2 59.5h0M609.2 65.0h0M620.3 58.9h0M605.3 57.7h0M623.7 56.1h0M620.5 61.3h0M615.1 61.4h0M612.1 61.6h0M605.4 65.4h0M605.7 57.2h0M617.6 62.4h0M634.1 79.5h0M635.6 77.0h0M624.6 77.7h0M633.8 77.4h0M630.8 79.8h0M626.4 78.9h0M635.2 79.7h0M629.2 78.7h0M627.8 80.5h0M633.8 79.5h0M640.6 68.8h0M641.5 69.2h0M640.9 69.6h0M642.6 67.3h0M641.9 69.2h0M529.3 125.5h0M528.0 132.2h0M530.0 133.0h0M566.0 132.7h0M554.2 144.0h0M581.8 144.6h0M635.0 125.5h0M542.8 138.3h0M547.4 137.6h0M540.1 138.3h0M532.8 138.2h0M546.4 138.3h0M540.9 138.0h0M544.7 138.3h0M534.3 138.0h0M539.1 138.1h0M547.9 137.1h0M546.1 137.7h0M554.6 137.7h0M550.3 138.4h0M538.5 138.2h0M532.5 139.0h0M538.3 137.4h0M534.7 138.8h0M549.8 137.8h0M543.0 138.2h0M555.7 139.0h0M550.8 137.6h0M558.4 139.0h0M535.6 137.7h0M547.1 137.7h0M547.1 138.6h0M532.7 137.6h0M558.5 139.0h0M539.8 138.9h0M546.1 138.6h0M534.9 138.7h0M545.0 137.1h0M557.4 139.0h0M547.8 138.8h0M535.7 138.7h0M545.8 138.2h0M532.0 139.0h0M544.4 137.3h0M536.0 137.1h0M556.1 138.2h0M554.4 138.9h0M558.5 138.4h0M532.2 139.0h0M532.0 139.0h0M537.9 138.8h0M538.2 137.0h0M548.2 137.0h0M556.1 138.4h0M558.3 137.2h0M543.5 137.6h0M551.7 137.4h0M535.9 137.7h0M553.7 138.7h0M566.2 136.9h0M563.9 136.8h0M566.4 137.5h0M563.9 136.6h0M593.0 136.9h0M581.8 137.4h0M584.1 138.0h0M583.9 137.8h0M601.3 137.3h0M594.7 138.1h0M590.9 138.0h0M606.4 137.9h0M606.5 136.6h0M606.9 136.7h0M593.2 138.5h0M595.6 137.8h0M606.9 138.5h0M583.6 138.5h0M586.2 136.9h0M602.0 138.4h0M594.5 137.7h0M581.8 137.9h0M590.3 138.0h0M580.3 138.2h0M589.0 138.5h0M597.7 136.6h0M591.3 136.5h0M606.1 138.5h0M587.5 136.7h0M580.9 137.2h0M607.0 138.1h0M599.1 136.5h0M595.6 136.9h0M580.2 136.6h0M581.4 138.3h0M589.3 136.5h0M600.9 136.5h0M587.2 136.5h0M602.9 138.5h0M582.0 137.2h0M605.7 138.3h0M598.9 137.2h0M584.5 136.5h0M606.4 136.5h0M580.8 137.9h0M582.3 136.5h0M592.8 137.8h0M594.1 138.3h0M594.4 136.8h0M593.1 137.2h0M591.8 138.3h0M591.2 137.7h0M580.8 136.5h0M614.7 139.6h0M612.2 139.7h0M613.2 139.4h0M612.8 139.4h0M611.0 139.8h0M611.6 139.8h0M614.9 139.8h0M614.4 139.5h0M611.5 139.5h0M616.8 139.8h0M612.8 139.7h0M616.6 139.4h0M616.1 139.6h0M618.3 139.7h0M616.9 139.8h0M617.9 139.4h0M635.0 145.0h0M627.9 144.0h0M638.5 143.2h0M637.4 144.6h0M630.0 142.5h0M636.4 143.3h0M630.4 143.5h0M635.4 144.9h0M637.9 144.5h0M628.1 143.2h0M625.9 142.6h0M630.3 142.6h0M559.4 220.2h0M546.0 220.1h0M556.6 221.4h0M540.3 221.6h0M541.9 221.1h0M542.0 222.3h0M565.0 221.6h0M542.2 219.4h0M544.3 220.7h0M528.0 220.4h0M564.5 217.9h0M563.0 220.6h0M567.3 221.4h0M555.9 221.5h0M543.8 218.2h0M561.5 222.2h0M556.0 218.7h0M547.0 220.3h0M541.5 220.1h0M545.3 222.7h0M552.2 222.7h0M563.7 218.5h0M558.1 219.6h0M551.0 220.5h0M556.8 219.2h0M554.3 219.5h0M558.5 220.2h0M552.8 222.8h0M538.0 217.6h0M563.1 220.3h0M553.0 221.9h0M562.9 219.6h0M566.9 219.6h0M556.3 221.9h0M541.4 219.8h0M541.6 219.4h0M543.4 222.0h0M529.1 222.7h0M558.9 220.5h0M552.8 219.2h0M557.8 222.1h0M542.2 220.2h0M535.5 218.9h0M561.4 220.9h0M544.8 220.9h0M534.2 217.6h0M541.2 220.6h0M534.1 220.4h0M539.9 219.0h0M556.8 219.5h0M616.9 221.3h0M598.3 217.8h0M622.0 220.3h0M608.7 221.0h0M607.1 222.0h0M579.6 222.3h0M610.5 219.6h0M625.3 222.0h0M609.5 217.6h0M610.9 219.6h0M608.4 221.7h0M585.9 221.7h0M595.0 218.8h0M581.1 218.1h0M592.8 220.2h0M626.9 218.4h0M593.9 219.4h0M611.7 219.3h0M613.2 218.3h0M581.4 220.4h0M616.0 218.3h0M581.6 220.9h0M582.5 222.1h0M614.3 218.4h0M600.0 217.9h0M583.7 219.3h0M623.8 222.1h0M617.5 220.7h0M608.9 220.1h0M612.5 220.0h0M599.4 221.7h0M594.5 219.6h0M613.7 222.3h0M596.7 219.7h0M599.6 218.6h0M597.2 221.5h0M588.7 219.9h0M593.6 220.4h0M618.5 218.2h0M603.9 218.5h0M612.0 220.9h0M590.4 218.7h0M594.6 219.2h0M624.5 221.9h0M619.4 219.5h0M645.4 221.0h0M643.8 223.4h0M641.6 223.6h0M640.1 225.5h0M638.6 226.1h0M636.6 227.6h0M635.7 228.9h0M634.4 229.9h0M632.0 230.3h0M57.6 364.8h0M61.6 364.0h0M63.1 363.0h0M58.5 364.7h0M57.8 365.1h0M61.5 365.3h0M69.3 364.5h0M71.5 364.5h0M72.6 364.5h0M87.7 364.0h0M95.6 363.5h0M57.5 371.0h0M65.4 374.0h0M87.7 374.5h0M100.2 374.0h0M108.1 373.5h0M111.3 367.5h0M74.6 383.5h0M80.5 383.0h0M87.0 383.5h0M72.6 389.5h0M96.2 389.5h0M100.8 390.5h0M111.3 381.0h0M117.3 371.1h0M119.0 371.1h0M120.5 371.1h0M117.3 377.0h0M112.7 380.5h0M53.6 462.2h0M58.4 462.7h0M52.6 463.8h0M60.6 462.2h0M52.7 462.9h0M66.9 463.3h0M65.8 463.7h0M62.7 461.6h0M88.5 460.9h0M89.1 459.2h0M86.8 462.2h0M90.8 459.6h0M89.5 462.2h0M97.8 462.6h0M98.8 463.6h0M105.2 463.8h0M100.5 462.1h0M99.8 461.5h0M106.9 463.9h0M107.3 463.7h0M101.7 462.7h0M100.0 461.0h0M104.0 461.5h0M113.8 460.5h0M116.4 467.4h0M118.0 467.4h0M119.7 467.4h0M58.5 535.4h0M58.7 535.6h0M56.6 535.7h0M56.7 536.9h0M58.9 536.0h0M85.3 537.0h0M89.8 537.2h0M88.3 537.8h0M88.4 538.3h0M96.8 532.0h0M96.2 530.9h0M94.1 532.0h0M104.3 538.0h0M106.3 536.7h0M100.0 537.5h0M99.4 537.1h0M101.1 536.8h0M105.1 537.4h0M113.8 528.5h0M105.5 534.0h0M107.0 537.0h0M115.8 543.0h0M117.5 543.0h0M119.7 543.0h0M268.2 376.3h0M270.9 380.0h0M276.8 378.0h0M280.7 377.0h0M284.0 378.0h0M288.6 378.5h0M293.8 377.5h0M329.3 373.5h0M306.3 391.8h0M325.4 386.5h0M353.6 389.8h0M356.3 392.5h0M367.4 393.0h0M372.0 389.8h0M395.7 383.5h0M412.0 386.0h0M430.5 383.5h0M407.5 369.5h0M296.6 374.7h0M315.5 379.0h0M314.5 376.2h0M307.3 374.2h0M302.9 380.6h0M312.0 375.9h0M310.6 376.6h0M304.2 376.0h0M307.8 379.8h0M319.9 375.0h0M308.5 374.5h0M321.6 373.8h0M309.2 372.8h0M308.6 376.3h0M296.9 373.9h0M309.6 376.4h0M304.5 373.1h0M305.0 375.4h0M299.2 377.4h0M302.3 376.9h0M315.2 372.8h0M309.6 377.7h0M320.0 378.2h0M318.5 377.9h0M302.4 379.1h0M316.4 376.5h0M320.8 373.1h0M320.4 375.5h0M310.8 379.0h0M300.9 376.6h0M296.9 373.0h0M321.6 374.4h0M307.7 373.7h0M321.0 376.7h0M319.0 374.8h0M308.7 374.7h0M312.0 378.3h0M311.6 377.3h0M304.7 380.2h0M297.0 374.0h0M313.1 373.2h0M314.1 371.9h0M314.6 372.3h0M312.6 372.6h0M337.0 381.6h0M343.0 380.1h0M342.8 380.1h0M338.4 379.6h0M337.5 380.0h0M345.0 381.0h0M332.2 381.8h0M326.4 381.2h0M337.7 379.2h0M333.7 379.5h0M345.1 379.5h0M337.4 380.7h0M326.6 381.7h0M336.1 380.9h0M329.6 379.6h0M330.9 379.3h0M328.2 380.5h0M332.2 381.3h0M327.0 379.8h0M335.0 381.1h0M341.5 386.6h0M340.5 387.3h0M341.8 389.0h0M341.1 387.2h0M343.7 386.6h0M361.3 354.9h0M371.1 353.2h0M364.0 353.5h0M363.2 354.4h0M375.3 365.1h0M367.0 366.1h0M376.2 361.0h0M371.6 360.9h0M377.1 365.8h0M367.2 365.4h0M365.2 360.0h0M369.0 360.1h0M368.0 366.2h0M370.1 361.6h0M363.8 363.9h0M368.9 366.6h0M363.1 363.2h0M367.9 362.5h0M390.1 365.7h0M404.6 365.3h0M395.6 366.1h0M420.9 366.0h0M396.6 364.9h0M403.6 365.6h0M387.2 365.9h0M407.6 365.6h0M412.5 366.3h0M385.1 364.9h0M403.9 366.3h0M405.2 365.4h0M396.5 366.5h0M398.7 366.1h0M391.8 366.3h0M402.1 364.8h0M413.3 366.7h0M422.8 367.1h0M411.2 365.9h0M393.3 366.5h0M399.6 365.6h0M387.3 366.3h0M411.5 366.6h0M388.7 365.3h0M371.5 370.5h0M373.2 373.7h0M371.4 371.0h0M403.9 376.4h0M393.6 375.8h0M405.7 377.3h0M414.0 375.9h0M403.1 377.2h0M405.8 376.0h0M392.0 372.6h0M403.7 373.3h0M423.2 373.3h0M419.7 373.9h0M386.4 375.3h0M392.5 377.8h0M406.5 372.6h0M392.0 372.6h0M400.6 375.1h0M392.2 375.9h0M398.3 376.8h0M409.4 373.5h0M416.6 372.2h0M388.4 372.2h0M422.3 375.1h0M417.1 377.7h0M381.6 377.2h0M378.3 376.1h0M414.8 374.2h0M419.4 376.4h0M400.8 373.6h0M384.8 372.4h0M402.9 375.0h0M386.2 375.1h0M381.1 373.8h0M408.9 372.9h0M402.0 372.8h0M419.0 373.2h0M421.4 377.3h0M422.9 373.6h0M409.5 372.4h0M423.3 376.0h0M379.0 372.8h0M382.3 374.0h0M421.6 376.6h0M392.7 376.7h0M377.8 375.2h0M395.7 372.4h0M420.8 375.8h0M424.4 375.7h0M406.7 372.7h0M399.8 377.2h0M403.7 375.7h0M399.0 374.1h0M377.9 373.3h0M386.1 372.5h0M379.9 376.4h0M424.4 376.0h0M416.6 373.2h0M417.5 374.2h0M417.7 373.4h0M391.4 375.1h0M387.9 373.5h0M411.7 376.6h0M423.8 375.8h0M393.9 374.7h0M405.0 375.4h0M420.7 375.3h0M422.8 374.8h0M398.4 372.2h0M392.6 374.8h0M377.8 374.5h0M382.8 373.6h0M419.1 377.3h0M382.7 375.4h0M400.3 372.3h0M391.4 375.1h0M397.4 375.3h0M380.4 375.6h0M296.5 448.3h0M297.2 445.0h0M298.1 447.9h0M301.4 448.6h0M313.6 442.0h0M316.0 442.0h0M279.0 458.2h0M281.0 458.2h0M268.9 449.5h0M340.5 454.0h0M345.0 452.5h0M347.5 452.5h0M350.3 452.5h0M357.6 449.6h0M359.5 449.6h0M361.5 449.6h0M393.0 446.0h0M395.0 448.0h0M396.3 449.6h0M439.7 452.5h0M439.7 466.5h0M406.8 465.0h0M335.5 449.9h0M333.3 448.7h0M331.5 449.7h0M330.0 450.5h0M329.3 451.1h0M328.0 454.0h0M326.6 453.9h0M327.0 453.4h0M325.5 455.6h0M322.4 457.3h0M323.2 456.0h0M322.4 458.1h0M320.4 457.9h0M317.6 460.0h0M276.3 540.7h0M275.5 540.9h0M276.6 540.8h0M297.6 540.7h0M298.0 542.2h0M300.1 538.5h0M297.6 541.1h0M300.8 540.7h0M299.9 542.4h0M268.2 531.0h0M360.4 530.5h0M407.0 532.5h0M345.0 541.0h0M347.0 541.0h0M318.1 538.5h0M318.1 539.1h0M323.9 540.3h0M328.5 538.1h0M316.7 539.0h0M328.5 539.3h0M324.9 540.5h0M320.8 539.0h0M325.8 539.8h0M329.2 538.7h0M328.6 539.4h0M327.2 539.9h0M395.5 542.1h0M393.0 541.5h0M395.1 542.0h0M580.5 371.4h0M581.2 373.5h0M582.0 375.5h0M582.5 378.0h0M583.1 380.6h0M592.3 370.0h0M592.9 370.5h0M600.7 372.4h0M654.0 373.6h0M652.0 379.5h0M620.4 387.8h0M666.8 381.6h0M659.5 381.5h0M665.8 382.4h0M665.5 382.5h0M658.8 382.6h0M658.0 382.2h0M662.4 382.8h0M657.7 382.7h0M603.8 392.0h0M599.7 391.8h0M599.7 392.0h0M606.1 391.4h0M602.8 392.0h0M581.0 465.2h0M628.3 447.6h0M630.3 452.5h0M617.2 452.5h0M621.1 454.3h0M600.7 461.5h0M646.6 452.5h0M644.4 452.7h0M644.2 452.3h0M644.6 453.0h0M639.7 452.6h0M641.2 453.3h0M637.1 452.4h0M654.6 452.9h0M641.2 453.0h0M646.1 452.0h0M581.8 542.5h0M626.4 542.5h0M649.8 543.6h0"/><path fill="none" stroke="#449c4e" stroke-width="3.0" stroke-linecap="round" d="M29.9 42.3h0M31.9 42.0h0M47.6 38.4h0M54.8 44.4h0M90.3 43.4h0M149.0 48.0h0M151.2 48.0h0M57.5 56.4h0M58.5 58.0h0M60.0 59.5h0M62.0 60.0h0M64.0 61.0h0M35.1 70.0h0M61.4 70.4h0M97.6 60.0h0M100.0 59.0h0M140.3 68.0h0M146.9 68.0h0M120.0 75.7h0M107.0 76.5h0M152.3 56.4h0M153.5 59.0h0M171.5 60.3h0M47.6 130.8h0M54.8 127.0h0M57.5 126.5h0M56.8 132.5h0M58.0 133.5h0M61.4 130.0h0M62.7 131.0h0M64.0 129.5h0M65.4 130.0h0M66.7 129.0h0M65.4 136.7h0M90.3 132.0h0M105.8 131.0h0M139.6 125.8h0M144.8 134.0h0M146.2 135.5h0M150.1 131.5h0M148.1 134.0h0M58.1 129.0h0M58.5 130.6h0M66.2 133.5h0M65.5 129.0h0M64.9 132.5h0M63.2 133.9h0M56.2 129.6h0M64.5 133.7h0M63.6 130.4h0M62.5 132.7h0M47.6 210.5h0M55.5 207.5h0M56.8 207.0h0M57.5 209.5h0M58.1 213.8h0M57.5 216.0h0M60.8 211.5h0M62.7 211.5h0M65.4 208.0h0M64.7 212.5h0M91.0 208.4h0M106.0 207.0h0M140.2 213.6h0M145.5 213.5h0M146.8 216.0h0M149.4 215.0h0M150.8 216.5h0M59.0 211.0h0M61.5 213.0h0M327.7 50.4h0M327.9 48.9h0M324.2 49.3h0M324.1 52.5h0M325.9 51.2h0M323.3 49.6h0M323.7 50.2h0M322.2 52.8h0M324.5 51.1h0M330.6 50.5h0M353.6 48.9h0M340.5 62.5h0M355.6 61.0h0M354.0 61.0h0M322.8 65.5h0M321.5 67.5h0M320.5 69.5h0M326.7 73.0h0M329.3 76.0h0M376.0 74.0h0M378.0 76.0h0M380.0 75.0h0M382.0 77.5h0M393.0 75.5h0M401.0 75.5h0M411.4 71.5h0M420.6 71.5h0M418.7 79.4h0M381.2 83.3h0M411.4 76.0h0M364.0 69.9h0M364.0 68.4h0M379.5 69.8h0M397.1 70.0h0M396.1 70.5h0M386.5 69.9h0M358.3 68.3h0M356.2 70.4h0M386.4 69.6h0M366.9 68.7h0M362.6 69.6h0M397.9 68.6h0M357.5 68.2h0M370.8 70.5h0M390.0 69.1h0M360.0 67.9h0M362.2 70.1h0M375.7 70.8h0M394.5 70.1h0M375.9 70.2h0M361.1 67.9h0M379.7 69.2h0M364.5 68.4h0M356.5 70.5h0M385.9 70.6h0M397.5 69.0h0M372.6 66.6h0M391.5 71.5h0M397.4 66.7h0M373.4 68.0h0M393.1 67.0h0M385.3 72.4h0M393.4 66.0h0M358.7 66.7h0M389.6 69.9h0M381.0 69.0h0M375.4 70.0h0M387.4 72.0h0M391.6 71.2h0M400.6 71.4h0M390.8 66.2h0M389.0 71.5h0M376.5 71.7h0M364.0 72.1h0M377.1 70.6h0M367.6 68.0h0M372.4 68.1h0M359.7 68.9h0M419.4 75.3h0M419.9 73.2h0M402.6 75.0h0M407.8 73.8h0M409.2 73.2h0M424.1 71.0h0M413.3 73.9h0M413.5 75.6h0M410.2 75.5h0M417.2 75.8h0M333.3 132.0h0M349.7 138.5h0M353.0 134.5h0M360.9 137.2h0M384.5 139.0h0M387.8 139.0h0M399.6 141.0h0M402.2 141.0h0M411.4 139.6h0M411.4 142.0h0M420.0 139.6h0M424.0 142.0h0M392.4 143.0h0M391.7 138.6h0M393.5 137.6h0M395.0 137.0h0M396.6 136.0h0M398.3 135.3h0M342.1 130.9h0M339.5 130.4h0M340.1 132.2h0M341.1 133.7h0M338.0 130.7h0M341.7 132.9h0M340.3 132.3h0M353.2 140.5h0M354.6 139.4h0M352.2 138.8h0M356.9 140.2h0M351.2 139.2h0M354.2 139.6h0M318.8 213.0h0M321.4 213.0h0M324.0 214.0h0M326.0 214.0h0M328.0 214.0h0M350.3 207.0h0M340.7 200.0h0M358.4 203.0h0M350.5 207.0h0M374.2 209.0h0M395.2 202.0h0M397.8 206.0h0M401.8 209.0h0M404.0 210.0h0M406.0 210.5h0M408.3 211.0h0M417.5 210.5h0M421.5 210.5h0M401.3 209.5h0M408.2 209.5h0M338.3 200.4h0M338.4 200.1h0M338.3 200.8h0M335.1 200.2h0M340.4 201.0h0M361.1 211.5h0M365.2 211.7h0M364.1 210.9h0M363.0 211.6h0M389.3 210.5h0M387.8 211.3h0M388.0 210.2h0M384.4 210.7h0M387.0 210.7h0M379.0 211.3h0M381.7 211.5h0M382.0 211.1h0M390.6 210.4h0M389.3 210.3h0M392.8 210.2h0M389.2 210.8h0M379.9 210.8h0M348.6 215.8h0M344.1 216.4h0M346.2 218.7h0M347.2 215.9h0M345.3 218.7h0M346.4 217.0h0M352.5 215.7h0M351.6 215.1h0M343.9 213.8h0M347.9 218.2h0M535.2 42.0h0M532.6 46.0h0M534.0 46.5h0M535.8 47.2h0M527.3 52.4h0M528.6 52.4h0M534.5 54.4h0M535.8 58.4h0M535.0 56.5h0M541.8 53.8h0M554.2 58.5h0M563.4 55.5h0M566.7 52.8h0M570.7 55.0h0M574.6 56.6h0M581.8 55.3h0M583.1 58.5h0M587.1 53.8h0M589.7 56.5h0M614.0 42.8h0M618.0 42.5h0M593.5 47.0h0M594.5 50.0h0M600.2 51.0h0M595.0 54.4h0M608.1 53.8h0M615.3 57.5h0M594.0 64.3h0M612.7 66.5h0M627.2 61.0h0M632.4 60.3h0M634.5 61.3h0M636.4 62.3h0M631.0 67.6h0M633.0 70.0h0M635.0 72.8h0M523.4 62.3h0M523.7 61.0h0M525.5 59.3h0M526.6 57.7h0M526.9 57.2h0M528.4 55.5h0M531.9 128.6h0M546.4 128.0h0M549.0 131.4h0M551.0 132.0h0M553.0 132.7h0M598.3 129.4h0M600.5 129.8h0M603.0 130.2h0M606.1 130.7h0M605.5 133.5h0M627.2 128.4h0M632.4 128.4h0M635.0 128.4h0M637.0 128.4h0M623.9 132.4h0M620.6 138.6h0M622.5 138.6h0M624.5 138.6h0M539.2 127.2h0M540.8 128.1h0M537.3 129.0h0M538.0 126.9h0M542.3 129.2h0M542.7 127.7h0M537.4 129.0h0M536.4 129.9h0M540.8 128.6h0M535.6 127.7h0M559.7 134.6h0M557.0 133.1h0M556.4 134.6h0M562.9 133.9h0M562.9 131.4h0M558.0 130.9h0M561.0 131.0h0M557.4 131.4h0M578.6 135.2h0M578.9 135.0h0M580.0 133.2h0M581.6 133.9h0M582.5 133.4h0M584.5 133.0h0M585.5 131.3h0M586.4 131.9h0M588.4 131.6h0M589.2 130.3h0M612.1 135.0h0M619.8 133.6h0M620.2 133.4h0M616.1 133.8h0M620.8 134.7h0M619.5 133.7h0M609.5 134.6h0M619.7 133.3h0M622.0 135.1h0M614.5 134.3h0M619.0 135.2h0M619.0 134.3h0M547.1 223.9h0M556.5 225.2h0M544.2 224.5h0M532.7 224.9h0M551.9 224.0h0M533.3 225.2h0M543.6 225.4h0M542.0 225.8h0M554.7 224.4h0M545.4 225.0h0M543.0 225.4h0M550.1 225.4h0M537.6 224.8h0M545.6 225.0h0M531.0 225.4h0M543.0 224.1h0M554.2 224.9h0M551.0 225.3h0M586.2 224.5h0M579.8 222.6h0M581.0 223.6h0M581.7 221.6h0M580.7 222.1h0M585.3 223.0h0M584.4 221.5h0M585.1 222.3h0M597.8 223.5h0M598.4 223.9h0M598.5 224.0h0M598.5 224.3h0M604.9 223.8h0M597.6 224.6h0M597.8 224.2h0M622.1 219.5h0M624.3 218.2h0M621.5 221.1h0M624.4 220.9h0M617.0 219.6h0M623.6 219.1h0M614.1 217.7h0M613.3 218.1h0M624.9 218.8h0M615.6 221.4h0M621.1 219.3h0M611.7 219.0h0M614.7 221.3h0M616.7 221.4h0M632.4 230.0h0M634.0 230.5h0M636.4 230.0h0M98.9 360.5h0M109.4 358.0h0M88.4 371.0h0M114.0 373.6h0M59.7 453.7h0M63.4 453.2h0M59.7 454.0h0M61.6 453.5h0M67.6 455.2h0M69.4 456.2h0M67.4 456.0h0M76.9 455.1h0M70.3 455.8h0M74.3 456.4h0M75.2 455.9h0M70.9 456.2h0M72.4 456.8h0M73.3 456.2h0M75.0 456.0h0M72.9 456.3h0M74.2 456.9h0M70.5 456.0h0M65.8 457.9h0M62.4 457.3h0M59.4 457.4h0M61.4 457.4h0M60.0 457.5h0M87.0 455.4h0M87.4 456.3h0M85.3 455.6h0M84.6 456.0h0M101.8 456.7h0M100.8 456.9h0M94.8 456.3h0M99.9 457.3h0M102.1 456.7h0M97.2 456.4h0M101.5 457.1h0M98.7 456.3h0M108.3 452.5h0M111.2 452.2h0M111.8 452.2h0M106.8 452.1h0M111.9 452.5h0M100.0 456.2h0M103.0 456.2h0M112.5 456.2h0M59.1 528.3h0M63.4 528.5h0M60.4 528.3h0M68.6 527.6h0M61.5 527.6h0M74.0 527.7h0M78.8 527.7h0M77.1 526.9h0M73.5 527.8h0M76.7 527.3h0M67.5 528.2h0M63.0 527.4h0M75.9 527.9h0M68.1 526.7h0M74.1 527.4h0M62.7 527.4h0M65.1 530.9h0M70.4 531.1h0M69.4 530.3h0M67.4 531.1h0M64.0 530.4h0M85.2 527.3h0M85.9 529.1h0M84.8 530.1h0M86.7 527.3h0M84.9 528.7h0M97.9 532.2h0M94.9 531.7h0M99.9 530.9h0M99.8 533.3h0M100.9 531.0h0M101.4 530.9h0M95.4 530.6h0M100.2 531.2h0M108.7 526.1h0M111.9 526.1h0M110.8 526.6h0M109.6 526.5h0M109.0 526.7h0M100.0 531.0h0M103.0 531.0h0M112.5 531.0h0M313.6 368.0h0M320.8 365.8h0M322.8 365.2h0M346.4 375.0h0M355.6 351.5h0M357.5 351.0h0M359.5 352.3h0M358.2 366.0h0M279.5 444.4h0M281.6 444.0h0M278.6 445.9h0M269.2 444.2h0M270.3 445.9h0M282.1 444.3h0M286.6 444.1h0M278.5 445.6h0M293.8 444.0h0M297.8 444.0h0M311.0 437.0h0M318.8 439.8h0M321.4 439.8h0M345.1 441.5h0M351.0 441.0h0M352.5 441.0h0M358.2 440.0h0M429.8 447.0h0M398.3 447.6h0M401.0 448.0h0M404.9 447.5h0M307.7 443.3h0M302.2 443.4h0M311.1 444.1h0M304.7 443.2h0M308.0 443.4h0M310.5 444.1h0M336.2 447.3h0M336.1 447.5h0M324.6 447.0h0M314.0 446.9h0M326.5 448.2h0M336.3 445.8h0M334.0 446.4h0M331.4 443.7h0M320.1 444.9h0M333.9 447.9h0M331.8 447.2h0M332.0 444.4h0M321.0 446.4h0M335.4 445.6h0M333.7 445.2h0M322.7 444.5h0M325.6 446.4h0M316.8 448.0h0M313.8 447.1h0M323.6 448.0h0M381.8 445.2h0M388.1 445.8h0M390.1 446.3h0M384.2 446.3h0M388.0 445.7h0M380.4 446.2h0M386.2 445.3h0M379.8 445.9h0M378.7 446.0h0M383.5 445.7h0M419.4 446.7h0M408.6 446.5h0M423.2 446.5h0M423.1 446.1h0M411.0 446.2h0M411.2 446.0h0M411.5 446.4h0M420.3 446.7h0M408.1 446.7h0M417.6 446.1h0M279.9 532.1h0M275.4 531.5h0M282.6 531.3h0M272.1 531.5h0M278.2 532.0h0M293.8 531.9h0M303.4 531.2h0M311.5 531.5h0M303.0 531.5h0M306.3 531.0h0M303.8 531.7h0M312.3 531.6h0M310.5 530.7h0M308.6 530.6h0M303.4 531.6h0M301.7 531.0h0M317.9 533.7h0M321.2 532.6h0M321.3 534.8h0M322.5 533.8h0M325.3 535.3h0M325.5 535.1h0M327.7 534.8h0M327.5 535.1h0M330.3 536.6h0M331.1 535.8h0M332.4 536.5h0M333.1 537.4h0M336.3 536.0h0M335.8 536.9h0M337.5 538.1h0M340.3 537.9h0M341.8 537.6h0M341.7 538.2h0M343.6 538.2h0M345.9 539.6h0M341.0 538.4h0M343.0 538.4h0M429.3 539.0h0M350.3 537.4h0M347.7 537.5h0M347.0 536.8h0M346.5 536.3h0M348.0 535.5h0M381.7 537.4h0M382.0 537.8h0M391.0 538.6h0M381.5 536.9h0M378.2 538.7h0M388.8 538.4h0M391.1 537.6h0M379.5 536.8h0M383.1 538.4h0M378.1 537.7h0M399.9 537.1h0M412.3 538.2h0M422.5 537.4h0M403.9 536.7h0M402.7 536.7h0M397.8 536.9h0M411.9 537.7h0M421.6 537.8h0M400.1 537.0h0M416.2 539.0h0M417.4 537.2h0M406.9 537.6h0M409.2 537.3h0M401.9 536.7h0M420.9 538.9h0M581.8 370.0h0M583.8 370.0h0M585.8 370.0h0M584.3 370.5h0M613.9 379.2h0M627.7 381.0h0M610.6 385.0h0M630.3 371.0h0M654.6 359.6h0M590.9 381.7h0M592.3 379.4h0M589.9 374.4h0M591.5 375.8h0M591.6 379.2h0M592.3 374.5h0M590.6 376.7h0M636.9 360.9h0M638.8 361.4h0M637.7 360.5h0M647.5 373.3h0M643.9 373.0h0M645.1 373.3h0M643.5 373.7h0M646.1 373.6h0M643.1 373.5h0M641.6 383.8h0M638.8 384.9h0M638.5 382.7h0M641.7 385.0h0M639.5 383.9h0M583.0 453.0h0M585.0 453.0h0M586.0 453.0h0M590.0 452.5h0M588.9 452.5h0M613.2 438.7h0M643.4 436.8h0M653.3 439.4h0M639.5 450.3h0M583.8 538.8h0M589.0 539.5h0M584.0 539.0h0M613.5 544.3h0M633.8 544.6h0M634.6 544.3h0M626.4 542.8h0M621.4 544.8h0M648.2 541.6h0M651.8 541.3h0M641.7 543.0h0M644.2 543.8h0M622.1 543.1h0"/><path fill="none" stroke="#eea63e" stroke-width="3.0" stroke-linecap="round" d="M56.4 42.0h0M56.8 44.5h0M65.4 47.0h0M90.3 47.5h0M105.4 47.5h0M101.5 43.4h0M106.0 43.4h0M111.5 43.4h0M115.4 43.4h0M121.5 43.4h0M127.0 43.4h0M131.5 43.4h0M140.0 43.4h0M146.0 43.8h0M147.6 49.5h0M84.0 43.0h0M59.4 58.5h0M63.2 61.1h0M61.1 57.8h0M69.4 55.9h0M63.6 60.5h0M67.8 55.9h0M59.2 56.1h0M69.7 57.2h0M67.6 61.0h0M62.8 57.3h0M70.1 59.3h0M61.9 59.9h0M62.5 57.3h0M58.8 60.2h0M69.6 59.4h0M69.9 55.8h0M61.6 58.5h0M70.1 61.3h0M63.4 57.2h0M63.9 58.6h0M69.8 56.8h0M68.3 60.1h0M67.3 70.0h0M74.0 67.0h0M80.5 67.5h0M106.0 64.0h0M113.0 64.0h0M140.7 65.6h0M143.8 63.0h0M146.0 55.5h0M121.5 73.0h0M59.8 117.5h0M61.3 115.5h0M63.5 116.0h0M61.1 115.7h0M65.4 114.4h0M65.8 116.2h0M59.2 123.5h0M61.0 123.5h0M67.3 123.1h0M60.2 118.7h0M59.8 123.5h0M67.1 120.5h0M63.2 117.7h0M66.9 119.0h0M65.0 115.7h0M61.0 114.9h0M66.7 127.5h0M82.5 119.5h0M90.3 118.5h0M87.0 122.5h0M90.3 122.5h0M102.2 119.5h0M101.5 127.5h0M111.4 117.0h0M111.4 122.5h0M112.0 117.3h0M115.3 117.3h0M121.9 117.3h0M127.1 117.3h0M131.0 117.3h0M119.2 122.6h0M135.0 123.5h0M138.3 132.0h0M145.5 138.2h0M147.5 132.5h0M141.9 123.6h0M141.3 125.5h0M141.9 126.2h0M142.0 127.4h0M143.4 128.9h0M142.7 130.6h0M143.2 132.6h0M63.7 199.2h0M64.9 197.1h0M63.2 196.7h0M63.9 196.3h0M61.5 198.8h0M64.7 197.4h0M65.5 196.9h0M62.6 196.1h0M63.6 196.9h0M66.6 197.7h0M59.4 201.8h0M68.0 203.5h0M66.7 211.5h0M82.4 209.4h0M86.4 211.8h0M90.3 210.5h0M89.7 213.5h0M101.5 209.4h0M101.5 214.4h0M111.3 208.5h0M118.6 204.5h0M121.9 208.3h0M127.1 209.2h0M131.4 210.5h0M135.7 211.0h0M119.2 212.0h0M112.0 208.5h0M114.0 208.5h0M138.3 205.0h0M140.0 207.0h0M142.0 206.0h0M143.0 209.0h0M144.5 210.5h0M146.0 211.5h0M147.5 211.5h0M147.0 215.0h0M339.8 44.4h0M345.1 45.5h0M349.7 42.0h0M352.3 44.6h0M353.0 47.0h0M338.5 44.0h0M343.0 45.5h0M347.0 44.5h0M350.5 44.8h0M325.4 61.3h0M346.4 64.0h0M359.5 57.7h0M360.5 58.5h0M362.0 59.5h0M364.0 60.0h0M366.0 61.0h0M370.0 61.5h0M372.8 61.0h0M375.0 61.0h0M380.5 61.0h0M384.0 61.5h0M387.0 63.0h0M389.0 62.0h0M392.0 61.6h0M353.6 67.5h0M360.2 66.5h0M378.0 68.0h0M380.0 69.0h0M383.0 68.0h0M385.0 69.5h0M391.6 68.6h0M390.6 69.0h0M388.7 70.0h0M387.1 67.1h0M377.0 67.6h0M372.4 66.9h0M389.7 69.7h0M378.6 69.1h0M344.7 43.3h0M341.4 45.5h0M344.1 43.3h0M355.5 45.2h0M349.9 45.3h0M350.0 45.5h0M345.6 42.3h0M342.0 42.1h0M346.4 42.7h0M342.7 44.5h0M321.4 134.0h0M327.3 135.7h0M329.0 135.7h0M330.6 135.7h0M345.7 133.0h0M347.0 136.0h0M349.7 130.0h0M384.5 129.4h0M388.4 129.4h0M390.4 129.4h0M392.4 129.4h0M381.2 132.5h0M386.5 132.5h0M378.6 135.7h0M387.1 136.0h0M351.7 131.0h0M364.4 130.0h0M364.2 129.4h0M374.1 129.6h0M366.4 129.2h0M364.8 129.6h0M371.6 129.1h0M364.5 129.2h0M364.4 130.0h0M367.4 129.1h0M363.9 129.9h0M360.9 129.7h0M358.6 129.0h0M323.3 207.6h0M319.1 206.2h0M321.6 206.3h0M321.0 208.5h0M320.8 208.3h0M323.1 205.1h0M323.7 206.3h0M318.4 210.1h0M328.9 206.9h0M327.5 208.7h0M327.9 208.3h0M327.6 207.2h0M329.2 205.7h0M332.5 202.6h0M333.6 203.3h0M330.3 203.2h0M334.2 202.6h0M343.1 204.0h0M347.0 211.5h0M348.4 215.0h0M343.3 204.0h0M346.6 211.5h0M347.9 215.3h0M375.5 194.5h0M369.6 200.3h0M356.6 199.4h0M357.2 199.5h0M357.2 199.8h0M359.9 199.5h0M363.4 199.6h0M368.7 200.1h0M357.7 199.4h0M355.9 199.6h0M357.6 200.1h0M368.6 200.5h0M359.2 199.2h0M386.8 198.9h0M389.1 198.8h0M380.9 198.3h0M389.3 199.0h0M382.6 198.9h0M386.9 199.5h0M383.1 198.5h0M382.2 199.6h0M382.2 199.3h0M611.5 48.6h0M532.8 45.7h0M535.3 48.1h0M555.7 46.4h0M566.2 45.4h0M604.4 49.6h0M575.4 47.4h0M554.6 48.3h0M557.8 50.4h0M608.4 49.0h0M597.6 45.4h0M539.3 46.9h0M539.5 47.3h0M610.8 49.6h0M608.6 46.2h0M547.4 45.1h0M551.7 45.3h0M572.8 46.7h0M584.9 48.1h0M578.6 46.6h0M590.0 48.8h0M588.3 47.6h0M567.5 46.6h0M532.3 47.6h0M580.1 46.0h0M600.4 49.8h0M599.8 49.5h0M569.5 46.0h0M551.5 49.1h0M610.7 45.6h0M529.5 46.9h0M558.0 48.3h0M538.3 49.6h0M557.1 50.0h0M556.3 46.7h0M543.6 50.3h0M577.9 49.5h0M534.2 48.0h0M589.8 50.4h0M606.7 45.6h0M560.0 50.5h0M573.4 50.3h0M550.0 45.1h0M607.5 46.5h0M575.5 47.0h0M576.9 50.1h0M607.6 49.8h0M550.3 49.5h0M530.5 47.3h0M607.4 46.4h0M559.5 48.2h0M548.6 48.9h0M583.2 45.5h0M605.4 45.4h0M586.8 46.9h0M540.9 45.4h0M611.8 49.4h0M567.1 49.4h0M609.5 50.1h0M573.2 46.5h0M572.0 50.4h0M589.6 48.7h0M599.0 47.2h0M575.4 49.7h0M545.5 49.7h0M531.0 48.0h0M576.7 45.8h0M605.5 47.4h0M544.4 47.3h0M578.1 47.4h0M529.2 45.5h0M588.2 45.7h0M550.2 49.4h0M600.5 49.8h0M543.5 45.0h0M591.6 48.3h0M559.3 45.1h0M564.8 46.3h0M577.8 50.4h0M546.4 45.4h0M586.6 45.6h0M547.5 47.4h0M610.8 46.8h0M555.2 47.6h0M542.5 47.2h0M587.1 46.8h0M595.1 46.0h0M537.4 48.4h0M566.6 50.0h0M537.7 49.1h0M584.6 47.0h0M539.6 48.4h0M591.9 47.6h0M568.2 48.8h0M579.6 47.3h0M544.4 47.5h0M574.6 49.9h0M611.6 48.1h0M556.3 46.2h0M581.3 49.1h0M549.6 48.8h0M611.9 47.2h0M606.9 47.4h0M583.1 49.8h0M545.9 46.9h0M610.7 45.4h0M554.4 47.6h0M590.8 48.5h0M606.2 48.7h0M529.1 45.4h0M532.0 47.4h0M531.2 47.9h0M581.5 46.1h0M600.1 47.3h0M608.7 47.0h0M580.5 48.0h0M550.8 49.3h0M529.3 46.4h0M555.6 49.9h0M570.5 45.2h0M553.8 48.4h0M596.1 45.6h0M593.7 47.1h0M572.5 47.3h0M565.4 50.4h0M605.3 50.0h0M590.1 48.9h0M540.7 45.2h0M598.0 48.7h0M581.3 46.7h0M551.2 50.1h0M573.2 45.1h0M557.3 46.9h0M534.6 50.4h0M603.9 49.5h0M529.4 47.3h0M538.3 49.0h0M596.2 49.3h0M594.7 45.7h0M530.1 45.5h0M599.1 45.5h0M572.3 44.3h0M600.3 44.0h0M556.6 43.8h0M610.6 44.6h0M593.2 45.4h0M577.6 45.8h0M593.5 45.7h0M609.0 44.0h0M591.5 44.3h0M556.6 44.5h0M611.1 43.9h0M565.7 44.1h0M611.8 44.8h0M587.6 44.8h0M592.9 44.5h0M563.9 45.3h0M587.6 45.6h0M555.4 45.5h0M590.5 44.9h0M563.5 50.9h0M536.3 50.0h0M555.5 50.0h0M534.0 51.2h0M590.0 51.0h0M546.9 51.2h0M597.7 51.0h0M548.6 50.9h0M562.4 50.3h0M542.2 51.5h0M581.8 51.7h0M544.1 50.3h0M571.8 49.9h0M554.8 50.9h0M569.5 51.6h0M577.3 51.1h0M617.9 51.6h0M614.2 48.5h0M624.7 51.6h0M610.2 48.9h0M611.8 51.1h0M610.2 48.6h0M616.4 48.5h0M612.4 50.0h0M611.5 48.5h0M612.4 49.5h0M613.5 50.1h0M614.1 49.8h0M608.3 51.8h0M620.6 50.4h0M541.1 42.5h0M557.5 43.0h0M548.3 43.5h0M563.4 54.0h0M587.7 54.0h0M588.4 60.5h0M620.6 38.5h0M620.6 40.5h0M620.6 42.5h0M621.0 53.0h0M622.5 55.0h0M624.0 57.0h0M528.5 46.0h0M529.5 49.5h0M547.0 122.4h0M611.4 131.6h0M620.6 134.3h0M547.0 226.5h0M611.4 220.0h0M110.8 447.4h0M110.8 521.6h0M348.7 352.4h0M348.6 356.2h0M349.3 357.8h0M348.5 360.4h0M348.4 362.6h0M348.2 364.6h0M349.0 367.0h0M348.7 368.9h0M348.2 371.7h0M350.5 355.0h0M350.0 364.0h0M351.0 367.0h0M360.6 435.1h0M363.0 434.4h0M359.8 431.0h0M356.2 433.0h0M357.5 434.6h0M354.2 436.1h0M353.6 432.6h0M359.1 430.8h0M356.5 437.0h0M360.7 433.6h0M354.8 436.5h0M362.1 431.2h0M357.4 434.9h0M360.3 432.2h0M361.6 435.4h0M367.4 440.8h0M371.4 439.1h0M373.3 439.1h0M375.3 439.1h0M358.2 453.0h0M355.6 522.4h0M354.7 520.8h0M358.4 522.2h0M359.0 522.7h0M360.7 520.9h0M359.0 520.9h0M362.4 520.6h0M355.6 520.4h0M356.3 522.6h0M360.6 520.4h0M367.6 524.6h0M371.5 525.3h0M373.5 525.3h0M375.5 525.3h0M613.0 348.4h0M621.8 353.4h0M627.7 356.2h0M630.3 354.3h0M636.2 354.5h0M641.5 354.3h0M643.0 356.0h0M644.8 357.6h0M652.6 357.5h0M623.1 366.3h0M636.2 368.0h0M637.5 369.5h0M638.8 370.7h0M591.9 349.4h0M590.0 448.3h0M588.3 448.0h0M590.5 447.7h0M592.2 449.0h0M613.0 434.5h0M621.8 437.8h0M627.0 435.2h0M627.7 437.8h0M629.6 442.0h0M633.0 438.7h0M635.0 438.7h0M636.5 438.7h0M638.2 438.7h0M641.5 437.4h0M643.5 438.0h0M645.4 439.1h0M631.8 544.7h0M629.2 544.1h0M637.0 541.2h0M620.7 542.9h0M617.0 542.2h0M653.5 542.5h0M637.2 542.7h0M631.0 541.5h0M616.2 543.7h0M639.6 542.1h0"/><path d="M71.0 36.2H140.0V41.2H71.0Z" fill="#dd3833"/><path d="M71.0 109.4H138.6V113.0H71.0Z" fill="#dd3833"/><path d="M71.0 197.8H136.6V202.8H71.0Z" fill="#dd3833"/><path d="M127.0 200.0H136.6V203.4H127.0Z" fill="#dd3833"/><path fill="none" stroke="#dd3833" stroke-width="3.0" stroke-linecap="round" d="M80.9 38.8h0M105.8 40.1h0M126.3 40.1h0M111.2 40.3h0M118.0 39.5h0M87.1 36.7h0M80.5 38.1h0M78.6 40.1h0M109.5 39.2h0M114.1 39.5h0M104.8 36.6h0M125.8 39.7h0M105.7 38.8h0M116.4 36.9h0M121.6 37.7h0M76.5 37.7h0M121.1 37.5h0M121.9 40.7h0M105.1 38.2h0M104.1 39.5h0M123.7 39.2h0M115.2 36.9h0M81.5 37.7h0M122.1 37.9h0M110.1 36.7h0M75.5 37.7h0M117.2 39.5h0M117.5 37.8h0M106.6 38.6h0M103.2 37.1h0M132.3 37.4h0M138.1 40.5h0M72.6 38.5h0M127.3 40.7h0M102.1 37.7h0M85.7 40.6h0M85.8 39.0h0M81.1 38.8h0M136.4 37.2h0M127.0 40.9h0M137.4 41.1h0M106.1 36.9h0M74.8 40.4h0M71.0 36.5h0M140.0 36.4h0M92.0 36.4h0M119.3 36.9h0M71.0 36.8h0M129.9 40.5h0M71.6 37.7h0M139.6 40.6h0M128.1 36.4h0M139.7 41.2h0M126.3 36.5h0M112.9 36.2h0M85.9 36.9h0M114.6 37.0h0M108.9 36.3h0M78.7 40.5h0M128.2 37.0h0M136.9 41.2h0M97.4 41.2h0M71.4 39.9h0M111.3 40.4h0M113.2 40.8h0M116.4 41.0h0M114.6 36.2h0M71.0 37.8h0M72.7 40.7h0M116.5 36.8h0M139.4 38.5h0M101.3 40.7h0M85.9 40.7h0M96.1 36.2h0M102.4 37.0h0M76.5 40.6h0M140.0 41.2h0M140.0 36.2h0M100.0 36.2h0M123.3 36.2h0M107.3 36.3h0M87.9 41.2h0M115.9 40.8h0M134.6 36.6h0M128.8 36.4h0M79.7 36.3h0M139.3 37.2h0M77.5 41.0h0M133.6 40.6h0M112.3 36.3h0M132.4 36.5h0M71.7 41.2h0M135.2 40.4h0M75.0 36.8h0M138.7 40.8h0M90.6 40.4h0M131.1 37.0h0M127.8 41.2h0M139.4 37.9h0M87.0 36.2h0M80.5 41.0h0M71.6 40.1h0M100.0 41.1h0M71.0 40.9h0M76.2 36.8h0M106.3 37.0h0M99.7 40.7h0M90.0 36.3h0M98.3 41.0h0M87.5 36.2h0M80.8 40.9h0M130.5 36.3h0M92.8 40.4h0M117.0 36.5h0M139.8 36.2h0M136.9 40.8h0M106.6 36.3h0M139.9 36.2h0M118.0 36.2h0M76.7 41.0h0M135.5 36.3h0M103.1 41.2h0M105.4 36.2h0M122.7 36.5h0M105.5 40.5h0M123.3 41.1h0M77.8 40.6h0M139.5 37.5h0M126.9 40.6h0M104.5 36.8h0M116.0 37.0h0M76.3 40.5h0M104.8 36.5h0M102.8 41.2h0M92.8 36.4h0M103.2 37.0h0M92.1 36.2h0M79.4 36.4h0M139.1 41.2h0M113.3 41.2h0M71.2 38.5h0M98.9 37.0h0M115.4 40.4h0M140.2 35.3h0M140.7 37.1h0M141.3 38.4h0M142.3 40.6h0M144.1 42.1h0M144.9 44.0h0M144.9 46.7h0M146.5 47.9h0M96.2 44.2h0M108.0 47.0h0M106.0 47.3h0M78.8 65.9h0M77.3 62.7h0M75.2 62.9h0M78.5 60.9h0M74.4 65.7h0M74.7 60.8h0M73.2 64.3h0M75.3 67.4h0M79.2 67.4h0M74.9 60.9h0M73.7 63.9h0M78.0 63.5h0M74.6 63.3h0M77.3 65.2h0M78.2 66.4h0M77.7 61.2h0M81.8 57.5h0M85.7 63.5h0M87.0 62.5h0M88.5 62.0h0M90.3 61.0h0M99.5 57.0h0M102.0 55.5h0M103.0 56.0h0M107.7 56.0h0M109.2 56.0h0M111.5 56.0h0M120.0 56.0h0M124.5 56.0h0M131.5 56.0h0M133.0 56.5h0M138.3 56.0h0M143.0 56.0h0M127.0 59.0h0M129.0 59.5h0M130.5 58.0h0M135.0 59.0h0M137.5 60.0h0M115.4 70.3h0M127.7 71.0h0M108.5 70.3h0M137.0 61.9h0M123.3 62.1h0M131.9 61.6h0M107.4 61.7h0M102.7 63.7h0M123.9 62.0h0M114.8 64.0h0M120.4 61.7h0M135.4 63.0h0M144.5 61.3h0M118.7 63.5h0M137.0 63.7h0M97.0 61.9h0M101.0 61.6h0M143.6 62.7h0M141.5 62.1h0M138.3 62.3h0M108.0 63.3h0M142.3 61.3h0M124.8 62.9h0M105.9 62.1h0M102.1 61.6h0M109.2 61.4h0M128.3 56.8h0M97.5 58.3h0M129.6 56.6h0M112.0 56.8h0M135.2 60.8h0M100.0 55.7h0M116.0 60.8h0M127.7 55.5h0M104.9 62.5h0M116.7 57.8h0M111.8 65.5h0M112.0 61.0h0M114.1 59.3h0M138.5 66.0h0M114.5 56.8h0M131.9 56.8h0M97.3 64.9h0M117.3 63.9h0M116.5 64.7h0M119.1 56.4h0M97.7 60.8h0M127.8 65.0h0M101.3 61.7h0M114.8 60.3h0M104.0 57.8h0M122.0 65.1h0M102.2 60.1h0M135.6 65.6h0M106.5 56.0h0M142.3 65.7h0M120.2 55.1h0M141.5 59.0h0M140.4 61.6h0M136.6 56.3h0M135.7 59.6h0M128.1 63.9h0M136.6 59.3h0M124.4 60.8h0M130.4 60.7h0M122.5 59.7h0M134.5 64.3h0M120.8 61.9h0M135.1 58.3h0M136.8 58.8h0M132.0 61.9h0M132.5 60.1h0M128.4 62.1h0M128.5 62.6h0M128.9 61.1h0M139.9 61.1h0M140.3 63.1h0M140.5 65.9h0M140.3 67.7h0M67.3 119.7h0M83.8 116.4h0M135.7 115.0h0M137.6 114.0h0M79.0 112.5h0M75.2 112.3h0M116.0 110.4h0M103.3 110.6h0M88.6 110.4h0M95.7 112.6h0M138.1 112.4h0M77.9 110.6h0M131.3 110.0h0M119.9 110.6h0M136.8 109.8h0M125.3 110.8h0M80.8 109.8h0M127.0 111.3h0M83.8 111.0h0M132.3 110.4h0M109.6 110.2h0M83.4 112.0h0M118.9 110.4h0M76.7 110.0h0M112.1 111.2h0M89.7 110.4h0M112.3 111.8h0M125.6 111.4h0M84.9 110.0h0M120.3 110.9h0M119.6 110.0h0M125.6 110.7h0M127.6 112.2h0M104.3 109.8h0M132.2 111.1h0M131.6 112.4h0M98.0 110.1h0M125.2 109.4h0M125.8 109.8h0M71.0 109.8h0M137.0 109.8h0M88.2 110.0h0M123.2 113.0h0M118.3 110.0h0M127.4 110.0h0M79.2 110.1h0M71.3 112.7h0M77.6 112.7h0M81.2 112.2h0M138.0 109.4h0M97.4 109.4h0M107.7 110.1h0M74.5 109.4h0M105.5 112.3h0M72.7 109.8h0M87.1 112.7h0M106.1 112.3h0M131.2 112.9h0M76.8 109.4h0M74.6 112.7h0M112.1 109.4h0M131.0 109.4h0M89.4 113.0h0M92.1 109.8h0M112.7 112.3h0M124.6 113.0h0M128.5 109.7h0M126.7 112.7h0M129.5 110.2h0M117.2 112.5h0M106.2 109.6h0M135.5 110.2h0M121.4 113.0h0M123.0 113.0h0M78.1 109.8h0M71.8 113.0h0M107.5 109.7h0M95.6 112.5h0M80.2 112.2h0M135.1 109.8h0M73.1 109.4h0M138.5 109.4h0M71.5 110.1h0M122.1 113.0h0M133.5 112.2h0M96.9 112.4h0M102.4 112.4h0M82.0 113.0h0M93.8 112.4h0M78.7 112.6h0M71.1 112.2h0M115.9 109.9h0M88.1 109.8h0M71.4 113.0h0M110.4 109.7h0M80.7 112.3h0M88.6 109.4h0M114.2 109.7h0M113.4 109.5h0M83.2 109.8h0M126.7 112.8h0M86.2 112.8h0M100.3 110.0h0M138.6 109.8h0M92.6 112.6h0M116.7 109.5h0M103.3 109.8h0M127.6 109.8h0M71.8 109.6h0M130.0 112.4h0M84.1 112.6h0M112.8 110.2h0M114.4 110.0h0M93.8 109.4h0M131.4 112.6h0M79.3 109.6h0M136.2 110.0h0M86.4 109.5h0M71.6 113.0h0M93.2 109.6h0M123.0 109.9h0M93.1 113.0h0M123.9 112.7h0M111.5 112.9h0M114.7 112.6h0M118.5 112.9h0M138.0 112.3h0M131.4 112.2h0M115.6 112.7h0M75.3 113.0h0M86.4 112.6h0M118.3 113.0h0M91.7 112.5h0M138.0 109.7h0M109.1 112.4h0M67.3 201.2h0M83.8 207.8h0M85.7 203.0h0M141.6 193.5h0M132.1 199.6h0M131.1 200.7h0M76.6 199.0h0M109.0 202.3h0M94.5 201.5h0M99.2 201.8h0M75.8 200.2h0M129.7 199.4h0M88.1 198.3h0M82.1 199.3h0M117.0 199.1h0M97.3 199.0h0M110.5 201.8h0M113.4 199.0h0M119.0 202.2h0M110.3 198.5h0M123.9 201.9h0M93.5 198.8h0M83.6 200.5h0M128.1 200.9h0M131.2 199.1h0M92.6 201.3h0M113.5 199.9h0M115.4 199.6h0M75.1 199.9h0M74.3 200.8h0M93.1 200.3h0M110.1 199.3h0M101.4 198.3h0M131.4 200.6h0M135.4 198.4h0M111.2 201.2h0M92.7 198.6h0M81.5 198.8h0M121.1 198.6h0M124.1 200.0h0M106.3 200.7h0M85.2 202.6h0M92.2 202.3h0M113.0 202.2h0M108.5 202.7h0M118.2 202.3h0M117.7 202.8h0M71.0 202.2h0M80.5 202.8h0M89.7 197.8h0M73.4 202.6h0M117.9 202.3h0M136.0 202.2h0M115.3 202.0h0M74.2 197.8h0M79.0 198.2h0M85.2 202.1h0M71.2 201.8h0M92.3 197.8h0M112.5 202.8h0M94.2 197.8h0M118.5 202.2h0M136.2 201.2h0M97.3 202.3h0M121.8 202.4h0M118.3 198.6h0M86.1 198.4h0M79.8 198.3h0M130.0 198.5h0M78.9 198.2h0M131.2 198.6h0M71.5 202.6h0M103.4 197.9h0M109.1 198.1h0M104.5 197.9h0M115.7 202.6h0M114.5 198.6h0M102.3 198.2h0M93.4 198.5h0M132.1 202.2h0M114.5 202.8h0M112.2 198.0h0M74.8 202.8h0M94.1 198.3h0M91.6 202.4h0M88.8 202.8h0M101.3 198.5h0M123.8 198.4h0M131.2 202.1h0M131.3 202.8h0M114.4 197.8h0M86.6 198.6h0M71.4 198.6h0M92.5 198.4h0M84.6 197.8h0M104.3 202.0h0M120.7 198.6h0M109.3 202.8h0M135.8 200.8h0M105.0 198.4h0M105.3 202.0h0M77.7 202.2h0M134.2 197.8h0M73.0 198.6h0M117.2 198.5h0M88.0 198.1h0M90.3 198.1h0M96.7 198.3h0M92.1 198.4h0M77.1 202.1h0M122.8 198.1h0M71.2 198.7h0M102.1 198.6h0M134.2 202.7h0M110.7 197.8h0M109.5 197.8h0M76.4 198.2h0M130.9 198.2h0M124.1 197.8h0M105.1 202.6h0M83.6 202.5h0M105.4 202.8h0M132.8 202.7h0M129.6 198.0h0M132.5 198.6h0M127.8 198.0h0M131.2 197.8h0M135.8 202.8h0M93.1 202.8h0M108.0 198.3h0M126.2 197.9h0M99.6 197.8h0M128.2 202.7h0M71.0 197.8h0M106.0 202.3h0M98.8 202.5h0M117.1 198.6h0M71.0 198.4h0M129.7 202.5h0M90.8 202.8h0M129.5 202.0h0M133.9 201.4h0M133.7 201.4h0M132.0 202.0h0M133.4 201.2h0M135.8 203.1h0M133.6 200.5h0M135.0 200.8h0M130.5 203.3h0M132.1 203.0h0M133.5 200.0h0M136.3 201.9h0M132.2 203.1h0M127.1 203.4h0M131.9 200.7h0M130.1 203.2h0M127.7 203.4h0M135.8 200.0h0M127.4 203.4h0M127.0 203.4h0M131.2 200.1h0M129.5 200.2h0M127.4 203.1h0M129.8 202.6h0M127.8 203.4h0M127.3 200.0h0M130.7 203.3h0M320.3 41.4h0M322.1 40.7h0M323.6 40.5h0M325.8 40.5h0M326.9 40.2h0M328.6 39.2h0M329.1 39.3h0M330.7 38.9h0M332.4 38.5h0M334.2 37.8h0M336.6 36.9h0M337.7 36.4h0M339.5 35.5h0M339.9 35.2h0M341.9 36.4h0M343.7 36.7h0M345.4 37.4h0M346.9 38.3h0M349.5 38.8h0M322.0 40.5h0M324.0 41.0h0M326.0 40.2h0M330.0 39.0h0M332.0 38.6h0M334.0 37.2h0M336.0 36.8h0M338.0 36.0h0M342.0 36.2h0M344.0 37.0h0M346.0 37.6h0M347.5 39.0h0M343.1 51.0h0M349.0 49.0h0M351.7 49.0h0M351.7 55.0h0M351.7 60.6h0M349.5 54.0h0M323.4 63.8h0M333.3 63.0h0M343.1 64.0h0M351.1 43.7h0M351.3 47.4h0M351.0 49.8h0M351.7 53.5h0M351.2 55.9h0M351.7 59.2h0M351.7 62.3h0M330.6 41.3h0M322.3 41.6h0M321.1 38.9h0M322.6 40.1h0M327.3 40.3h0M327.7 38.9h0M330.2 39.9h0M329.0 38.6h0M328.9 39.4h0M329.3 41.7h0M323.3 116.8h0M324.9 116.9h0M321.7 118.5h0M324.2 115.6h0M325.8 118.0h0M322.9 117.7h0M332.0 115.6h0M334.0 115.3h0M336.0 115.6h0M338.5 115.3h0M330.0 121.5h0M332.6 121.0h0M345.7 116.3h0M346.4 123.6h0M352.5 195.2h0M547.0 40.6h0M621.2 45.2h0M620.6 125.2h0M622.0 125.4h0M623.2 125.2h0M349.9 429.1h0M347.1 431.4h0M348.2 430.0h0M350.5 431.3h0M347.5 432.1h0M348.5 530.6h0M348.5 533.0h0M348.5 535.8h0M592.3 365.3h0M593.5 365.4h0M598.1 359.8h0M603.4 359.5h0M606.0 361.7h0M600.0 342.5h0M606.0 343.3h0M596.1 347.0h0M598.1 429.3h0M599.5 430.0h0M600.7 430.6h0M606.0 429.3h0M600.7 539.0h0M606.0 539.3h0"/><path d="M141.4 24.5L145.7 31.9L137.1 31.9Z" fill="#dd3833" stroke="#111" stroke-width="1.1" stroke-linejoin="miter"/><path d="M84.2 35.9L88.0 39.7L84.2 43.5L80.4 39.7Z" fill="#dd3833" stroke="#111" stroke-width="1.1"/><path d="M141.2 114.5L145.5 121.9L136.9 121.9Z" fill="#eea63e" stroke="#111" stroke-width="1.1" stroke-linejoin="miter"/><path d="M84.0 103.3L87.8 107.1L84.0 110.9L80.2 107.1Z" fill="#dd3833" stroke="#111" stroke-width="1.1"/><path d="M141.6 194.1L145.9 201.5L137.3 201.5Z" fill="#eea63e" stroke="#111" stroke-width="1.1" stroke-linejoin="miter"/><path d="M84.0 193.2L87.8 197.0L84.0 200.8L80.2 197.0Z" fill="#dd3833" stroke="#111" stroke-width="1.1"/><path d="M353.6 28.3L357.9 35.7L349.3 35.7Z" fill="#dd3833" stroke="#111" stroke-width="1.1" stroke-linejoin="miter"/><path d="M351.1 30.8L354.9 34.6L351.1 38.4L347.3 34.6Z" fill="#dd3833" stroke="#111" stroke-width="1.1"/><path d="M356.9 34.8L360.7 38.6L356.9 42.4L353.1 38.6Z" fill="#dd3833" stroke="#111" stroke-width="1.1"/><path d="M351.5 108.7L355.3 112.5L351.5 116.3L347.7 112.5Z" fill="#dd3833" stroke="#111" stroke-width="1.1"/><path d="M356.5 113.5L360.3 117.3L356.5 121.1L352.7 117.3Z" fill="#dd3833" stroke="#111" stroke-width="1.1"/><path d="M350.5 186.1L354.8 193.5L346.2 193.5Z" fill="#dd3833" stroke="#111" stroke-width="1.1" stroke-linejoin="miter"/><path d="M354.0 183.2L357.8 187.0L354.0 190.8L350.2 187.0Z" fill="#dd3833" stroke="#111" stroke-width="1.1"/><path d="M348.1 196.0L351.9 199.8L348.1 203.6L344.3 199.8Z" fill="#ec5a4c" stroke="#111" stroke-width="1.1"/><path d="M562.1 34.3L566.4 41.7L557.8 41.7Z" fill="#dd3833" stroke="#111" stroke-width="1.1" stroke-linejoin="miter"/><path d="M625.2 44.0L629.0 47.8L625.2 51.6L621.4 47.8Z" fill="#eea63e" stroke="#111" stroke-width="1.1"/><path d="M562.1 111.9L566.4 119.3L557.8 119.3Z" fill="#449c4e" stroke="#111" stroke-width="1.1" stroke-linejoin="miter"/><path d="M625.6 117.7L629.4 121.5L625.6 125.3L621.8 121.5Z" fill="#dd3833" stroke="#111" stroke-width="1.1"/><path d="M562.1 219.1L566.4 226.5L557.8 226.5Z" fill="#449c4e" stroke="#111" stroke-width="1.1" stroke-linejoin="miter"/><path d="M625.2 221.0L629.0 224.8L625.2 228.6L621.4 224.8Z" fill="#dd3833" stroke="#111" stroke-width="1.1"/><path d="M110.7 346.5L114.5 350.3L110.7 354.1L106.9 350.3Z" fill="#eea63e" stroke="#111" stroke-width="1.1"/><path d="M114.6 344.7L118.9 352.1L110.3 352.1Z" fill="#dd3833" stroke="#111" stroke-width="1.1" stroke-linejoin="miter"/><path d="M110.5 418.2L114.3 422.0L110.5 425.8L106.7 422.0Z" fill="#dd3833" stroke="#111" stroke-width="1.1"/><path d="M114.7 436.3L119.0 443.7L110.4 443.7Z" fill="#eea63e" stroke="#111" stroke-width="1.1" stroke-linejoin="miter"/><path d="M110.5 485.0L114.3 488.8L110.5 492.6L106.7 488.8Z" fill="#dd3833" stroke="#111" stroke-width="1.1"/><path d="M114.7 507.8L119.0 515.2L110.4 515.2Z" fill="#eea63e" stroke="#111" stroke-width="1.1" stroke-linejoin="miter"/><path d="M352.4 340.7L356.7 348.1L348.1 348.1Z" fill="#dd3833" stroke="#111" stroke-width="1.1" stroke-linejoin="miter"/><path d="M352.6 353.2L356.4 357.0L352.6 360.8L348.8 357.0Z" fill="#eea63e" stroke="#111" stroke-width="1.1"/><path d="M352.8 422.6L356.6 426.4L352.8 430.2L349.0 426.4Z" fill="#dd3833" stroke="#111" stroke-width="1.1"/><path d="M352.8 447.3L357.1 454.7L348.5 454.7Z" fill="#232a79" stroke="#111" stroke-width="1.1" stroke-linejoin="miter"/><path d="M352.7 521.2L356.5 525.0L352.7 528.8L348.9 525.0Z" fill="#dd3833" stroke="#111" stroke-width="1.1"/><path d="M352.5 529.5L356.8 536.9L348.2 536.9Z" fill="#232a79" stroke="#111" stroke-width="1.1" stroke-linejoin="miter"/><path d="M595.8 338.0L600.1 345.4L591.5 345.4Z" fill="#dd3833" stroke="#111" stroke-width="1.1" stroke-linejoin="miter"/><path d="M591.7 341.0L595.5 344.8L591.7 348.6L587.9 344.8Z" fill="#dd3833" stroke="#111" stroke-width="1.1"/><path d="M591.5 423.5L595.3 427.3L591.5 431.1L587.7 427.3Z" fill="#dd3833" stroke="#111" stroke-width="1.1"/><path d="M595.7 428.9L600.0 436.3L591.4 436.3Z" fill="#dd3833" stroke="#111" stroke-width="1.1" stroke-linejoin="miter"/><path d="M591.9 530.7L595.7 534.5L591.9 538.3L588.1 534.5Z" fill="#dd3833" stroke="#111" stroke-width="1.1"/><path d="M595.5 534.1L599.8 541.5L591.2 541.5Z" fill="#dd3833" stroke="#111" stroke-width="1.1" stroke-linejoin="miter"/><text x="0" y="8.8" font-size="12" font-weight="bold" fill="#000" stroke="#000" stroke-width="0.35">a</text><text x="64.0" y="9.1" font-size="9" fill="#111" font-weight="bold" textLength="106.7" lengthAdjust="spacingAndGlyphs">chr3:52658315-52662133</text><line x1="24" y1="21.4" x2="24" y2="85.4" stroke="#9a9a9a" stroke-width="0.9"/><line x1="20" y1="85.4" x2="24" y2="85.4" stroke="#555" stroke-width="0.8"/><text x="18.0" y="87.9" font-size="7" fill="#1a1a1a" text-anchor="end" stroke="#1a1a1a" stroke-width="0.18">0</text><line x1="20" y1="78.3" x2="24" y2="78.3" stroke="#555" stroke-width="0.8"/><text x="18.0" y="80.8" font-size="7" fill="#1a1a1a" text-anchor="end" stroke="#1a1a1a" stroke-width="0.18">2</text><line x1="20" y1="71.2" x2="24" y2="71.2" stroke="#555" stroke-width="0.8"/><text x="18.0" y="73.7" font-size="7" fill="#1a1a1a" text-anchor="end" stroke="#1a1a1a" stroke-width="0.18">4</text><line x1="20" y1="64.1" x2="24" y2="64.1" stroke="#555" stroke-width="0.8"/><text x="18.0" y="66.6" font-size="7" fill="#1a1a1a" text-anchor="end" stroke="#1a1a1a" stroke-width="0.18">6</text><line x1="20" y1="57.0" x2="24" y2="57.0" stroke="#555" stroke-width="0.8"/><text x="18.0" y="59.5" font-size="7" fill="#1a1a1a" text-anchor="end" stroke="#1a1a1a" stroke-width="0.18">8</text><line x1="20" y1="49.8" x2="24" y2="49.8" stroke="#555" stroke-width="0.8"/><text x="18.0" y="52.3" font-size="7" fill="#1a1a1a" text-anchor="end" stroke="#1a1a1a" stroke-width="0.18">10</text><line x1="20" y1="42.7" x2="24" y2="42.7" stroke="#555" stroke-width="0.8"/><text x="18.0" y="45.2" font-size="7" fill="#1a1a1a" text-anchor="end" stroke="#1a1a1a" stroke-width="0.18">12</text><line x1="20" y1="35.6" x2="24" y2="35.6" stroke="#555" stroke-width="0.8"/><text x="18.0" y="38.1" font-size="7" fill="#1a1a1a" text-anchor="end" stroke="#1a1a1a" stroke-width="0.18">14</text><line x1="20" y1="28.5" x2="24" y2="28.5" stroke="#555" stroke-width="0.8"/><text x="18.0" y="31.0" font-size="7" fill="#1a1a1a" text-anchor="end" stroke="#1a1a1a" stroke-width="0.18">16</text><line x1="20" y1="21.4" x2="24" y2="21.4" stroke="#555" stroke-width="0.8"/><text x="18.0" y="23.9" font-size="7" fill="#1a1a1a" text-anchor="end" stroke="#1a1a1a" stroke-width="0.18">18</text><line x1="24" y1="85.5" x2="202" y2="85.5" stroke="#1c1e48" stroke-width="0.9"/><line x1="24" y1="96.4" x2="24" y2="159.9" stroke="#9a9a9a" stroke-width="0.9"/><line x1="20" y1="159.9" x2="24" y2="159.9" stroke="#555" stroke-width="0.8"/><text x="18.0" y="162.4" font-size="7" fill="#1a1a1a" text-anchor="end" stroke="#1a1a1a" stroke-width="0.18">0</text><line x1="20" y1="149.3" x2="24" y2="149.3" stroke="#555" stroke-width="0.8"/><text x="18.0" y="151.8" font-size="7" fill="#1a1a1a" text-anchor="end" stroke="#1a1a1a" stroke-width="0.18">2</text><line x1="20" y1="138.7" x2="24" y2="138.7" stroke="#555" stroke-width="0.8"/><text x="18.0" y="141.2" font-size="7" fill="#1a1a1a" text-anchor="end" stroke="#1a1a1a" stroke-width="0.18">4</text><line x1="20" y1="128.2" x2="24" y2="128.2" stroke="#555" stroke-width="0.8"/><text x="18.0" y="130.7" font-size="7" fill="#1a1a1a" text-anchor="end" stroke="#1a1a1a" stroke-width="0.18">6</text><line x1="20" y1="117.6" x2="24" y2="117.6" stroke="#555" stroke-width="0.8"/><text x="18.0" y="120.1" font-size="7" fill="#1a1a1a" text-anchor="end" stroke="#1a1a1a" stroke-width="0.18">8</text><line x1="20" y1="107.0" x2="24" y2="107.0" stroke="#555" stroke-width="0.8"/><text x="18.0" y="109.5" font-size="7" fill="#1a1a1a" text-anchor="end" stroke="#1a1a1a" stroke-width="0.18">10</text><line x1="20" y1="96.4" x2="24" y2="96.4" stroke="#555" stroke-width="0.8"/><text x="18.0" y="98.9" font-size="7" fill="#1a1a1a" text-anchor="end" stroke="#1a1a1a" stroke-width="0.18">12</text><line x1="24" y1="160.0" x2="202" y2="160.0" stroke="#1c1e48" stroke-width="0.9"/><line x1="24" y1="170.9" x2="24" y2="234.4" stroke="#9a9a9a" stroke-width="0.9"/><line x1="20" y1="234.4" x2="24" y2="234.4" stroke="#555" stroke-width="0.8"/><text x="18.0" y="236.9" font-size="7" fill="#1a1a1a" text-anchor="end" stroke="#1a1a1a" stroke-width="0.18">0</text><line x1="20" y1="223.8" x2="24" y2="223.8" stroke="#555" stroke-width="0.8"/><text x="18.0" y="226.3" font-size="7" fill="#1a1a1a" text-anchor="end" stroke="#1a1a1a" stroke-width="0.18">2</text><line x1="20" y1="213.2" x2="24" y2="213.2" stroke="#555" stroke-width="0.8"/><text x="18.0" y="215.7" font-size="7" fill="#1a1a1a" text-anchor="end" stroke="#1a1a1a" stroke-width="0.18">4</text><line x1="20" y1="202.7" x2="24" y2="202.7" stroke="#555" stroke-width="0.8"/><text x="18.0" y="205.2" font-size="7" fill="#1a1a1a" text-anchor="end" stroke="#1a1a1a" stroke-width="0.18">6</text><line x1="20" y1="192.1" x2="24" y2="192.1" stroke="#555" stroke-width="0.8"/><text x="18.0" y="194.6" font-size="7" fill="#1a1a1a" text-anchor="end" stroke="#1a1a1a" stroke-width="0.18">8</text><line x1="20" y1="181.5" x2="24" y2="181.5" stroke="#555" stroke-width="0.8"/><text x="18.0" y="184.0" font-size="7" fill="#1a1a1a" text-anchor="end" stroke="#1a1a1a" stroke-width="0.18">10</text><line x1="20" y1="170.9" x2="24" y2="170.9" stroke="#555" stroke-width="0.8"/><text x="18.0" y="173.4" font-size="7" fill="#1a1a1a" text-anchor="end" stroke="#1a1a1a" stroke-width="0.18">12</text><line x1="24" y1="234.5" x2="202" y2="234.5" stroke="#1c1e48" stroke-width="0.9"/><text x="28.0" y="26.8" font-size="8.7" fill="#444" textLength="44.1" lengthAdjust="spacingAndGlyphs" stroke="#444" stroke-width="0.2">GWAS−THR</text><text x="28.0" y="101.4" font-size="7.8" fill="#3b87cf" stroke="#3b87cf" stroke-width="0.3">PBS sQTL</text><text x="28.0" y="175.9" font-size="7.8" fill="#dc9c28" stroke="#dc9c28" stroke-width="0.3">FN−f sQTL</text><text x="28.0" y="111.4" font-size="6.6" fill="#1a1a1a" stroke="#1a1a1a" stroke-width="0.15">PP4=0.539</text><text x="28.0" y="186.0" font-size="6.6" fill="#1a1a1a" stroke="#1a1a1a" stroke-width="0.15">PP4=0.717</text><text transform="translate(4.8,130.9) rotate(-90)" x="0" y="0" font-size="7.6" fill="#1a1a1a" stroke="#1a1a1a" stroke-width="0.15" text-anchor="middle" textLength="53" lengthAdjust="spacingAndGlyphs">-log10(p-value)</text><line x1="24" y1="273.4" x2="202" y2="273.4" stroke="#555" stroke-width="0.9"/><text x="241" y="8.8" font-size="12" font-weight="bold" fill="#000" stroke="#000" stroke-width="0.35">b</text><text x="297.0" y="9.1" font-size="9" fill="#111" font-weight="bold" textLength="109.4" lengthAdjust="spacingAndGlyphs">chr22:37808163:37809949</text><line x1="263" y1="21.4" x2="263" y2="85.4" stroke="#9a9a9a" stroke-width="0.9"/><line x1="259" y1="85.4" x2="263" y2="85.4" stroke="#555" stroke-width="0.8"/><text x="257.0" y="87.9" font-size="7" fill="#1a1a1a" text-anchor="end" stroke="#1a1a1a" stroke-width="0.18">0</text><line x1="259" y1="74.7" x2="263" y2="74.7" stroke="#555" stroke-width="0.8"/><text x="257.0" y="77.2" font-size="7" fill="#1a1a1a" text-anchor="end" stroke="#1a1a1a" stroke-width="0.18">2</text><line x1="259" y1="64.1" x2="263" y2="64.1" stroke="#555" stroke-width="0.8"/><text x="257.0" y="66.6" font-size="7" fill="#1a1a1a" text-anchor="end" stroke="#1a1a1a" stroke-width="0.18">4</text><line x1="259" y1="53.4" x2="263" y2="53.4" stroke="#555" stroke-width="0.8"/><text x="257.0" y="55.9" font-size="7" fill="#1a1a1a" text-anchor="end" stroke="#1a1a1a" stroke-width="0.18">6</text><line x1="259" y1="42.8" x2="263" y2="42.8" stroke="#555" stroke-width="0.8"/><text x="257.0" y="45.3" font-size="7" fill="#1a1a1a" text-anchor="end" stroke="#1a1a1a" stroke-width="0.18">8</text><line x1="259" y1="32.1" x2="263" y2="32.1" stroke="#555" stroke-width="0.8"/><text x="257.0" y="34.6" font-size="7" fill="#1a1a1a" text-anchor="end" stroke="#1a1a1a" stroke-width="0.18">10</text><line x1="259" y1="21.4" x2="263" y2="21.4" stroke="#555" stroke-width="0.8"/><text x="257.0" y="23.9" font-size="7" fill="#1a1a1a" text-anchor="end" stroke="#1a1a1a" stroke-width="0.18">12</text><line x1="263" y1="85.5" x2="441" y2="85.5" stroke="#1c1e48" stroke-width="0.9"/><line x1="263" y1="101.9" x2="263" y2="159.9" stroke="#9a9a9a" stroke-width="0.9"/><line x1="259" y1="159.9" x2="263" y2="159.9" stroke="#555" stroke-width="0.8"/><text x="257.0" y="162.4" font-size="7" fill="#1a1a1a" text-anchor="end" stroke="#1a1a1a" stroke-width="0.18">0</text><line x1="259" y1="148.3" x2="263" y2="148.3" stroke="#555" stroke-width="0.8"/><text x="257.0" y="150.8" font-size="7" fill="#1a1a1a" text-anchor="end" stroke="#1a1a1a" stroke-width="0.18">2</text><line x1="259" y1="136.7" x2="263" y2="136.7" stroke="#555" stroke-width="0.8"/><text x="257.0" y="139.2" font-size="7" fill="#1a1a1a" text-anchor="end" stroke="#1a1a1a" stroke-width="0.18">4</text><line x1="259" y1="125.1" x2="263" y2="125.1" stroke="#555" stroke-width="0.8"/><text x="257.0" y="127.6" font-size="7" fill="#1a1a1a" text-anchor="end" stroke="#1a1a1a" stroke-width="0.18">6</text><line x1="259" y1="113.5" x2="263" y2="113.5" stroke="#555" stroke-width="0.8"/><text x="257.0" y="116.0" font-size="7" fill="#1a1a1a" text-anchor="end" stroke="#1a1a1a" stroke-width="0.18">8</text><line x1="259" y1="101.9" x2="263" y2="101.9" stroke="#555" stroke-width="0.8"/><text x="257.0" y="104.4" font-size="7" fill="#1a1a1a" text-anchor="end" stroke="#1a1a1a" stroke-width="0.18">10</text><line x1="263" y1="160.0" x2="441" y2="160.0" stroke="#1c1e48" stroke-width="0.9"/><line x1="263" y1="178.0" x2="263" y2="234.4" stroke="#9a9a9a" stroke-width="0.9"/><line x1="259" y1="234.4" x2="263" y2="234.4" stroke="#555" stroke-width="0.8"/><text x="257.0" y="236.9" font-size="7" fill="#1a1a1a" text-anchor="end" stroke="#1a1a1a" stroke-width="0.18">0</text><line x1="259" y1="220.3" x2="263" y2="220.3" stroke="#555" stroke-width="0.8"/><text x="257.0" y="222.8" font-size="7" fill="#1a1a1a" text-anchor="end" stroke="#1a1a1a" stroke-width="0.18">2</text><line x1="259" y1="206.2" x2="263" y2="206.2" stroke="#555" stroke-width="0.8"/><text x="257.0" y="208.7" font-size="7" fill="#1a1a1a" text-anchor="end" stroke="#1a1a1a" stroke-width="0.18">4</text><line x1="259" y1="192.1" x2="263" y2="192.1" stroke="#555" stroke-width="0.8"/><text x="257.0" y="194.6" font-size="7" fill="#1a1a1a" text-anchor="end" stroke="#1a1a1a" stroke-width="0.18">6</text><line x1="259" y1="178.0" x2="263" y2="178.0" stroke="#555" stroke-width="0.8"/><text x="257.0" y="180.5" font-size="7" fill="#1a1a1a" text-anchor="end" stroke="#1a1a1a" stroke-width="0.18">8</text><line x1="263" y1="234.5" x2="441" y2="234.5" stroke="#1c1e48" stroke-width="0.9"/><text x="267.0" y="28.8" font-size="8.7" fill="#444" textLength="45" lengthAdjust="spacingAndGlyphs" stroke="#444" stroke-width="0.2">GWAS−THR</text><text x="267.0" y="103.2" font-size="7.8" fill="#3b87cf" stroke="#3b87cf" stroke-width="0.3">PBS sQTL</text><text x="267.0" y="177.9" font-size="7.8" fill="#dc9c28" stroke="#dc9c28" stroke-width="0.3">FN−f sQTL</text><text x="267.0" y="113.4" font-size="6.6" fill="#1a1a1a" stroke="#1a1a1a" stroke-width="0.15">PP4=0.924</text><text x="267.0" y="188.0" font-size="6.6" fill="#1a1a1a" stroke="#1a1a1a" stroke-width="0.15">PP4=0.821</text><text transform="translate(245.6,130.9) rotate(-90)" x="0" y="0" font-size="7.6" fill="#1a1a1a" stroke="#1a1a1a" stroke-width="0.15" text-anchor="middle" textLength="53" lengthAdjust="spacingAndGlyphs">-log10(p-value)</text><line x1="263" y1="273.4" x2="441" y2="273.4" stroke="#555" stroke-width="0.9"/><text x="481.5" y="8.8" font-size="12" font-weight="bold" fill="#000" stroke="#000" stroke-width="0.35">c</text><text x="543.0" y="9.1" font-size="9" fill="#111" font-weight="bold" textLength="110.6" lengthAdjust="spacingAndGlyphs">chr21:39347292-39347379</text><line x1="505" y1="27.0" x2="505" y2="85.4" stroke="#9a9a9a" stroke-width="0.9"/><line x1="501" y1="85.4" x2="505" y2="85.4" stroke="#555" stroke-width="0.8"/><text x="499.0" y="87.9" font-size="7" fill="#1a1a1a" text-anchor="end" stroke="#1a1a1a" stroke-width="0.18">0</text><line x1="501" y1="73.7" x2="505" y2="73.7" stroke="#555" stroke-width="0.8"/><text x="499.0" y="76.2" font-size="7" fill="#1a1a1a" text-anchor="end" stroke="#1a1a1a" stroke-width="0.18">2</text><line x1="501" y1="62.0" x2="505" y2="62.0" stroke="#555" stroke-width="0.8"/><text x="499.0" y="64.5" font-size="7" fill="#1a1a1a" text-anchor="end" stroke="#1a1a1a" stroke-width="0.18">4</text><line x1="501" y1="50.4" x2="505" y2="50.4" stroke="#555" stroke-width="0.8"/><text x="499.0" y="52.9" font-size="7" fill="#1a1a1a" text-anchor="end" stroke="#1a1a1a" stroke-width="0.18">6</text><line x1="501" y1="38.7" x2="505" y2="38.7" stroke="#555" stroke-width="0.8"/><text x="499.0" y="41.2" font-size="7" fill="#1a1a1a" text-anchor="end" stroke="#1a1a1a" stroke-width="0.18">8</text><line x1="501" y1="27.0" x2="505" y2="27.0" stroke="#555" stroke-width="0.8"/><text x="499.0" y="29.5" font-size="7" fill="#1a1a1a" text-anchor="end" stroke="#1a1a1a" stroke-width="0.18">10</text><line x1="505" y1="85.5" x2="683" y2="85.5" stroke="#1c1e48" stroke-width="0.9"/><line x1="505" y1="103.5" x2="505" y2="159.9" stroke="#9a9a9a" stroke-width="0.9"/><line x1="501" y1="159.9" x2="505" y2="159.9" stroke="#555" stroke-width="0.8"/><text x="499.0" y="162.4" font-size="7" fill="#1a1a1a" text-anchor="end" stroke="#1a1a1a" stroke-width="0.18">0</text><line x1="501" y1="145.8" x2="505" y2="145.8" stroke="#555" stroke-width="0.8"/><text x="499.0" y="148.3" font-size="7" fill="#1a1a1a" text-anchor="end" stroke="#1a1a1a" stroke-width="0.18">2</text><line x1="501" y1="131.7" x2="505" y2="131.7" stroke="#555" stroke-width="0.8"/><text x="499.0" y="134.2" font-size="7" fill="#1a1a1a" text-anchor="end" stroke="#1a1a1a" stroke-width="0.18">4</text><line x1="501" y1="117.6" x2="505" y2="117.6" stroke="#555" stroke-width="0.8"/><text x="499.0" y="120.1" font-size="7" fill="#1a1a1a" text-anchor="end" stroke="#1a1a1a" stroke-width="0.18">6</text><line x1="501" y1="103.5" x2="505" y2="103.5" stroke="#555" stroke-width="0.8"/><text x="499.0" y="106.0" font-size="7" fill="#1a1a1a" text-anchor="end" stroke="#1a1a1a" stroke-width="0.18">8</text><line x1="505" y1="160.0" x2="683" y2="160.0" stroke="#1c1e48" stroke-width="0.9"/><line x1="505" y1="178.0" x2="505" y2="234.4" stroke="#9a9a9a" stroke-width="0.9"/><line x1="501" y1="234.4" x2="505" y2="234.4" stroke="#555" stroke-width="0.8"/><text x="499.0" y="236.9" font-size="7" fill="#1a1a1a" text-anchor="end" stroke="#1a1a1a" stroke-width="0.18">0</text><line x1="501" y1="220.3" x2="505" y2="220.3" stroke="#555" stroke-width="0.8"/><text x="499.0" y="222.8" font-size="7" fill="#1a1a1a" text-anchor="end" stroke="#1a1a1a" stroke-width="0.18">2</text><line x1="501" y1="206.2" x2="505" y2="206.2" stroke="#555" stroke-width="0.8"/><text x="499.0" y="208.7" font-size="7" fill="#1a1a1a" text-anchor="end" stroke="#1a1a1a" stroke-width="0.18">4</text><line x1="501" y1="192.1" x2="505" y2="192.1" stroke="#555" stroke-width="0.8"/><text x="499.0" y="194.6" font-size="7" fill="#1a1a1a" text-anchor="end" stroke="#1a1a1a" stroke-width="0.18">6</text><line x1="501" y1="178.0" x2="505" y2="178.0" stroke="#555" stroke-width="0.8"/><text x="499.0" y="180.5" font-size="7" fill="#1a1a1a" text-anchor="end" stroke="#1a1a1a" stroke-width="0.18">8</text><line x1="505" y1="234.5" x2="683" y2="234.5" stroke="#1c1e48" stroke-width="0.9"/><text x="509.0" y="26.8" font-size="8.7" fill="#444" textLength="42.7" lengthAdjust="spacingAndGlyphs" stroke="#444" stroke-width="0.2">GWAS−TJR</text><text x="509.0" y="101.4" font-size="7.8" fill="#3b87cf" stroke="#3b87cf" stroke-width="0.3">PBS sQTL</text><text x="509.0" y="175.9" font-size="7.8" fill="#dc9c28" stroke="#dc9c28" stroke-width="0.3">FN−f sQTL</text><text x="509.0" y="111.4" font-size="6.6" fill="#1a1a1a" stroke="#1a1a1a" stroke-width="0.15">PP4=0.786</text><text x="509.0" y="186.0" font-size="6.6" fill="#1a1a1a" stroke="#1a1a1a" stroke-width="0.15">PP4=0.172</text><text transform="translate(487.6,130.9) rotate(-90)" x="0" y="0" font-size="7.6" fill="#1a1a1a" stroke="#1a1a1a" stroke-width="0.15" text-anchor="middle" textLength="53" lengthAdjust="spacingAndGlyphs">-log10(p-value)</text><line x1="505" y1="273.4" x2="683" y2="273.4" stroke="#555" stroke-width="0.9"/><text x="0" y="320.8" font-size="12" font-weight="bold" fill="#000" stroke="#000" stroke-width="0.35">d</text><text x="60.0" y="320.8" font-size="9" fill="#111" font-weight="bold" textLength="106" lengthAdjust="spacingAndGlyphs">chr6:18399699-18401957</text><line x1="24" y1="339.4" x2="24" y2="398.0" stroke="#9a9a9a" stroke-width="0.9"/><line x1="20" y1="398.0" x2="24" y2="398.0" stroke="#555" stroke-width="0.8"/><text x="18.0" y="400.5" font-size="7" fill="#1a1a1a" text-anchor="end" stroke="#1a1a1a" stroke-width="0.18">0</text><line x1="20" y1="388.2" x2="24" y2="388.2" stroke="#555" stroke-width="0.8"/><text x="18.0" y="390.7" font-size="7" fill="#1a1a1a" text-anchor="end" stroke="#1a1a1a" stroke-width="0.18">2</text><line x1="20" y1="378.5" x2="24" y2="378.5" stroke="#555" stroke-width="0.8"/><text x="18.0" y="381.0" font-size="7" fill="#1a1a1a" text-anchor="end" stroke="#1a1a1a" stroke-width="0.18">4</text><line x1="20" y1="368.7" x2="24" y2="368.7" stroke="#555" stroke-width="0.8"/><text x="18.0" y="371.2" font-size="7" fill="#1a1a1a" text-anchor="end" stroke="#1a1a1a" stroke-width="0.18">6</text><line x1="20" y1="359.0" x2="24" y2="359.0" stroke="#555" stroke-width="0.8"/><text x="18.0" y="361.5" font-size="7" fill="#1a1a1a" text-anchor="end" stroke="#1a1a1a" stroke-width="0.18">8</text><line x1="20" y1="349.2" x2="24" y2="349.2" stroke="#555" stroke-width="0.8"/><text x="18.0" y="351.7" font-size="7" fill="#1a1a1a" text-anchor="end" stroke="#1a1a1a" stroke-width="0.18">10</text><line x1="20" y1="339.4" x2="24" y2="339.4" stroke="#555" stroke-width="0.8"/><text x="18.0" y="341.9" font-size="7" fill="#1a1a1a" text-anchor="end" stroke="#1a1a1a" stroke-width="0.18">12</text><line x1="24" y1="398.1" x2="202" y2="398.1" stroke="#1c1e48" stroke-width="0.9"/><line x1="24" y1="408.9" x2="24" y2="472.5" stroke="#9a9a9a" stroke-width="0.9"/><line x1="20" y1="472.5" x2="24" y2="472.5" stroke="#555" stroke-width="0.8"/><text x="18.0" y="475.0" font-size="7" fill="#1a1a1a" text-anchor="end" stroke="#1a1a1a" stroke-width="0.18">0</text><line x1="20" y1="461.9" x2="24" y2="461.9" stroke="#555" stroke-width="0.8"/><text x="18.0" y="464.4" font-size="7" fill="#1a1a1a" text-anchor="end" stroke="#1a1a1a" stroke-width="0.18">4</text><line x1="20" y1="451.3" x2="24" y2="451.3" stroke="#555" stroke-width="0.8"/><text x="18.0" y="453.8" font-size="7" fill="#1a1a1a" text-anchor="end" stroke="#1a1a1a" stroke-width="0.18">8</text><line x1="20" y1="440.7" x2="24" y2="440.7" stroke="#555" stroke-width="0.8"/><text x="18.0" y="443.2" font-size="7" fill="#1a1a1a" text-anchor="end" stroke="#1a1a1a" stroke-width="0.18">12</text><line x1="20" y1="430.1" x2="24" y2="430.1" stroke="#555" stroke-width="0.8"/><text x="18.0" y="432.6" font-size="7" fill="#1a1a1a" text-anchor="end" stroke="#1a1a1a" stroke-width="0.18">16</text><line x1="20" y1="419.5" x2="24" y2="419.5" stroke="#555" stroke-width="0.8"/><text x="18.0" y="422.0" font-size="7" fill="#1a1a1a" text-anchor="end" stroke="#1a1a1a" stroke-width="0.18">20</text><line x1="20" y1="408.9" x2="24" y2="408.9" stroke="#555" stroke-width="0.8"/><text x="18.0" y="411.4" font-size="7" fill="#1a1a1a" text-anchor="end" stroke="#1a1a1a" stroke-width="0.18">24</text><line x1="21.5" y1="467.2" x2="24" y2="467.2" stroke="#555" stroke-width="0.8"/><line x1="21.5" y1="456.6" x2="24" y2="456.6" stroke="#555" stroke-width="0.8"/><line x1="21.5" y1="446.0" x2="24" y2="446.0" stroke="#555" stroke-width="0.8"/><line x1="21.5" y1="435.4" x2="24" y2="435.4" stroke="#555" stroke-width="0.8"/><line x1="21.5" y1="424.8" x2="24" y2="424.8" stroke="#555" stroke-width="0.8"/><line x1="21.5" y1="414.2" x2="24" y2="414.2" stroke="#555" stroke-width="0.8"/><line x1="24" y1="472.6" x2="202" y2="472.6" stroke="#1c1e48" stroke-width="0.9"/><line x1="24" y1="483.4" x2="24" y2="547.0" stroke="#9a9a9a" stroke-width="0.9"/><line x1="20" y1="547.0" x2="24" y2="547.0" stroke="#555" stroke-width="0.8"/><text x="18.0" y="549.5" font-size="7" fill="#1a1a1a" text-anchor="end" stroke="#1a1a1a" stroke-width="0.18">0</text><line x1="20" y1="536.4" x2="24" y2="536.4" stroke="#555" stroke-width="0.8"/><text x="18.0" y="538.9" font-size="7" fill="#1a1a1a" text-anchor="end" stroke="#1a1a1a" stroke-width="0.18">4</text><line x1="20" y1="525.8" x2="24" y2="525.8" stroke="#555" stroke-width="0.8"/><text x="18.0" y="528.3" font-size="7" fill="#1a1a1a" text-anchor="end" stroke="#1a1a1a" stroke-width="0.18">8</text><line x1="20" y1="515.2" x2="24" y2="515.2" stroke="#555" stroke-width="0.8"/><text x="18.0" y="517.7" font-size="7" fill="#1a1a1a" text-anchor="end" stroke="#1a1a1a" stroke-width="0.18">12</text><line x1="20" y1="504.6" x2="24" y2="504.6" stroke="#555" stroke-width="0.8"/><text x="18.0" y="507.1" font-size="7" fill="#1a1a1a" text-anchor="end" stroke="#1a1a1a" stroke-width="0.18">16</text><line x1="20" y1="494.0" x2="24" y2="494.0" stroke="#555" stroke-width="0.8"/><text x="18.0" y="496.5" font-size="7" fill="#1a1a1a" text-anchor="end" stroke="#1a1a1a" stroke-width="0.18">20</text><line x1="20" y1="483.4" x2="24" y2="483.4" stroke="#555" stroke-width="0.8"/><text x="18.0" y="485.9" font-size="7" fill="#1a1a1a" text-anchor="end" stroke="#1a1a1a" stroke-width="0.18">24</text><line x1="21.5" y1="541.7" x2="24" y2="541.7" stroke="#555" stroke-width="0.8"/><line x1="21.5" y1="531.1" x2="24" y2="531.1" stroke="#555" stroke-width="0.8"/><line x1="21.5" y1="520.5" x2="24" y2="520.5" stroke="#555" stroke-width="0.8"/><line x1="21.5" y1="509.9" x2="24" y2="509.9" stroke="#555" stroke-width="0.8"/><line x1="21.5" y1="499.3" x2="24" y2="499.3" stroke="#555" stroke-width="0.8"/><line x1="21.5" y1="488.7" x2="24" y2="488.7" stroke="#555" stroke-width="0.8"/><line x1="24" y1="547.1" x2="202" y2="547.1" stroke="#1c1e48" stroke-width="0.9"/><text x="28.0" y="339.8" font-size="8.7" fill="#444" textLength="63.7" lengthAdjust="spacingAndGlyphs" stroke="#444" stroke-width="0.2">GWAS−FingerOA</text><text x="28.0" y="413.6" font-size="7.8" fill="#3b87cf" stroke="#3b87cf" stroke-width="0.3">PBS sQTL</text><text x="28.0" y="488.0" font-size="7.8" fill="#dc9c28" stroke="#dc9c28" stroke-width="0.3">FN−f sQTL</text><text x="28.0" y="425.0" font-size="6.6" fill="#1a1a1a" stroke="#1a1a1a" stroke-width="0.15">PP4=0.997</text><text x="28.0" y="499.3" font-size="6.6" fill="#1a1a1a" stroke="#1a1a1a" stroke-width="0.15">PP4=0.997</text><text transform="translate(4.8,443.5) rotate(-90)" x="0" y="0" font-size="7.6" fill="#1a1a1a" stroke="#1a1a1a" stroke-width="0.15" text-anchor="middle" textLength="53" lengthAdjust="spacingAndGlyphs">-log10(p-value)</text><line x1="24" y1="586.5" x2="202" y2="586.5" stroke="#555" stroke-width="0.9"/><text x="241" y="320.8" font-size="12" font-weight="bold" fill="#000" stroke="#000" stroke-width="0.35">e</text><text x="297.3" y="320.8" font-size="9" fill="#111" font-weight="bold" textLength="111.8" lengthAdjust="spacingAndGlyphs">chr16:69925484-69929448</text><line x1="263" y1="338.6" x2="263" y2="398.0" stroke="#9a9a9a" stroke-width="0.9"/><line x1="259" y1="398.0" x2="263" y2="398.0" stroke="#555" stroke-width="0.8"/><text x="257.0" y="400.5" font-size="7" fill="#1a1a1a" text-anchor="end" stroke="#1a1a1a" stroke-width="0.18">0</text><line x1="259" y1="389.5" x2="263" y2="389.5" stroke="#555" stroke-width="0.8"/><text x="257.0" y="392.0" font-size="7" fill="#1a1a1a" text-anchor="end" stroke="#1a1a1a" stroke-width="0.18">2</text><line x1="259" y1="381.0" x2="263" y2="381.0" stroke="#555" stroke-width="0.8"/><text x="257.0" y="383.5" font-size="7" fill="#1a1a1a" text-anchor="end" stroke="#1a1a1a" stroke-width="0.18">4</text><line x1="259" y1="372.6" x2="263" y2="372.6" stroke="#555" stroke-width="0.8"/><text x="257.0" y="375.1" font-size="7" fill="#1a1a1a" text-anchor="end" stroke="#1a1a1a" stroke-width="0.18">6</text><line x1="259" y1="364.1" x2="263" y2="364.1" stroke="#555" stroke-width="0.8"/><text x="257.0" y="366.6" font-size="7" fill="#1a1a1a" text-anchor="end" stroke="#1a1a1a" stroke-width="0.18">8</text><line x1="259" y1="355.6" x2="263" y2="355.6" stroke="#555" stroke-width="0.8"/><text x="257.0" y="358.1" font-size="7" fill="#1a1a1a" text-anchor="end" stroke="#1a1a1a" stroke-width="0.18">10</text><line x1="259" y1="347.1" x2="263" y2="347.1" stroke="#555" stroke-width="0.8"/><text x="257.0" y="349.6" font-size="7" fill="#1a1a1a" text-anchor="end" stroke="#1a1a1a" stroke-width="0.18">12</text><line x1="259" y1="338.6" x2="263" y2="338.6" stroke="#555" stroke-width="0.8"/><text x="257.0" y="341.1" font-size="7" fill="#1a1a1a" text-anchor="end" stroke="#1a1a1a" stroke-width="0.18">14</text><line x1="263" y1="398.1" x2="441" y2="398.1" stroke="#1c1e48" stroke-width="0.9"/><line x1="263" y1="408.7" x2="263" y2="472.5" stroke="#9a9a9a" stroke-width="0.9"/><line x1="259" y1="472.5" x2="263" y2="472.5" stroke="#555" stroke-width="0.8"/><text x="257.0" y="475.0" font-size="7" fill="#1a1a1a" text-anchor="end" stroke="#1a1a1a" stroke-width="0.18">0</text><line x1="259" y1="459.7" x2="263" y2="459.7" stroke="#555" stroke-width="0.8"/><text x="257.0" y="462.2" font-size="7" fill="#1a1a1a" text-anchor="end" stroke="#1a1a1a" stroke-width="0.18">2</text><line x1="259" y1="447.0" x2="263" y2="447.0" stroke="#555" stroke-width="0.8"/><text x="257.0" y="449.5" font-size="7" fill="#1a1a1a" text-anchor="end" stroke="#1a1a1a" stroke-width="0.18">4</text><line x1="259" y1="434.2" x2="263" y2="434.2" stroke="#555" stroke-width="0.8"/><text x="257.0" y="436.7" font-size="7" fill="#1a1a1a" text-anchor="end" stroke="#1a1a1a" stroke-width="0.18">6</text><line x1="259" y1="421.5" x2="263" y2="421.5" stroke="#555" stroke-width="0.8"/><text x="257.0" y="424.0" font-size="7" fill="#1a1a1a" text-anchor="end" stroke="#1a1a1a" stroke-width="0.18">8</text><line x1="259" y1="408.7" x2="263" y2="408.7" stroke="#555" stroke-width="0.8"/><text x="257.0" y="411.2" font-size="7" fill="#1a1a1a" text-anchor="end" stroke="#1a1a1a" stroke-width="0.18">10</text><line x1="263" y1="472.6" x2="441" y2="472.6" stroke="#1c1e48" stroke-width="0.9"/><line x1="263" y1="483.2" x2="263" y2="547.0" stroke="#9a9a9a" stroke-width="0.9"/><line x1="259" y1="547.0" x2="263" y2="547.0" stroke="#555" stroke-width="0.8"/><text x="257.0" y="549.5" font-size="7" fill="#1a1a1a" text-anchor="end" stroke="#1a1a1a" stroke-width="0.18">0</text><line x1="259" y1="534.2" x2="263" y2="534.2" stroke="#555" stroke-width="0.8"/><text x="257.0" y="536.7" font-size="7" fill="#1a1a1a" text-anchor="end" stroke="#1a1a1a" stroke-width="0.18">2</text><line x1="259" y1="521.5" x2="263" y2="521.5" stroke="#555" stroke-width="0.8"/><text x="257.0" y="524.0" font-size="7" fill="#1a1a1a" text-anchor="end" stroke="#1a1a1a" stroke-width="0.18">4</text><line x1="259" y1="508.7" x2="263" y2="508.7" stroke="#555" stroke-width="0.8"/><text x="257.0" y="511.2" font-size="7" fill="#1a1a1a" text-anchor="end" stroke="#1a1a1a" stroke-width="0.18">6</text><line x1="259" y1="496.0" x2="263" y2="496.0" stroke="#555" stroke-width="0.8"/><text x="257.0" y="498.5" font-size="7" fill="#1a1a1a" text-anchor="end" stroke="#1a1a1a" stroke-width="0.18">8</text><line x1="259" y1="483.2" x2="263" y2="483.2" stroke="#555" stroke-width="0.8"/><text x="257.0" y="485.7" font-size="7" fill="#1a1a1a" text-anchor="end" stroke="#1a1a1a" stroke-width="0.18">10</text><line x1="263" y1="547.1" x2="441" y2="547.1" stroke="#1c1e48" stroke-width="0.9"/><text x="268.0" y="339.8" font-size="8.7" fill="#444" textLength="59.8" lengthAdjust="spacingAndGlyphs" stroke="#444" stroke-width="0.2">GWAS−KneeOA</text><text x="267.0" y="413.6" font-size="7.8" fill="#3b87cf" stroke="#3b87cf" stroke-width="0.3">PBS sQTL</text><text x="267.0" y="488.0" font-size="7.8" fill="#dc9c28" stroke="#dc9c28" stroke-width="0.3">FN−f sQTL</text><text x="267.0" y="425.0" font-size="6.6" fill="#1a1a1a" stroke="#1a1a1a" stroke-width="0.15">PP4=0.714</text><text x="267.0" y="499.3" font-size="6.6" fill="#1a1a1a" stroke="#1a1a1a" stroke-width="0.15">PP4=0.483</text><text transform="translate(245.6,443.5) rotate(-90)" x="0" y="0" font-size="7.6" fill="#1a1a1a" stroke="#1a1a1a" stroke-width="0.15" text-anchor="middle" textLength="53" lengthAdjust="spacingAndGlyphs">-log10(p-value)</text><line x1="263" y1="586.5" x2="441" y2="586.5" stroke="#555" stroke-width="0.9"/><text x="482.5" y="320.8" font-size="12" font-weight="bold" fill="#000" stroke="#000" stroke-width="0.35">f</text><text x="544.0" y="320.8" font-size="9" fill="#111" font-weight="bold" textLength="116.2" lengthAdjust="spacingAndGlyphs">chr1:183978520-184037581</text><line x1="505" y1="334.5" x2="505" y2="398.0" stroke="#9a9a9a" stroke-width="0.9"/><line x1="501" y1="398.0" x2="505" y2="398.0" stroke="#555" stroke-width="0.8"/><text x="499.0" y="400.5" font-size="7" fill="#1a1a1a" text-anchor="end" stroke="#1a1a1a" stroke-width="0.18">0</text><line x1="501" y1="390.9" x2="505" y2="390.9" stroke="#555" stroke-width="0.8"/><text x="499.0" y="393.4" font-size="7" fill="#1a1a1a" text-anchor="end" stroke="#1a1a1a" stroke-width="0.18">2</text><line x1="501" y1="383.9" x2="505" y2="383.9" stroke="#555" stroke-width="0.8"/><text x="499.0" y="386.4" font-size="7" fill="#1a1a1a" text-anchor="end" stroke="#1a1a1a" stroke-width="0.18">4</text><line x1="501" y1="376.8" x2="505" y2="376.8" stroke="#555" stroke-width="0.8"/><text x="499.0" y="379.3" font-size="7" fill="#1a1a1a" text-anchor="end" stroke="#1a1a1a" stroke-width="0.18">6</text><line x1="501" y1="369.8" x2="505" y2="369.8" stroke="#555" stroke-width="0.8"/><text x="499.0" y="372.3" font-size="7" fill="#1a1a1a" text-anchor="end" stroke="#1a1a1a" stroke-width="0.18">8</text><line x1="501" y1="362.7" x2="505" y2="362.7" stroke="#555" stroke-width="0.8"/><text x="499.0" y="365.2" font-size="7" fill="#1a1a1a" text-anchor="end" stroke="#1a1a1a" stroke-width="0.18">10</text><line x1="501" y1="355.6" x2="505" y2="355.6" stroke="#555" stroke-width="0.8"/><text x="499.0" y="358.1" font-size="7" fill="#1a1a1a" text-anchor="end" stroke="#1a1a1a" stroke-width="0.18">12</text><line x1="501" y1="348.6" x2="505" y2="348.6" stroke="#555" stroke-width="0.8"/><text x="499.0" y="351.1" font-size="7" fill="#1a1a1a" text-anchor="end" stroke="#1a1a1a" stroke-width="0.18">14</text><line x1="501" y1="341.5" x2="505" y2="341.5" stroke="#555" stroke-width="0.8"/><text x="499.0" y="344.0" font-size="7" fill="#1a1a1a" text-anchor="end" stroke="#1a1a1a" stroke-width="0.18">16</text><line x1="501" y1="334.5" x2="505" y2="334.5" stroke="#555" stroke-width="0.8"/><text x="499.0" y="337.0" font-size="7" fill="#1a1a1a" text-anchor="end" stroke="#1a1a1a" stroke-width="0.18">18</text><line x1="505" y1="398.1" x2="683" y2="398.1" stroke="#1c1e48" stroke-width="0.9"/><line x1="505" y1="415.7" x2="505" y2="472.5" stroke="#9a9a9a" stroke-width="0.9"/><line x1="501" y1="472.5" x2="505" y2="472.5" stroke="#555" stroke-width="0.8"/><text x="499.0" y="475.0" font-size="7" fill="#1a1a1a" text-anchor="end" stroke="#1a1a1a" stroke-width="0.18">0</text><line x1="501" y1="458.3" x2="505" y2="458.3" stroke="#555" stroke-width="0.8"/><text x="499.0" y="460.8" font-size="7" fill="#1a1a1a" text-anchor="end" stroke="#1a1a1a" stroke-width="0.18">2</text><line x1="501" y1="444.1" x2="505" y2="444.1" stroke="#555" stroke-width="0.8"/><text x="499.0" y="446.6" font-size="7" fill="#1a1a1a" text-anchor="end" stroke="#1a1a1a" stroke-width="0.18">4</text><line x1="501" y1="429.9" x2="505" y2="429.9" stroke="#555" stroke-width="0.8"/><text x="499.0" y="432.4" font-size="7" fill="#1a1a1a" text-anchor="end" stroke="#1a1a1a" stroke-width="0.18">6</text><line x1="501" y1="415.7" x2="505" y2="415.7" stroke="#555" stroke-width="0.8"/><text x="499.0" y="418.2" font-size="7" fill="#1a1a1a" text-anchor="end" stroke="#1a1a1a" stroke-width="0.18">8</text><line x1="505" y1="472.6" x2="683" y2="472.6" stroke="#1c1e48" stroke-width="0.9"/><line x1="505" y1="490.6" x2="505" y2="547.0" stroke="#9a9a9a" stroke-width="0.9"/><line x1="501" y1="547.0" x2="505" y2="547.0" stroke="#555" stroke-width="0.8"/><text x="499.0" y="549.5" font-size="7" fill="#1a1a1a" text-anchor="end" stroke="#1a1a1a" stroke-width="0.18">0</text><line x1="501" y1="532.9" x2="505" y2="532.9" stroke="#555" stroke-width="0.8"/><text x="499.0" y="535.4" font-size="7" fill="#1a1a1a" text-anchor="end" stroke="#1a1a1a" stroke-width="0.18">2</text><line x1="501" y1="518.8" x2="505" y2="518.8" stroke="#555" stroke-width="0.8"/><text x="499.0" y="521.3" font-size="7" fill="#1a1a1a" text-anchor="end" stroke="#1a1a1a" stroke-width="0.18">4</text><line x1="501" y1="504.7" x2="505" y2="504.7" stroke="#555" stroke-width="0.8"/><text x="499.0" y="507.2" font-size="7" fill="#1a1a1a" text-anchor="end" stroke="#1a1a1a" stroke-width="0.18">6</text><line x1="501" y1="490.6" x2="505" y2="490.6" stroke="#555" stroke-width="0.8"/><text x="499.0" y="493.1" font-size="7" fill="#1a1a1a" text-anchor="end" stroke="#1a1a1a" stroke-width="0.18">8</text><line x1="505" y1="547.1" x2="683" y2="547.1" stroke="#1c1e48" stroke-width="0.9"/><text x="509.0" y="339.8" font-size="8.7" fill="#444" textLength="44.1" lengthAdjust="spacingAndGlyphs" stroke="#444" stroke-width="0.2">GWAS−THR</text><text x="509.0" y="413.6" font-size="7.8" fill="#3b87cf" stroke="#3b87cf" stroke-width="0.3">PBS sQTL</text><text x="509.0" y="488.0" font-size="7.8" fill="#dc9c28" stroke="#dc9c28" stroke-width="0.3">FN−f sQTL</text><text x="509.0" y="425.0" font-size="6.6" fill="#1a1a1a" stroke="#1a1a1a" stroke-width="0.15">PP4=0.921</text><text x="509.0" y="499.3" font-size="6.6" fill="#1a1a1a" stroke="#1a1a1a" stroke-width="0.15">PP4=0.141</text><text transform="translate(487.6,443.5) rotate(-90)" x="0" y="0" font-size="7.6" fill="#1a1a1a" stroke="#1a1a1a" stroke-width="0.15" text-anchor="middle" textLength="53" lengthAdjust="spacingAndGlyphs">-log10(p-value)</text><line x1="505" y1="586.5" x2="683" y2="586.5" stroke="#555" stroke-width="0.9"/><text x="181.0" y="8.8" font-size="7.4" fill="#1a1a1a" stroke="#1a1a1a" stroke-width="0.15">LD r²</text><rect x="181.7" y="12.00" width="7" height="7.46" fill="#dd3833"/><text x="192.1" y="18.0" font-size="6.6" fill="#1a1a1a" textLength="26" lengthAdjust="spacingAndGlyphs" stroke="#1a1a1a" stroke-width="0.12">0.8 − 1.0</text><rect x="181.7" y="19.46" width="7" height="7.46" fill="#eea63e"/><text x="192.1" y="25.5" font-size="6.6" fill="#1a1a1a" textLength="26" lengthAdjust="spacingAndGlyphs" stroke="#1a1a1a" stroke-width="0.12">0.6 − 0.8</text><rect x="181.7" y="26.92" width="7" height="7.46" fill="#449c4e"/><text x="192.1" y="33.0" font-size="6.6" fill="#1a1a1a" textLength="26" lengthAdjust="spacingAndGlyphs" stroke="#1a1a1a" stroke-width="0.12">0.4 − 0.6</text><rect x="181.7" y="34.38" width="7" height="7.46" fill="#9dcdef"/><text x="192.1" y="40.4" font-size="6.6" fill="#1a1a1a" textLength="26" lengthAdjust="spacingAndGlyphs" stroke="#1a1a1a" stroke-width="0.12">0.2 − 0.4</text><rect x="181.7" y="41.84" width="7" height="7.46" fill="#232a79"/><text x="192.1" y="47.9" font-size="6.6" fill="#1a1a1a" textLength="26" lengthAdjust="spacingAndGlyphs" stroke="#1a1a1a" stroke-width="0.12">0.0 − 0.2</text><path d="M158.8 91.4L161.9 96.8L155.7 96.8Z" fill="#fff" stroke="#111" stroke-width="1.0"/><text x="166.1" y="96.7" font-size="7.1" fill="#1a1a1a" textLength="34.4" lengthAdjust="spacingAndGlyphs" stroke="#1a1a1a" stroke-width="0.12">rs3774354</text><text x="182.0" y="103.1" font-size="7.1" fill="#1a1a1a" text-anchor="middle" textLength="23.2" lengthAdjust="spacingAndGlyphs" stroke="#1a1a1a" stroke-width="0.12">(GWAS)</text><path d="M158.8 109.0L162.2 112.4L158.8 115.8L155.4 112.4Z" fill="#fff" stroke="#111" stroke-width="1.0"/><text x="166.1" y="114.6" font-size="7.1" fill="#1a1a1a" textLength="34.4" lengthAdjust="spacingAndGlyphs" stroke="#1a1a1a" stroke-width="0.12">rs7628578</text><text x="182.0" y="120.6" font-size="7.1" fill="#1a1a1a" text-anchor="middle" textLength="20" lengthAdjust="spacingAndGlyphs" stroke="#1a1a1a" stroke-width="0.12">(sQTL)</text><path d="M398.4 91.1L401.5 96.5L395.3 96.5Z" fill="#fff" stroke="#111" stroke-width="1.0"/><text x="405.0" y="96.5" font-size="7.1" fill="#1a1a1a" textLength="38.5" lengthAdjust="spacingAndGlyphs" stroke="#1a1a1a" stroke-width="0.12">rs12160491</text><text x="405.0" y="103.0" font-size="7.1" fill="#1a1a1a" textLength="23" lengthAdjust="spacingAndGlyphs" stroke="#1a1a1a" stroke-width="0.12">(GWAS)</text><path d="M398.4 109.0L401.8 112.4L398.4 115.8L395.0 112.4Z" fill="#fff" stroke="#111" stroke-width="1.0"/><text x="405.0" y="114.8" font-size="7.1" fill="#1a1a1a" textLength="38.5" lengthAdjust="spacingAndGlyphs" stroke="#1a1a1a" stroke-width="0.12">rs13057823</text><text x="405.0" y="121.2" font-size="7.1" fill="#1a1a1a" textLength="35" lengthAdjust="spacingAndGlyphs" stroke="#1a1a1a" stroke-width="0.12">(PBS-sQTL)</text><path d="M398.4 164.3L401.5 169.7L395.3 169.7Z" fill="#fff" stroke="#111" stroke-width="1.0"/><text x="405.0" y="169.6" font-size="7.1" fill="#1a1a1a" textLength="38.5" lengthAdjust="spacingAndGlyphs" stroke="#1a1a1a" stroke-width="0.12">rs12160491</text><text x="405.0" y="176.3" font-size="7.1" fill="#1a1a1a" textLength="23" lengthAdjust="spacingAndGlyphs" stroke="#1a1a1a" stroke-width="0.12">(GWAS)</text><path d="M398.4 182.0L401.8 185.4L398.4 188.8L395.0 185.4Z" fill="#fff" stroke="#111" stroke-width="1.0"/><text x="405.0" y="187.8" font-size="7.1" fill="#1a1a1a" textLength="34.5" lengthAdjust="spacingAndGlyphs" stroke="#1a1a1a" stroke-width="0.12">rs2246503</text><text x="405.0" y="194.8" font-size="7.1" fill="#1a1a1a" textLength="35" lengthAdjust="spacingAndGlyphs" stroke="#1a1a1a" stroke-width="0.12">(FN-fsQTL)</text><path d="M640.0 91.1L643.1 96.5L636.9 96.5Z" fill="#fff" stroke="#111" stroke-width="1.0"/><text x="647.4" y="96.5" font-size="7.1" fill="#1a1a1a" textLength="34.6" lengthAdjust="spacingAndGlyphs" stroke="#1a1a1a" stroke-width="0.12">rs9981884</text><text x="663.5" y="103.0" font-size="7.1" fill="#1a1a1a" text-anchor="middle" textLength="23.2" lengthAdjust="spacingAndGlyphs" stroke="#1a1a1a" stroke-width="0.12">(GWAS)</text><path d="M640.0 108.6L643.4 112.0L640.0 115.4L636.6 112.0Z" fill="#fff" stroke="#111" stroke-width="1.0"/><text x="647.4" y="114.4" font-size="7.1" fill="#1a1a1a" textLength="34.6" lengthAdjust="spacingAndGlyphs" stroke="#1a1a1a" stroke-width="0.12">rs2249666</text><text x="663.5" y="121.0" font-size="7.1" fill="#1a1a1a" text-anchor="middle" textLength="20" lengthAdjust="spacingAndGlyphs" stroke="#1a1a1a" stroke-width="0.12">(sQTL)</text><path d="M158.7 404.1L161.8 409.5L155.6 409.5Z" fill="#fff" stroke="#111" stroke-width="1.0"/><text x="166.7" y="409.4" font-size="7.1" fill="#1a1a1a" textLength="33.9" lengthAdjust="spacingAndGlyphs" stroke="#1a1a1a" stroke-width="0.12">rs9396861</text><text x="181.4" y="416.3" font-size="7.1" fill="#1a1a1a" text-anchor="middle" textLength="23.2" lengthAdjust="spacingAndGlyphs" stroke="#1a1a1a" stroke-width="0.12">(GWAS)</text><path d="M158.2 423.7L161.6 427.1L158.2 430.5L154.8 427.1Z" fill="#fff" stroke="#111" stroke-width="1.0"/><text x="165.5" y="429.4" font-size="7.1" fill="#1a1a1a" textLength="34.4" lengthAdjust="spacingAndGlyphs" stroke="#1a1a1a" stroke-width="0.12">rs1886248</text><text x="181.0" y="436.6" font-size="7.1" fill="#1a1a1a" text-anchor="middle" textLength="20" lengthAdjust="spacingAndGlyphs" stroke="#1a1a1a" stroke-width="0.12">(sQTL)</text><path d="M398.7 404.1L401.8 409.5L395.6 409.5Z" fill="#fff" stroke="#111" stroke-width="1.0"/><text x="404.1" y="409.4" font-size="7.1" fill="#1a1a1a" textLength="38.7" lengthAdjust="spacingAndGlyphs" stroke="#1a1a1a" stroke-width="0.12">rs34195470</text><text x="421.6" y="416.3" font-size="7.1" fill="#1a1a1a" text-anchor="middle" textLength="23.2" lengthAdjust="spacingAndGlyphs" stroke="#1a1a1a" stroke-width="0.12">(GWAS)</text><path d="M399.0 423.7L402.4 427.1L399.0 430.5L395.6 427.1Z" fill="#fff" stroke="#111" stroke-width="1.0"/><text x="407.0" y="429.4" font-size="7.1" fill="#1a1a1a" textLength="34.3" lengthAdjust="spacingAndGlyphs" stroke="#1a1a1a" stroke-width="0.12">rs7192245</text><text x="421.8" y="436.6" font-size="7.1" fill="#1a1a1a" text-anchor="middle" textLength="20" lengthAdjust="spacingAndGlyphs" stroke="#1a1a1a" stroke-width="0.12">(sQTL)</text><path d="M639.7 404.1L642.8 409.5L636.6 409.5Z" fill="#fff" stroke="#111" stroke-width="1.0"/><text x="648.9" y="409.4" font-size="7.1" fill="#1a1a1a" textLength="33.6" lengthAdjust="spacingAndGlyphs" stroke="#1a1a1a" stroke-width="0.12">rs1327123</text><text x="664.0" y="416.3" font-size="7.1" fill="#1a1a1a" text-anchor="middle" textLength="23.2" lengthAdjust="spacingAndGlyphs" stroke="#1a1a1a" stroke-width="0.12">(GWAS)</text><path d="M639.3 423.7L642.7 427.1L639.3 430.5L635.9 427.1Z" fill="#fff" stroke="#111" stroke-width="1.0"/><text x="647.0" y="429.4" font-size="7.1" fill="#1a1a1a" textLength="38" lengthAdjust="spacingAndGlyphs" stroke="#1a1a1a" stroke-width="0.12">rs74767794</text><text x="664.4" y="436.6" font-size="7.1" fill="#1a1a1a" text-anchor="middle" textLength="20" lengthAdjust="spacingAndGlyphs" stroke="#1a1a1a" stroke-width="0.12">(sQTL)</text><rect x="23.6" y="248.1" width="2.2" height="5.4" fill="#bdbdbd"/><rect x="28" y="248.1" width="1.6" height="5.4" fill="#bdbdbd"/><rect x="30.8" y="248.1" width="2.0" height="5.4" fill="#bdbdbd"/><line x1="41.9" y1="250.8" x2="63.8" y2="250.8" stroke="#bdbdbd" stroke-width="1"/><rect x="41.9" y="248.1" width="0.9" height="5.4" fill="#bdbdbd"/><rect x="44" y="248.1" width="19.8" height="5.4" fill="#bdbdbd"/><rect x="66.7" y="248.1" width="1.3" height="5.4" fill="#bdbdbd"/><line x1="66.7" y1="250.8" x2="79.9" y2="250.8" stroke="#bdbdbd" stroke-width="1"/><rect x="79.4" y="249.1" width="1.0" height="3.5" fill="#bdbdbd"/><rect x="110" y="248.1" width="3.5" height="5.4" fill="#bdbdbd"/><rect x="114.5" y="248.1" width="1.8" height="5.4" fill="#bdbdbd"/><rect x="117.5" y="248.1" width="1.0" height="5.4" fill="#bdbdbd"/><rect x="139.2" y="248.1" width="9.9" height="5.4" fill="#bdbdbd"/><rect x="153.0" y="249.8" width="1.0" height="2" fill="#bdbdbd"/><rect x="25.8" y="255.6" width="2.7" height="5.4" fill="#bdbdbd"/><rect x="35.3" y="255.6" width="1.5" height="5.4" fill="#bdbdbd"/><rect x="38.3" y="255.6" width="4.3" height="5.4" fill="#bdbdbd"/><rect x="63" y="255.6" width="3.4" height="5.4" fill="#bdbdbd"/><line x1="68.9" y1="258.3" x2="111" y2="258.3" stroke="#33a3dc" stroke-width="1.5"/><rect x="68.9" y="255.6" width="4.6" height="5.4" fill="#33a3dc"/><rect x="74.8" y="255.6" width="1.3" height="5.4" fill="#33a3dc"/><rect x="76.8" y="255.6" width="1.3" height="5.4" fill="#33a3dc"/><rect x="79.3" y="255.6" width="1.3" height="5.4" fill="#33a3dc"/><rect x="83.8" y="255.6" width="1.3" height="5.4" fill="#33a3dc"/><rect x="85.8" y="255.6" width="1.3" height="5.4" fill="#33a3dc"/><rect x="88.3" y="255.6" width="1.3" height="5.4" fill="#33a3dc"/><rect x="90.8" y="255.6" width="1.3" height="5.4" fill="#33a3dc"/><rect x="92.8" y="255.6" width="1.3" height="5.4" fill="#33a3dc"/><rect x="95.3" y="255.6" width="1.3" height="5.4" fill="#33a3dc"/><rect x="97.8" y="255.6" width="1.3" height="5.4" fill="#33a3dc"/><rect x="99.8" y="255.6" width="1.3" height="5.4" fill="#33a3dc"/><rect x="101.8" y="255.6" width="1.3" height="5.4" fill="#33a3dc"/><rect x="103.8" y="255.6" width="1.3" height="5.4" fill="#33a3dc"/><rect x="105.8" y="255.6" width="1.3" height="5.4" fill="#33a3dc"/><rect x="107.8" y="255.6" width="1.3" height="5.4" fill="#33a3dc"/><path d="M109.5 255.60000000000002L112.5 258.3L109.5 261.0Z" fill="#33a3dc"/><rect x="113.6" y="255.6" width="1.8" height="5.4" fill="#bdbdbd"/><rect x="116.4" y="255.6" width="2.0" height="5.4" fill="#bdbdbd"/><line x1="113.6" y1="258.3" x2="137.7" y2="258.3" stroke="#bdbdbd" stroke-width="1"/><rect x="127.5" y="255.6" width="3.5" height="5.4" fill="#bdbdbd"/><rect x="132" y="255.6" width="5.7" height="5.4" fill="#bdbdbd"/><rect x="150.1" y="255.6" width="12.9" height="5.4" fill="#bdbdbd"/><line x1="163" y1="258.3" x2="175" y2="258.3" stroke="#bdbdbd" stroke-width="1"/><rect x="174.5" y="255.6" width="1.0" height="5.4" fill="#bdbdbd"/><rect x="176.4" y="255.6" width="7.4" height="5.4" fill="#bdbdbd"/><rect x="184.8" y="255.6" width="2.2" height="5.4" fill="#bdbdbd"/><line x1="187" y1="258.3" x2="201.2" y2="258.3" stroke="#bdbdbd" stroke-width="1"/><rect x="189.5" y="255.6" width="1.0" height="5.4" fill="#bdbdbd"/><rect x="193.5" y="255.6" width="1.0" height="5.4" fill="#bdbdbd"/><rect x="197.0" y="255.6" width="1.0" height="5.4" fill="#bdbdbd"/><rect x="200.5" y="255.6" width="1.0" height="5.4" fill="#bdbdbd"/><text x="37.5" y="245.5" font-size="6.6" fill="#a8a8a8" font-style="italic" textLength="20.5" lengthAdjust="spacingAndGlyphs">NISCH</text><text x="61.6" y="245.5" font-size="6.6" fill="#a8a8a8" font-style="italic" textLength="22.6" lengthAdjust="spacingAndGlyphs">UQCC5</text><text x="104.0" y="245.5" font-size="6.6" fill="#a8a8a8" font-style="italic" textLength="16.5" lengthAdjust="spacingAndGlyphs">GNL3</text><text x="138.5" y="245.5" font-size="6.6" fill="#a8a8a8" font-style="italic" textLength="16" lengthAdjust="spacingAndGlyphs">ITIH3</text><text x="31.0" y="269.3" font-size="6.6" fill="#a8a8a8" font-style="italic" textLength="17.5" lengthAdjust="spacingAndGlyphs">TNNC1</text><text x="49.2" y="269.3" font-size="6.6" fill="#a8a8a8" font-style="italic" textLength="29.2" lengthAdjust="spacingAndGlyphs">NT5DC2</text><text x="79.1" y="269.3" font-size="6.6" fill="#33a3dc" font-style="italic" textLength="21.9" lengthAdjust="spacingAndGlyphs">PBRM1</text><text x="119.5" y="269.3" font-size="6.6" fill="#a8a8a8" font-style="italic" textLength="16.8" lengthAdjust="spacingAndGlyphs">NEK4</text><text x="145.8" y="269.3" font-size="6.6" fill="#a8a8a8" font-style="italic" textLength="15.3" lengthAdjust="spacingAndGlyphs">ITIH4</text><text x="176.4" y="269.3" font-size="6.6" fill="#a8a8a8" font-style="italic" textLength="25.6" lengthAdjust="spacingAndGlyphs">SFMBT1</text><text x="257.4" y="252.6" font-size="6" fill="#b0b0b0" text-anchor="middle">+</text><text x="257.4" y="262.5" font-size="6" fill="#b0b0b0" text-anchor="middle">–</text><line x1="267.2" y1="250.8" x2="270.4" y2="250.8" stroke="#bdbdbd" stroke-width="1"/><rect x="268.6" y="248.1" width="1.8" height="5.4" fill="#bdbdbd"/><path d="M268.8 248.10000000000002L266.8 250.8L268.8 253.5Z" fill="#bdbdbd"/><rect x="283.6" y="248.1" width="21.1" height="5.4" fill="#bdbdbd"/><line x1="307" y1="250.8" x2="342.7" y2="250.8" stroke="#bdbdbd" stroke-width="1"/><rect x="307" y="248.1" width="2.5" height="5.4" fill="#bdbdbd"/><rect x="311.0" y="248.1" width="1.0" height="5.4" fill="#bdbdbd"/><rect x="313.5" y="248.1" width="1.0" height="5.4" fill="#bdbdbd"/><rect x="316.0" y="248.1" width="1.0" height="5.4" fill="#bdbdbd"/><rect x="318.5" y="248.1" width="1.0" height="5.4" fill="#bdbdbd"/><rect x="321.0" y="248.1" width="1.0" height="5.4" fill="#bdbdbd"/><rect x="323.5" y="248.1" width="1.0" height="5.4" fill="#bdbdbd"/><rect x="326.0" y="248.1" width="1.0" height="5.4" fill="#bdbdbd"/><rect x="328.5" y="248.1" width="1.0" height="5.4" fill="#bdbdbd"/><rect x="331.0" y="248.1" width="1.0" height="5.4" fill="#bdbdbd"/><rect x="333.5" y="248.1" width="1.0" height="5.4" fill="#bdbdbd"/><rect x="336" y="248.1" width="6.7" height="5.4" fill="#bdbdbd"/><rect x="353" y="248.1" width="3.7" height="5.4" fill="#33a3dc"/><rect x="358.4" y="248.1" width="1.0" height="5.4" fill="#bdbdbd"/><rect x="367.6" y="248.1" width="14.6" height="5.4" fill="#bdbdbd"/><rect x="387.3" y="248.1" width="13.2" height="5.4" fill="#bdbdbd"/><line x1="404" y1="250.8" x2="435.5" y2="250.8" stroke="#bdbdbd" stroke-width="1"/><rect x="404" y="248.1" width="4.0" height="5.4" fill="#bdbdbd"/><rect x="409.5" y="248.1" width="1.0" height="5.4" fill="#bdbdbd"/><rect x="412.0" y="248.1" width="1.0" height="5.4" fill="#bdbdbd"/><rect x="426.5" y="248.1" width="1.0" height="5.4" fill="#bdbdbd"/><rect x="435.0" y="248.1" width="1.0" height="5.4" fill="#bdbdbd"/><rect x="440.1" y="248.1" width="1.0" height="5.4" fill="#bdbdbd"/><line x1="270" y1="258.3" x2="275" y2="258.3" stroke="#bdbdbd" stroke-width="1"/><rect x="269.9" y="256.1" width="1.3" height="4.5" fill="#bdbdbd"/><rect x="273.9" y="256.1" width="1.3" height="4.5" fill="#bdbdbd"/><line x1="295" y1="258.3" x2="302" y2="258.3" stroke="#bdbdbd" stroke-width="1"/><rect x="295.5" y="257.1" width="1.0" height="2.5" fill="#bdbdbd"/><rect x="298.0" y="257.1" width="1.0" height="2.5" fill="#bdbdbd"/><rect x="300.5" y="257.1" width="1.0" height="2.5" fill="#bdbdbd"/><rect x="361.8" y="256.2" width="6.6" height="4.2" fill="#bdbdbd"/><rect x="401.2" y="255.6" width="3.7" height="5.4" fill="#bdbdbd"/><rect x="410" y="255.6" width="6.5" height="5.4" fill="#bdbdbd"/><text x="280.0" y="245.5" font-size="6.6" fill="#a8a8a8" font-style="italic" textLength="18" lengthAdjust="spacingAndGlyphs">GGA1</text><text x="300.5" y="245.5" font-size="6.6" fill="#a8a8a8" font-style="italic" textLength="23.2" lengthAdjust="spacingAndGlyphs">LGALS1</text><text x="346.8" y="245.5" font-size="6.6" fill="#33a3dc" font-style="italic" textLength="17.9" lengthAdjust="spacingAndGlyphs">GCAT</text><text x="366.0" y="245.5" font-size="6.6" fill="#a8a8a8" font-style="italic" textLength="17" lengthAdjust="spacingAndGlyphs">EIF3L</text><text x="407.0" y="245.5" font-size="6.6" fill="#a8a8a8" font-style="italic" textLength="24" lengthAdjust="spacingAndGlyphs">POLR2F</text><text x="283.6" y="269.3" font-size="6.6" fill="#a8a8a8" font-style="italic" textLength="29.2" lengthAdjust="spacingAndGlyphs">PDXP−DT</text><text x="349.4" y="269.3" font-size="6.6" fill="#a8a8a8" font-style="italic" textLength="30.6" lengthAdjust="spacingAndGlyphs">ANKRD54</text><text x="403.4" y="269.3" font-size="6.6" fill="#a8a8a8" font-style="italic" textLength="20.4" lengthAdjust="spacingAndGlyphs">SOX10</text><text x="499.3" y="252.6" font-size="6" fill="#b0b0b0" text-anchor="middle">+</text><text x="499.3" y="262.5" font-size="6" fill="#b0b0b0" text-anchor="middle">–</text><line x1="609.8" y1="250.8" x2="613.5" y2="250.8" stroke="#bdbdbd" stroke-width="1"/><rect x="609.3" y="249.8" width="1.0" height="2" fill="#bdbdbd"/><rect x="613.0" y="249.8" width="1.0" height="2" fill="#bdbdbd"/><line x1="640.5" y1="250.8" x2="682" y2="250.8" stroke="#bdbdbd" stroke-width="1"/><rect x="640.5" y="248.1" width="2.5" height="5.4" fill="#bdbdbd"/><rect x="644.5" y="248.1" width="3.0" height="5.4" fill="#bdbdbd"/><rect x="651.5" y="248.1" width="2.5" height="5.4" fill="#bdbdbd"/><rect x="658.5" y="248.1" width="1.0" height="5.4" fill="#bdbdbd"/><rect x="665.5" y="248.1" width="1.0" height="5.4" fill="#bdbdbd"/><rect x="672.0" y="248.1" width="1.0" height="5.4" fill="#bdbdbd"/><rect x="676.5" y="248.1" width="1.0" height="5.4" fill="#bdbdbd"/><rect x="681.5" y="248.1" width="1.0" height="5.4" fill="#bdbdbd"/><line x1="543.3" y1="258.3" x2="612.7" y2="258.3" stroke="#bdbdbd" stroke-width="1"/><rect x="543.3" y="255.6" width="3.2" height="5.4" fill="#bdbdbd"/><rect x="547.3" y="255.6" width="2.7" height="5.4" fill="#bdbdbd"/><rect x="550.8" y="255.6" width="2.2" height="5.4" fill="#bdbdbd"/><rect x="553.8" y="255.6" width="2.2" height="5.4" fill="#bdbdbd"/><rect x="557" y="255.6" width="2.0" height="5.4" fill="#bdbdbd"/><rect x="560" y="255.6" width="1.8" height="5.4" fill="#bdbdbd"/><rect x="563.5" y="255.6" width="2.0" height="5.4" fill="#bdbdbd"/><rect x="567" y="255.6" width="2.0" height="5.4" fill="#bdbdbd"/><rect x="570.5" y="255.6" width="1.5" height="5.4" fill="#bdbdbd"/><rect x="576" y="255.6" width="2.5" height="5.4" fill="#bdbdbd"/><rect x="584" y="255.6" width="2.5" height="5.4" fill="#bdbdbd"/><rect x="573.5" y="255.6" width="1.0" height="5.4" fill="#bdbdbd"/><rect x="580.5" y="255.6" width="1.0" height="5.4" fill="#bdbdbd"/><rect x="589.5" y="255.6" width="1.0" height="5.4" fill="#bdbdbd"/><rect x="594.5" y="255.6" width="1.0" height="5.4" fill="#bdbdbd"/><rect x="600.5" y="255.6" width="1.0" height="5.4" fill="#bdbdbd"/><rect x="607.0" y="255.6" width="1.0" height="5.4" fill="#bdbdbd"/><rect x="612.2" y="255.6" width="1.0" height="5.4" fill="#bdbdbd"/><rect x="623.2" y="255.4" width="3.4" height="5.8" fill="#33a3dc"/><line x1="652.9" y1="258.3" x2="672.6" y2="258.3" stroke="#bdbdbd" stroke-width="1"/><rect x="652.9" y="255.6" width="2.1" height="5.4" fill="#bdbdbd"/><rect x="656.5" y="255.6" width="1.8" height="5.4" fill="#bdbdbd"/><rect x="660" y="255.6" width="2.2" height="5.4" fill="#bdbdbd"/><rect x="664.5" y="255.6" width="1.0" height="5.4" fill="#bdbdbd"/><rect x="667.5" y="256.8" width="1.0" height="3" fill="#bdbdbd"/><rect x="670.5" y="256.8" width="1.0" height="3" fill="#bdbdbd"/><text x="590.0" y="245.5" font-size="6.6" fill="#a8a8a8" font-style="italic" textLength="39.5" lengthAdjust="spacingAndGlyphs">BRWD1−AS2</text><text x="644.0" y="245.5" font-size="6.6" fill="#a8a8a8" font-style="italic" textLength="16" lengthAdjust="spacingAndGlyphs">GET1</text><text x="533.8" y="269.3" font-size="6.6" fill="#a8a8a8" font-style="italic" textLength="22.6" lengthAdjust="spacingAndGlyphs">PSMG1</text><text x="568.8" y="269.3" font-size="6.6" fill="#a8a8a8" font-style="italic" textLength="23.5" lengthAdjust="spacingAndGlyphs">BRWD1</text><text x="612.7" y="269.3" font-size="6.6" fill="#33a3dc" font-style="italic" textLength="24.1" lengthAdjust="spacingAndGlyphs">HMGN1</text><text x="652.9" y="269.3" font-size="6.6" fill="#a8a8a8" font-style="italic" textLength="19.7" lengthAdjust="spacingAndGlyphs">LCA5L</text><text x="17.2" y="565.2" font-size="6" fill="#b0b0b0" text-anchor="middle">+</text><text x="17.2" y="575.1" font-size="6" fill="#b0b0b0" text-anchor="middle">–</text><line x1="100.5" y1="563.4000000000001" x2="170.6" y2="563.4000000000001" stroke="#33a3dc" stroke-width="1.5"/><rect x="110.2" y="560.9" width="1.1" height="5" fill="#33a3dc"/><rect x="134.9" y="560.9" width="1.1" height="5" fill="#33a3dc"/><rect x="145.2" y="560.9" width="1.1" height="5" fill="#33a3dc"/><rect x="159.8" y="560.9" width="1.1" height="5" fill="#33a3dc"/><rect x="161.8" y="560.9" width="1.1" height="5" fill="#33a3dc"/><rect x="163.9" y="560.9" width="1.1" height="5" fill="#33a3dc"/><rect x="166" y="561.4" width="3.0" height="4" fill="#33a3dc"/><path d="M168.5 560.9000000000001L171 563.4000000000001L168.5 565.9000000000001Z" fill="#33a3dc"/><text x="121.0" y="558.2" font-size="6.6" fill="#33a3dc" font-style="italic" textLength="29" lengthAdjust="spacingAndGlyphs">RNF144B</text><text x="258.1" y="565.2" font-size="6" fill="#b0b0b0" text-anchor="middle">+</text><text x="258.1" y="575.1" font-size="6" fill="#b0b0b0" text-anchor="middle">–</text><line x1="266.9" y1="563.4000000000001" x2="272.7" y2="563.4000000000001" stroke="#bdbdbd" stroke-width="1"/><line x1="281.5" y1="563.4000000000001" x2="361.8" y2="563.4000000000001" stroke="#33a3dc" stroke-width="1.5"/><rect x="285.2" y="560.7" width="1.3" height="5.4" fill="#33a3dc"/><rect x="292.6" y="560.7" width="1.3" height="5.4" fill="#33a3dc"/><rect x="297.0" y="560.7" width="1.3" height="5.4" fill="#33a3dc"/><rect x="315.9" y="560.7" width="1.3" height="5.4" fill="#33a3dc"/><rect x="323.2" y="560.7" width="1.3" height="5.4" fill="#33a3dc"/><rect x="329.1" y="560.7" width="1.3" height="5.4" fill="#33a3dc"/><rect x="337.8" y="560.7" width="1.3" height="5.4" fill="#33a3dc"/><rect x="354.5" y="560.7" width="7.3" height="5.4" fill="#33a3dc"/><rect x="366.2" y="560.7" width="2.3" height="5.4" fill="#bdbdbd"/><rect x="369.2" y="560.7" width="2.3" height="5.4" fill="#bdbdbd"/><rect x="438.7" y="560.7" width="1.0" height="5.4" fill="#bdbdbd"/><path d="M266.4 568.4000000000001L264.6 570.9000000000001L266.4 573.4000000000001" fill="none" stroke="#bdbdbd" stroke-width="0.9"/><rect x="272.7" y="568.2" width="5.9" height="5.4" fill="#bdbdbd"/><line x1="376.4" y1="570.9000000000001" x2="417.3" y2="570.9000000000001" stroke="#bdbdbd" stroke-width="1"/><rect x="377.1" y="569.8" width="0.8" height="2.2" fill="#bdbdbd"/><rect x="380.1" y="569.8" width="0.8" height="2.2" fill="#bdbdbd"/><rect x="383.1" y="569.8" width="0.8" height="2.2" fill="#bdbdbd"/><rect x="386.1" y="569.8" width="0.8" height="2.2" fill="#bdbdbd"/><rect x="389.1" y="569.8" width="0.8" height="2.2" fill="#bdbdbd"/><rect x="392.1" y="569.8" width="0.8" height="2.2" fill="#bdbdbd"/><rect x="395.1" y="569.8" width="0.8" height="2.2" fill="#bdbdbd"/><rect x="398.1" y="569.8" width="0.8" height="2.2" fill="#bdbdbd"/><rect x="401.1" y="569.8" width="0.8" height="2.2" fill="#bdbdbd"/><rect x="404.1" y="569.8" width="0.8" height="2.2" fill="#bdbdbd"/><rect x="407.1" y="569.8" width="0.8" height="2.2" fill="#bdbdbd"/><rect x="410.1" y="569.8" width="0.8" height="2.2" fill="#bdbdbd"/><rect x="413.1" y="569.8" width="0.8" height="2.2" fill="#bdbdbd"/><rect x="416.1" y="569.8" width="0.8" height="2.2" fill="#bdbdbd"/><text x="311.6" y="558.2" font-size="6.6" fill="#33a3dc" font-style="italic" textLength="21" lengthAdjust="spacingAndGlyphs">WWP2</text><text x="345.7" y="558.2" font-size="6.6" fill="#a8a8a8" font-style="italic" textLength="24.3" lengthAdjust="spacingAndGlyphs">MIR140</text><text x="383.7" y="558.2" font-size="6.6" fill="#a8a8a8" font-style="italic" textLength="35.6" lengthAdjust="spacingAndGlyphs">MIR1972−2</text><text x="266.9" y="581.9" font-size="6.6" fill="#a8a8a8" font-style="italic" textLength="17.5" lengthAdjust="spacingAndGlyphs">NOB1</text><text x="363.2" y="581.9" font-size="6.6" fill="#a8a8a8" font-style="italic" textLength="65.8" lengthAdjust="spacingAndGlyphs">PDXDC2P−NPIPB14P</text><text x="498.9" y="565.2" font-size="6" fill="#b0b0b0" text-anchor="middle">+</text><text x="498.9" y="575.1" font-size="6" fill="#b0b0b0" text-anchor="middle">–</text><line x1="505.4" y1="563.4000000000001" x2="539" y2="563.4000000000001" stroke="#bdbdbd" stroke-width="1"/><rect x="505.5" y="561.9" width="1.0" height="3" fill="#bdbdbd"/><rect x="508.5" y="561.9" width="1.0" height="3" fill="#bdbdbd"/><rect x="513" y="560.7" width="2.0" height="5.4" fill="#bdbdbd"/><rect x="516" y="560.7" width="2.0" height="5.4" fill="#bdbdbd"/><rect x="519" y="560.7" width="2.0" height="5.4" fill="#bdbdbd"/><rect x="522" y="560.7" width="5.0" height="5.4" fill="#bdbdbd"/><rect x="529.5" y="560.7" width="1.0" height="5.4" fill="#bdbdbd"/><rect x="532.5" y="560.7" width="1.0" height="5.4" fill="#bdbdbd"/><rect x="535.5" y="560.7" width="1.0" height="5.4" fill="#bdbdbd"/><rect x="538.5" y="560.7" width="1.0" height="5.4" fill="#bdbdbd"/><line x1="598.9" y1="563.4000000000001" x2="633.9" y2="563.4000000000001" stroke="#bdbdbd" stroke-width="1"/><rect x="598.9" y="560.7" width="3.4" height="5.4" fill="#bdbdbd"/><rect x="607.5" y="560.7" width="1.0" height="5.4" fill="#bdbdbd"/><rect x="617.0" y="560.7" width="1.0" height="5.4" fill="#bdbdbd"/><rect x="621.5" y="560.7" width="1.0" height="5.4" fill="#bdbdbd"/><rect x="633.4" y="560.7" width="1.0" height="5.4" fill="#bdbdbd"/><line x1="540.5" y1="571.2" x2="592.4" y2="571.2" stroke="#33a3dc" stroke-width="1.5"/><rect x="539.9" y="568.5" width="1.3" height="5.4" fill="#33a3dc"/><rect x="541.9" y="568.5" width="1.3" height="5.4" fill="#33a3dc"/><rect x="544.4" y="568.5" width="1.3" height="5.4" fill="#33a3dc"/><rect x="546.9" y="568.5" width="1.3" height="5.4" fill="#33a3dc"/><rect x="549.4" y="568.5" width="1.3" height="5.4" fill="#33a3dc"/><rect x="552.6" y="568.5" width="1.3" height="5.4" fill="#33a3dc"/><rect x="555.8" y="568.5" width="1.3" height="5.4" fill="#33a3dc"/><rect x="558.4" y="568.5" width="1.3" height="5.4" fill="#33a3dc"/><rect x="560.4" y="568.5" width="1.3" height="5.4" fill="#33a3dc"/><rect x="591.8" y="568.5" width="1.3" height="5.4" fill="#33a3dc"/><text x="514.2" y="558.2" font-size="6.6" fill="#a8a8a8" font-style="italic" textLength="16.1" lengthAdjust="spacingAndGlyphs">RGL1</text><text x="597.4" y="558.2" font-size="6.6" fill="#a8a8a8" font-style="italic" textLength="24.8" lengthAdjust="spacingAndGlyphs">TSEN15</text><text x="549.2" y="581.9" font-size="6.6" fill="#33a3dc" font-style="italic" textLength="34.5" lengthAdjust="spacingAndGlyphs">COLGALT2</text><text x="24.0" y="282.1" font-size="7" fill="#1a1a1a" stroke="#1a1a1a" stroke-width="0.15">52,394,305 bp</text><text x="112.5" y="282.1" font-size="7" fill="#111" text-anchor="middle" font-weight="bold">chr3</text><text x="202.0" y="282.1" font-size="7" fill="#1a1a1a" text-anchor="end" stroke="#1a1a1a" stroke-width="0.15">52,983,659 bp</text><text x="263.0" y="282.1" font-size="7" fill="#1a1a1a" stroke="#1a1a1a" stroke-width="0.15">37,549,789 bp</text><text x="352.3" y="282.1" font-size="7" fill="#111" text-anchor="middle" font-weight="bold">chr22</text><text x="441.0" y="282.1" font-size="7" fill="#1a1a1a" text-anchor="end" stroke="#1a1a1a" stroke-width="0.15">38,058,533 bp</text><text x="505.0" y="282.1" font-size="7" fill="#1a1a1a" stroke="#1a1a1a" stroke-width="0.15">39,093,707 bp</text><text x="593.5" y="282.1" font-size="7" fill="#111" text-anchor="middle" font-weight="bold">chr21</text><text x="683.0" y="282.1" font-size="7" fill="#1a1a1a" text-anchor="end" stroke="#1a1a1a" stroke-width="0.15">39,467,315 bp</text><text x="24.0" y="594.7" font-size="7" fill="#1a1a1a" stroke="#1a1a1a" stroke-width="0.15">18,299,163 bp</text><text x="112.2" y="594.7" font-size="7" fill="#111" text-anchor="middle" font-weight="bold">chr6</text><text x="202.0" y="594.7" font-size="7" fill="#1a1a1a" text-anchor="end" stroke="#1a1a1a" stroke-width="0.15">18,503,902 bp</text><text x="263.0" y="594.7" font-size="7" fill="#1a1a1a" stroke="#1a1a1a" stroke-width="0.15">69,721,787 bp</text><text x="349.4" y="594.7" font-size="7" fill="#111" text-anchor="middle" font-weight="bold">chr16</text><text x="441.0" y="594.7" font-size="7" fill="#1a1a1a" text-anchor="end" stroke="#1a1a1a" stroke-width="0.15">70,121,902 bp</text><text x="505.0" y="594.7" font-size="7" fill="#1a1a1a" stroke="#1a1a1a" stroke-width="0.15">183,856,994 bp</text><text x="593.0" y="594.7" font-size="7" fill="#111" text-anchor="middle" font-weight="bold">chr1</text><text x="683.0" y="594.7" font-size="7" fill="#1a1a1a" text-anchor="end" stroke="#1a1a1a" stroke-width="0.15">184,225,459 bp</text><text x="334.0" y="106.3" font-size="7.1" fill="#e5473b" textLength="37.4" lengthAdjust="spacingAndGlyphs" stroke="#e5473b" stroke-width="0.1">rs13057823</text><text x="360.2" y="124.0" font-size="7.1" fill="#f08c86" textLength="33.8" lengthAdjust="spacingAndGlyphs" stroke="#f08c86" stroke-width="0.1">rs2246503</text><text x="337.9" y="182.0" font-size="7.1" fill="#e5473b" textLength="33.6" lengthAdjust="spacingAndGlyphs" stroke="#e5473b" stroke-width="0.1">rs2246503</text><text x="307.0" y="198.4" font-size="7.1" fill="#f08c86" textLength="37" lengthAdjust="spacingAndGlyphs" stroke="#f08c86" stroke-width="0.1">rs13057823</text><text x="267.6" y="120.9" font-size="6.6" fill="#1a1a1a" textLength="41.4" lengthAdjust="spacingAndGlyphs" stroke="#1a1a1a" stroke-width="0.15">(rs13057823)</text><text x="267.6" y="195.2" font-size="6.6" fill="#1a1a1a" textLength="36.8" lengthAdjust="spacingAndGlyphs" stroke="#1a1a1a" stroke-width="0.15">(rs2246503)</text></svg></body></html>
